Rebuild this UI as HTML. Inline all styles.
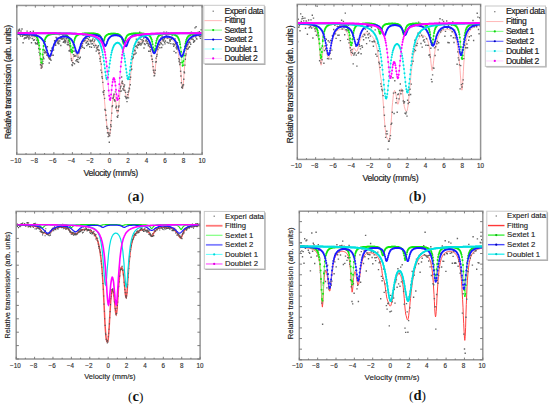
<!DOCTYPE html><html><head><meta charset="utf-8"><style>html,body{margin:0;padding:0;background:#fff;width:550px;height:407px;overflow:hidden}svg{display:block}text{font-family:"Liberation Sans",sans-serif}</style></head><body>
<svg width="550" height="407" viewBox="0 0 550 407">
<rect width="550" height="407" fill="#fff"/>
<defs><clipPath id="clipa"><rect x="16.8" y="5.45" width="185.3" height="148.85"/></clipPath></defs>
<g clip-path="url(#clipa)">
<path d="M16.8 34.0 L17.2 34.0 L17.5 34.0 L17.9 34.0 L18.3 34.1 L18.7 34.1 L19.0 34.1 L19.4 34.1 L19.8 34.1 L20.1 34.2 L20.5 34.2 L20.9 34.2 L21.2 34.2 L21.6 34.3 L22.0 34.3 L22.4 34.3 L22.7 34.4 L23.1 34.4 L23.5 34.4 L23.8 34.5 L24.2 34.5 L24.6 34.5 L25.0 34.6 L25.3 34.6 L25.7 34.7 L26.1 34.7 L26.4 34.8 L26.8 34.8 L27.2 34.9 L27.5 34.9 L27.9 35.0 L28.3 35.1 L28.7 35.1 L29.0 35.2 L29.4 35.3 L29.8 35.4 L30.1 35.5 L30.5 35.6 L30.9 35.7 L31.3 35.8 L31.6 35.9 L32.0 36.1 L32.4 36.2 L32.7 36.4 L33.1 36.6 L33.5 36.8 L33.8 37.0 L34.2 37.2 L34.6 37.5 L35.0 37.8 L35.3 38.2 L35.7 38.6 L36.1 39.1 L36.4 39.6 L36.8 40.3 L37.2 41.0 L37.6 42.0 L37.9 43.1 L38.3 44.5 L38.7 46.2 L39.0 48.3 L39.4 51.0 L39.8 54.2 L40.1 58.0 L40.5 62.2 L40.9 66.0 L41.3 68.6 L41.6 68.9 L42.0 67.2 L42.4 64.1 L42.7 60.8 L43.1 57.8 L43.5 55.4 L43.9 53.6 L44.2 52.5 L44.6 51.8 L45.0 51.5 L45.3 51.5 L45.7 51.8 L46.1 52.3 L46.4 53.0 L46.8 53.9 L47.2 54.8 L47.6 55.8 L47.9 56.7 L48.3 57.5 L48.7 58.2 L49.0 58.6 L49.4 58.7 L49.8 58.5 L50.2 58.0 L50.5 57.2 L50.9 56.3 L51.3 55.1 L51.6 53.8 L52.0 52.5 L52.4 51.2 L52.7 50.0 L53.1 48.8 L53.5 47.7 L53.9 46.6 L54.2 45.7 L54.6 44.9 L55.0 44.1 L55.3 43.4 L55.7 42.8 L56.1 42.2 L56.5 41.7 L56.8 41.3 L57.2 40.9 L57.6 40.5 L57.9 40.2 L58.3 39.9 L58.7 39.7 L59.0 39.4 L59.4 39.3 L59.8 39.1 L60.2 39.0 L60.5 38.8 L60.9 38.7 L61.3 38.7 L61.6 38.6 L62.0 38.6 L62.4 38.6 L62.8 38.6 L63.1 38.6 L63.5 38.6 L63.9 38.7 L64.2 38.8 L64.6 38.9 L65.0 39.0 L65.3 39.2 L65.7 39.4 L66.1 39.7 L66.5 40.0 L66.8 40.3 L67.2 40.8 L67.6 41.3 L67.9 41.9 L68.3 42.7 L68.7 43.6 L69.1 44.7 L69.4 46.2 L69.8 47.9 L70.2 50.1 L70.5 52.6 L70.9 55.5 L71.3 58.4 L71.6 60.6 L72.0 61.5 L72.4 61.0 L72.8 59.6 L73.1 57.8 L73.5 56.3 L73.9 55.2 L74.2 54.6 L74.6 54.4 L75.0 54.5 L75.4 54.9 L75.7 55.4 L76.1 56.0 L76.5 56.5 L76.8 56.9 L77.2 57.1 L77.6 56.9 L77.9 56.5 L78.3 55.8 L78.7 54.8 L79.1 53.7 L79.4 52.5 L79.8 51.3 L80.2 50.0 L80.5 48.9 L80.9 47.8 L81.3 46.8 L81.7 45.9 L82.0 45.1 L82.4 44.4 L82.8 43.8 L83.1 43.2 L83.5 42.7 L83.9 42.3 L84.2 41.9 L84.6 41.6 L85.0 41.4 L85.4 41.1 L85.7 40.9 L86.1 40.8 L86.5 40.6 L86.8 40.5 L87.2 40.5 L87.6 40.4 L88.0 40.4 L88.3 40.4 L88.7 40.4 L89.1 40.4 L89.4 40.5 L89.8 40.5 L90.2 40.6 L90.5 40.7 L90.9 40.9 L91.3 41.0 L91.7 41.2 L92.0 41.4 L92.4 41.6 L92.8 41.8 L93.1 42.1 L93.5 42.3 L93.9 42.7 L94.3 43.0 L94.6 43.4 L95.0 43.8 L95.4 44.3 L95.7 44.8 L96.1 45.3 L96.5 45.9 L96.8 46.6 L97.2 47.4 L97.6 48.2 L98.0 49.2 L98.3 50.2 L98.7 51.4 L99.1 52.7 L99.4 54.3 L99.8 56.0 L100.2 58.0 L100.6 60.3 L100.9 63.0 L101.3 66.1 L101.7 69.6 L102.0 73.6 L102.4 77.8 L102.8 82.0 L103.1 86.1 L103.5 89.8 L103.9 93.6 L104.3 97.6 L104.6 101.8 L105.0 106.2 L105.4 110.6 L105.7 114.8 L106.1 118.6 L106.5 122.0 L106.9 125.1 L107.2 127.7 L107.6 130.0 L108.0 132.1 L108.3 133.9 L108.7 135.3 L109.1 136.2 L109.4 136.1 L109.8 134.7 L110.2 132.0 L110.6 128.0 L110.9 123.1 L111.3 117.8 L111.7 112.4 L112.0 107.4 L112.4 103.1 L112.8 99.5 L113.2 96.8 L113.5 94.9 L113.9 93.9 L114.3 93.8 L114.6 94.5 L115.0 96.1 L115.4 98.3 L115.8 101.2 L116.1 104.5 L116.5 107.7 L116.9 110.6 L117.2 112.6 L117.6 113.3 L118.0 112.4 L118.3 110.1 L118.7 106.6 L119.1 102.5 L119.5 98.1 L119.8 93.9 L120.2 90.1 L120.6 86.9 L120.9 84.4 L121.3 82.6 L121.7 81.6 L122.1 81.4 L122.4 81.9 L122.8 83.0 L123.2 84.7 L123.5 86.4 L123.9 88.0 L124.3 89.2 L124.6 90.2 L125.0 91.4 L125.4 92.7 L125.8 94.2 L126.1 95.6 L126.5 96.8 L126.9 97.6 L127.2 97.9 L127.6 97.7 L128.0 96.8 L128.4 95.2 L128.7 92.8 L129.1 89.9 L129.5 86.5 L129.8 82.8 L130.2 79.1 L130.6 75.4 L130.9 71.9 L131.3 68.7 L131.7 65.7 L132.1 63.0 L132.4 60.5 L132.8 58.4 L133.2 56.4 L133.5 54.7 L133.9 53.1 L134.3 51.8 L134.7 50.5 L135.0 49.4 L135.4 48.5 L135.8 47.6 L136.1 46.8 L136.5 46.1 L136.9 45.5 L137.2 44.9 L137.6 44.4 L138.0 43.9 L138.4 43.5 L138.7 43.1 L139.1 42.8 L139.5 42.5 L139.8 42.2 L140.2 42.0 L140.6 41.8 L141.0 41.6 L141.3 41.4 L141.7 41.3 L142.1 41.2 L142.4 41.1 L142.8 41.1 L143.2 41.1 L143.5 41.1 L143.9 41.1 L144.3 41.1 L144.7 41.2 L145.0 41.3 L145.4 41.5 L145.8 41.7 L146.1 41.9 L146.5 42.2 L146.9 42.5 L147.3 42.9 L147.6 43.3 L148.0 43.8 L148.4 44.4 L148.7 45.1 L149.1 45.9 L149.5 46.9 L149.8 48.0 L150.2 49.2 L150.6 50.7 L151.0 52.4 L151.3 54.4 L151.7 56.7 L152.1 59.3 L152.4 62.2 L152.8 65.5 L153.2 68.8 L153.6 71.8 L153.9 73.9 L154.3 74.3 L154.7 73.0 L155.0 70.3 L155.4 66.9 L155.8 63.6 L156.1 60.4 L156.5 57.5 L156.9 55.1 L157.3 52.9 L157.6 51.0 L158.0 49.3 L158.4 47.9 L158.7 46.7 L159.1 45.6 L159.5 44.6 L159.9 43.8 L160.2 43.1 L160.6 42.5 L161.0 41.9 L161.3 41.4 L161.7 41.0 L162.1 40.6 L162.4 40.3 L162.8 40.0 L163.2 39.7 L163.6 39.5 L163.9 39.3 L164.3 39.1 L164.7 39.0 L165.0 38.9 L165.4 38.7 L165.8 38.7 L166.2 38.6 L166.5 38.5 L166.9 38.5 L167.3 38.5 L167.6 38.5 L168.0 38.5 L168.4 38.5 L168.7 38.6 L169.1 38.7 L169.5 38.7 L169.9 38.8 L170.2 39.0 L170.6 39.1 L171.0 39.3 L171.3 39.4 L171.7 39.7 L172.1 39.9 L172.5 40.2 L172.8 40.5 L173.2 40.8 L173.6 41.2 L173.9 41.7 L174.3 42.2 L174.7 42.7 L175.0 43.3 L175.4 44.0 L175.8 44.8 L176.2 45.7 L176.5 46.7 L176.9 47.9 L177.3 49.1 L177.6 50.5 L178.0 52.1 L178.4 53.9 L178.8 55.9 L179.1 58.2 L179.5 60.7 L179.9 63.4 L180.2 66.5 L180.6 70.0 L181.0 73.9 L181.3 78.1 L181.7 82.5 L182.1 86.4 L182.5 88.7 L182.8 88.6 L183.2 85.8 L183.6 81.0 L183.9 75.5 L184.3 70.2 L184.7 65.4 L185.1 61.4 L185.4 58.0 L185.8 55.1 L186.2 52.7 L186.5 50.6 L186.9 48.9 L187.3 47.4 L187.6 46.1 L188.0 44.9 L188.4 43.9 L188.8 43.1 L189.1 42.3 L189.5 41.6 L189.9 41.0 L190.2 40.5 L190.6 40.0 L191.0 39.5 L191.4 39.1 L191.7 38.8 L192.1 38.5 L192.5 38.2 L192.8 37.9 L193.2 37.6 L193.6 37.4 L193.9 37.2 L194.3 37.0 L194.7 36.8 L195.1 36.6 L195.4 36.5 L195.8 36.3 L196.2 36.2 L196.5 36.1 L196.9 36.0 L197.3 35.8 L197.7 35.7 L198.0 35.6 L198.4 35.5 L198.8 35.5 L199.1 35.4 L199.5 35.3 L199.9 35.2 L200.2 35.2 L200.6 35.1 L201.0 35.0 L201.4 35.0 L201.7 34.9 L202.1 34.9" fill="none" stroke="#ff9a9a" stroke-width="0.8"/>
<path d="M17.0 38.5h0M17.3 39.1h0M17.7 34.3h0M18.1 31.4h0M18.4 30.2h0M18.8 34.2h0M19.2 30.5h0M19.5 29.1h0M19.9 34.8h0M20.2 34.6h0M20.6 36.1h0M21.0 31.0h0M21.3 34.3h0M21.7 34.0h0M22.0 29.0h0M22.4 36.2h0M22.8 35.5h0M23.1 42.8h0M23.5 35.1h0M23.9 34.0h0M24.2 38.8h0M24.6 35.2h0M24.9 37.8h0M25.3 33.3h0M25.7 35.4h0M26.0 38.3h0M26.4 37.2h0M26.8 35.3h0M27.1 31.1h0M27.5 36.5h0M27.8 35.3h0M28.2 37.6h0M28.6 35.9h0M28.9 39.0h0M29.3 35.1h0M29.6 36.1h0M30.0 37.8h0M30.4 31.7h0M30.7 34.2h0M31.1 34.0h0M31.5 42.8h0M31.8 35.7h0M32.2 38.4h0M32.5 38.5h0M32.9 35.5h0M33.3 31.2h0M33.6 40.2h0M34.0 35.7h0M34.4 39.8h0M34.7 33.0h0M35.1 36.4h0M35.4 42.7h0M35.8 43.7h0M36.2 34.6h0M36.5 35.1h0M36.9 40.3h0M37.2 43.7h0M37.6 42.7h0M38.0 44.3h0M38.3 41.2h0M38.7 48.4h0M39.1 52.4h0M39.4 49.5h0M39.8 49.2h0M40.1 55.3h0M40.5 64.7h0M40.9 59.8h0M41.2 68.1h0M41.6 65.5h0M42.0 67.0h0M42.3 63.8h0M42.7 61.4h0M43.0 63.6h0M43.4 57.3h0M43.8 58.7h0M44.1 52.2h0M44.5 50.3h0M44.8 52.9h0M45.2 41.6h0M45.6 51.5h0M45.9 52.7h0M46.3 48.4h0M46.7 55.1h0M47.0 52.4h0M47.4 46.7h0M47.7 55.5h0M48.1 53.7h0M48.5 56.0h0M48.8 57.8h0M49.2 63.0h0M49.6 59.0h0M49.9 58.3h0M50.3 59.2h0M50.6 50.6h0M51.0 60.3h0M51.4 51.0h0M51.7 55.1h0M52.1 48.3h0M52.4 47.6h0M52.8 48.4h0M53.2 55.3h0M53.5 50.0h0M53.9 44.4h0M54.3 44.6h0M54.6 40.8h0M55.0 43.9h0M55.3 41.4h0M55.7 45.3h0M56.1 37.5h0M56.4 40.6h0M56.8 38.3h0M57.2 38.4h0M57.5 43.0h0M57.9 40.7h0M58.2 42.0h0M58.6 43.9h0M59.0 43.5h0M59.3 34.5h0M59.7 41.0h0M60.0 32.8h0M60.4 38.6h0M60.8 45.5h0M61.1 38.0h0M61.5 37.3h0M61.9 39.2h0M62.2 38.6h0M62.6 38.7h0M62.9 35.9h0M63.3 42.4h0M63.7 41.8h0M64.0 38.0h0M64.4 39.9h0M64.8 41.3h0M65.1 42.7h0M65.5 40.7h0M65.8 41.9h0M66.2 38.8h0M66.6 36.3h0M66.9 38.7h0M67.3 44.4h0M67.6 44.8h0M68.0 42.5h0M68.4 40.8h0M68.7 44.8h0M69.1 50.7h0M69.5 51.0h0M69.8 45.7h0M70.2 50.0h0M70.5 47.6h0M70.9 51.5h0M71.3 58.9h0M71.6 60.6h0M72.0 64.8h0M72.4 65.5h0M72.7 62.7h0M73.1 62.7h0M73.4 54.6h0M73.8 51.4h0M74.2 56.4h0M74.5 63.8h0M74.9 55.7h0M75.2 50.7h0M75.6 56.1h0M76.0 60.8h0M76.3 52.7h0M76.7 59.6h0M77.1 54.9h0M77.4 61.5h0M77.8 59.5h0M78.1 57.2h0M78.5 62.3h0M78.9 52.9h0M79.2 50.8h0M79.6 58.5h0M80.0 47.7h0M80.3 57.3h0M80.7 48.3h0M81.0 43.8h0M81.4 46.5h0M81.8 46.1h0M82.1 45.6h0M82.5 43.6h0M82.8 47.4h0M83.2 35.0h0M83.6 40.7h0M83.9 41.3h0M84.3 48.3h0M84.7 34.6h0M85.0 40.2h0M85.4 37.1h0M85.7 38.6h0M86.1 43.0h0M86.5 42.1h0M86.8 45.6h0M87.2 38.4h0M87.6 41.4h0M87.9 44.5h0M88.3 43.5h0M88.6 39.2h0M89.0 44.4h0M89.4 37.2h0M89.7 46.8h0M90.1 41.1h0M90.4 40.3h0M90.8 41.8h0M91.2 43.9h0M91.5 47.2h0M91.9 40.8h0M92.3 40.2h0M92.6 43.8h0M93.0 38.9h0M93.3 36.3h0M93.7 45.4h0M94.1 41.5h0M94.4 47.1h0M94.8 40.0h0M95.2 33.9h0M95.5 45.5h0M95.9 45.5h0M96.2 51.1h0M96.6 48.0h0M97.0 47.9h0M97.3 49.7h0M97.7 47.2h0M98.0 49.7h0M98.4 45.7h0M98.8 53.5h0M99.1 50.2h0M99.5 52.9h0M99.9 58.7h0M100.2 61.4h0M100.6 56.9h0M100.9 70.1h0M101.3 64.1h0M101.7 72.5h0M102.0 76.8h0M102.4 78.4h0M102.8 82.4h0M103.1 92.0h0M103.5 92.5h0M103.8 94.6h0M104.2 90.6h0M104.6 98.4h0M104.9 109.4h0M105.3 110.3h0M105.6 110.4h0M106.0 115.3h0M106.4 120.0h0M106.7 126.5h0M107.1 128.2h0M107.5 132.7h0M107.8 128.5h0M108.2 136.6h0M108.5 133.0h0M108.9 134.8h0M109.3 142.3h0M109.6 135.8h0M110.0 133.1h0M110.4 129.7h0M110.7 124.7h0M111.1 126.5h0M111.4 120.6h0M111.8 113.1h0M112.2 106.6h0M112.5 105.6h0M112.9 98.4h0M113.3 97.8h0M113.6 96.0h0M114.0 94.2h0M114.3 99.7h0M114.7 100.9h0M115.1 101.0h0M115.4 91.9h0M115.8 107.9h0M116.1 107.1h0M116.5 106.3h0M116.9 110.6h0M117.2 116.6h0M117.6 117.4h0M118.0 115.5h0M118.3 110.8h0M118.7 107.1h0M119.0 105.9h0M119.4 98.4h0M119.8 91.4h0M120.1 88.6h0M120.5 87.1h0M120.9 86.1h0M121.2 91.0h0M121.6 77.0h0M121.9 83.0h0M122.3 81.3h0M122.7 83.6h0M123.0 88.7h0M123.4 90.1h0M123.7 86.8h0M124.1 86.7h0M124.5 85.0h0M124.8 90.5h0M125.2 96.4h0M125.6 92.4h0M125.9 97.2h0M126.3 98.6h0M126.6 98.5h0M127.0 101.6h0M127.4 97.5h0M127.7 94.6h0M128.1 92.3h0M128.5 97.9h0M128.8 90.9h0M129.2 88.1h0M129.5 88.7h0M129.9 79.4h0M130.3 84.7h0M130.6 77.3h0M131.0 69.7h0M131.3 66.2h0M131.7 69.3h0M132.1 58.7h0M132.4 58.3h0M132.8 58.4h0M133.2 57.2h0M133.5 54.8h0M133.9 54.6h0M134.2 50.6h0M134.6 50.3h0M135.0 54.0h0M135.3 50.9h0M135.7 46.2h0M136.1 53.0h0M136.4 39.3h0M136.8 45.9h0M137.1 47.4h0M137.5 47.9h0M137.9 44.5h0M138.2 42.3h0M138.6 45.3h0M138.9 42.2h0M139.3 44.3h0M139.7 32.3h0M140.0 43.4h0M140.4 39.1h0M140.8 45.0h0M141.1 44.1h0M141.5 43.9h0M141.8 39.9h0M142.2 42.7h0M142.6 39.9h0M142.9 41.8h0M143.3 40.6h0M143.7 38.0h0M144.0 48.0h0M144.4 43.7h0M144.7 34.0h0M145.1 44.5h0M145.5 36.6h0M145.8 40.9h0M146.2 39.9h0M146.5 40.3h0M146.9 43.4h0M147.3 41.7h0M147.6 38.3h0M148.0 43.8h0M148.4 45.7h0M148.7 51.3h0M149.1 44.4h0M149.4 42.6h0M149.8 46.5h0M150.2 51.3h0M150.5 47.4h0M150.9 49.6h0M151.3 55.9h0M151.6 56.1h0M152.0 59.4h0M152.3 59.2h0M152.7 61.6h0M153.1 66.6h0M153.4 70.3h0M153.8 72.1h0M154.1 75.9h0M154.5 75.6h0M154.9 73.5h0M155.2 70.2h0M155.6 62.1h0M156.0 58.1h0M156.3 61.8h0M156.7 56.4h0M157.0 54.5h0M157.4 48.0h0M157.8 49.6h0M158.1 46.6h0M158.5 44.5h0M158.9 44.1h0M159.2 40.1h0M159.6 44.7h0M159.9 47.7h0M160.3 40.5h0M160.7 42.7h0M161.0 38.0h0M161.4 43.7h0M161.7 47.5h0M162.1 36.3h0M162.5 39.5h0M162.8 44.9h0M163.2 41.0h0M163.6 39.9h0M163.9 32.1h0M164.3 38.6h0M164.6 42.2h0M165.0 43.9h0M165.4 41.0h0M165.7 36.6h0M166.1 36.2h0M166.5 32.2h0M166.8 34.8h0M167.2 42.4h0M167.5 38.1h0M167.9 33.8h0M168.3 43.1h0M168.6 32.7h0M169.0 43.0h0M169.3 37.6h0M169.7 40.0h0M170.1 41.3h0M170.4 39.9h0M170.8 43.6h0M171.2 39.4h0M171.5 38.4h0M171.9 37.5h0M172.2 35.0h0M172.6 37.9h0M173.0 44.1h0M173.3 43.9h0M173.7 46.2h0M174.1 51.4h0M174.4 44.8h0M174.8 44.6h0M175.1 38.9h0M175.5 43.4h0M175.9 52.7h0M176.2 47.7h0M176.6 46.4h0M176.9 49.1h0M177.3 42.6h0M177.7 47.7h0M178.0 47.7h0M178.4 46.5h0M178.8 58.6h0M179.1 61.5h0M179.5 59.9h0M179.8 64.5h0M180.2 62.8h0M180.6 71.2h0M180.9 76.0h0M181.3 82.8h0M181.7 87.2h0M182.0 87.4h0M182.4 88.0h0M182.7 86.0h0M183.1 84.6h0M183.5 84.7h0M183.8 79.2h0M184.2 72.0h0M184.5 72.9h0M184.9 65.1h0M185.3 59.3h0M185.6 55.6h0M186.0 54.0h0M186.4 48.2h0M186.7 46.3h0M187.1 49.4h0M187.4 44.7h0M187.8 44.6h0M188.2 48.8h0M188.5 42.9h0M188.9 47.4h0M189.3 42.0h0M189.6 46.7h0M190.0 42.5h0M190.3 34.2h0M190.7 44.2h0M191.1 38.7h0M191.4 32.2h0M191.8 39.1h0M192.1 39.0h0M192.5 33.6h0M192.9 35.7h0M193.2 39.5h0M193.6 42.3h0M194.0 41.2h0M194.3 41.3h0M194.7 40.7h0M195.0 27.9h0M195.4 33.9h0M195.8 37.0h0M196.1 26.8h0M196.5 38.8h0M196.9 39.1h0M197.2 33.1h0M197.6 34.4h0M197.9 32.4h0M198.3 35.5h0M198.7 35.3h0M199.0 35.4h0M199.4 31.8h0M199.7 36.6h0M200.1 34.0h0M200.5 38.4h0M200.8 36.2h0M201.2 29.8h0M201.6 29.9h0M201.9 35.1h0" stroke="#666" stroke-width="1.4" stroke-linecap="square" fill="none"/>
<path d="M16.8 33.2 L17.2 33.2 L17.5 33.2 L17.9 33.2 L18.3 33.2 L18.7 33.2 L19.0 33.2 L19.4 33.3 L19.8 33.3 L20.1 33.3 L20.5 33.3 L20.9 33.3 L21.2 33.3 L21.6 33.3 L22.0 33.3 L22.4 33.3 L22.7 33.3 L23.1 33.3 L23.5 33.4 L23.8 33.4 L24.2 33.4 L24.6 33.4 L25.0 33.4 L25.3 33.4 L25.7 33.5 L26.1 33.5 L26.4 33.5 L26.8 33.5 L27.2 33.5 L27.5 33.6 L27.9 33.6 L28.3 33.6 L28.7 33.7 L29.0 33.7 L29.4 33.7 L29.8 33.8 L30.1 33.8 L30.5 33.9 L30.9 34.0 L31.3 34.0 L31.6 34.1 L32.0 34.2 L32.4 34.3 L32.7 34.4 L33.1 34.5 L33.5 34.6 L33.8 34.8 L34.2 34.9 L34.6 35.1 L35.0 35.3 L35.3 35.6 L35.7 35.9 L36.1 36.3 L36.4 36.7 L36.8 37.2 L37.2 37.8 L37.6 38.6 L37.9 39.6 L38.3 40.8 L38.7 42.3 L39.0 44.2 L39.4 46.7 L39.8 49.7 L40.1 53.2 L40.5 57.1 L40.9 60.6 L41.3 62.8 L41.6 62.8 L42.0 60.6 L42.4 57.1 L42.7 53.2 L43.1 49.7 L43.5 46.7 L43.9 44.3 L44.2 42.3 L44.6 40.8 L45.0 39.6 L45.3 38.7 L45.7 37.9 L46.1 37.3 L46.4 36.7 L46.8 36.3 L47.2 36.0 L47.6 35.7 L47.9 35.4 L48.3 35.2 L48.7 35.0 L49.0 34.8 L49.4 34.7 L49.8 34.6 L50.2 34.5 L50.5 34.4 L50.9 34.3 L51.3 34.2 L51.6 34.2 L52.0 34.1 L52.4 34.0 L52.7 34.0 L53.1 34.0 L53.5 33.9 L53.9 33.9 L54.2 33.9 L54.6 33.8 L55.0 33.8 L55.3 33.8 L55.7 33.8 L56.1 33.8 L56.5 33.8 L56.8 33.8 L57.2 33.8 L57.6 33.7 L57.9 33.7 L58.3 33.8 L58.7 33.8 L59.0 33.8 L59.4 33.8 L59.8 33.8 L60.2 33.8 L60.5 33.8 L60.9 33.8 L61.3 33.9 L61.6 33.9 L62.0 33.9 L62.4 34.0 L62.8 34.0 L63.1 34.1 L63.5 34.2 L63.9 34.2 L64.2 34.3 L64.6 34.4 L65.0 34.5 L65.3 34.7 L65.7 34.8 L66.1 35.0 L66.5 35.2 L66.8 35.5 L67.2 35.8 L67.6 36.2 L67.9 36.7 L68.3 37.3 L68.7 38.0 L69.1 38.9 L69.4 40.1 L69.8 41.6 L70.2 43.4 L70.5 45.7 L70.9 48.2 L71.3 50.5 L71.6 52.2 L72.0 52.6 L72.4 51.5 L72.8 49.4 L73.1 46.9 L73.5 44.5 L73.9 42.4 L74.2 40.8 L74.6 39.5 L75.0 38.4 L75.4 37.6 L75.7 36.9 L76.1 36.4 L76.5 35.9 L76.8 35.6 L77.2 35.3 L77.6 35.1 L77.9 34.9 L78.3 34.7 L78.7 34.5 L79.1 34.4 L79.4 34.3 L79.8 34.2 L80.2 34.1 L80.5 34.0 L80.9 34.0 L81.3 33.9 L81.7 33.9 L82.0 33.8 L82.4 33.8 L82.8 33.7 L83.1 33.7 L83.5 33.7 L83.9 33.6 L84.2 33.6 L84.6 33.6 L85.0 33.6 L85.4 33.6 L85.7 33.6 L86.1 33.5 L86.5 33.5 L86.8 33.5 L87.2 33.5 L87.6 33.5 L88.0 33.5 L88.3 33.5 L88.7 33.5 L89.1 33.5 L89.4 33.5 L89.8 33.5 L90.2 33.5 L90.5 33.5 L90.9 33.5 L91.3 33.5 L91.7 33.5 L92.0 33.5 L92.4 33.5 L92.8 33.5 L93.1 33.6 L93.5 33.6 L93.9 33.6 L94.3 33.6 L94.6 33.7 L95.0 33.7 L95.4 33.7 L95.7 33.8 L96.1 33.8 L96.5 33.9 L96.8 34.0 L97.2 34.1 L97.6 34.2 L98.0 34.3 L98.3 34.5 L98.7 34.6 L99.1 34.9 L99.4 35.2 L99.8 35.5 L100.2 36.0 L100.6 36.6 L100.9 37.3 L101.3 38.2 L101.7 39.3 L102.0 40.4 L102.4 41.5 L102.8 42.1 L103.1 42.1 L103.5 41.5 L103.9 40.4 L104.3 39.3 L104.6 38.2 L105.0 37.3 L105.4 36.6 L105.7 36.0 L106.1 35.6 L106.5 35.2 L106.9 34.9 L107.2 34.7 L107.6 34.5 L108.0 34.4 L108.3 34.2 L108.7 34.1 L109.1 34.0 L109.4 34.0 L109.8 33.9 L110.2 33.9 L110.6 33.8 L110.9 33.8 L111.3 33.8 L111.7 33.8 L112.0 33.7 L112.4 33.7 L112.8 33.7 L113.2 33.7 L113.5 33.7 L113.9 33.7 L114.3 33.7 L114.6 33.8 L115.0 33.8 L115.4 33.8 L115.8 33.8 L116.1 33.9 L116.5 33.9 L116.9 34.0 L117.2 34.0 L117.6 34.1 L118.0 34.2 L118.3 34.3 L118.7 34.5 L119.1 34.6 L119.5 34.9 L119.8 35.1 L120.2 35.4 L120.6 35.8 L120.9 36.3 L121.3 36.9 L121.7 37.7 L122.1 38.7 L122.4 39.9 L122.8 41.3 L123.2 42.6 L123.5 43.5 L123.9 43.7 L124.3 43.1 L124.6 41.9 L125.0 40.6 L125.4 39.3 L125.8 38.2 L126.1 37.3 L126.5 36.6 L126.9 36.0 L127.2 35.6 L127.6 35.2 L128.0 34.9 L128.4 34.7 L128.7 34.5 L129.1 34.4 L129.5 34.2 L129.8 34.1 L130.2 34.0 L130.6 34.0 L130.9 33.9 L131.3 33.8 L131.7 33.8 L132.1 33.7 L132.4 33.7 L132.8 33.7 L133.2 33.7 L133.5 33.6 L133.9 33.6 L134.3 33.6 L134.7 33.6 L135.0 33.6 L135.4 33.6 L135.8 33.5 L136.1 33.5 L136.5 33.5 L136.9 33.5 L137.2 33.5 L137.6 33.5 L138.0 33.5 L138.4 33.5 L138.7 33.5 L139.1 33.5 L139.5 33.5 L139.8 33.6 L140.2 33.6 L140.6 33.6 L141.0 33.6 L141.3 33.6 L141.7 33.6 L142.1 33.7 L142.4 33.7 L142.8 33.7 L143.2 33.7 L143.5 33.8 L143.9 33.8 L144.3 33.8 L144.7 33.9 L145.0 33.9 L145.4 34.0 L145.8 34.1 L146.1 34.1 L146.5 34.2 L146.9 34.3 L147.3 34.5 L147.6 34.6 L148.0 34.7 L148.4 34.9 L148.7 35.1 L149.1 35.4 L149.5 35.7 L149.8 36.1 L150.2 36.6 L150.6 37.1 L151.0 37.9 L151.3 38.8 L151.7 39.9 L152.1 41.4 L152.4 43.2 L152.8 45.4 L153.2 47.8 L153.6 50.1 L153.9 51.8 L154.3 52.2 L154.7 51.1 L155.0 49.0 L155.4 46.6 L155.8 44.2 L156.1 42.3 L156.5 40.6 L156.9 39.4 L157.3 38.3 L157.6 37.5 L158.0 36.9 L158.4 36.4 L158.7 36.0 L159.1 35.6 L159.5 35.3 L159.9 35.1 L160.2 34.9 L160.6 34.8 L161.0 34.6 L161.3 34.5 L161.7 34.4 L162.1 34.3 L162.4 34.2 L162.8 34.2 L163.2 34.1 L163.6 34.1 L163.9 34.0 L164.3 34.0 L164.7 34.0 L165.0 33.9 L165.4 33.9 L165.8 33.9 L166.2 33.9 L166.5 33.9 L166.9 33.9 L167.3 33.9 L167.6 33.9 L168.0 33.9 L168.4 33.9 L168.7 33.9 L169.1 33.9 L169.5 33.9 L169.9 34.0 L170.2 34.0 L170.6 34.0 L171.0 34.1 L171.3 34.1 L171.7 34.2 L172.1 34.2 L172.5 34.3 L172.8 34.3 L173.2 34.4 L173.6 34.5 L173.9 34.6 L174.3 34.7 L174.7 34.8 L175.0 35.0 L175.4 35.2 L175.8 35.4 L176.2 35.6 L176.5 35.9 L176.9 36.2 L177.3 36.6 L177.6 37.0 L178.0 37.5 L178.4 38.2 L178.8 39.0 L179.1 40.0 L179.5 41.3 L179.9 42.8 L180.2 44.8 L180.6 47.3 L181.0 50.5 L181.3 54.2 L181.7 58.4 L182.1 62.5 L182.5 65.4 L182.8 66.0 L183.2 64.2 L183.6 60.5 L183.9 56.3 L184.3 52.3 L184.7 48.8 L185.1 46.0 L185.4 43.7 L185.8 42.0 L186.2 40.5 L186.5 39.4 L186.9 38.5 L187.3 37.8 L187.6 37.2 L188.0 36.7 L188.4 36.3 L188.8 35.9 L189.1 35.6 L189.5 35.4 L189.9 35.2 L190.2 35.0 L190.6 34.8 L191.0 34.7 L191.4 34.5 L191.7 34.4 L192.1 34.3 L192.5 34.2 L192.8 34.1 L193.2 34.1 L193.6 34.0 L193.9 33.9 L194.3 33.9 L194.7 33.8 L195.1 33.8 L195.4 33.7 L195.8 33.7 L196.2 33.7 L196.5 33.6 L196.9 33.6 L197.3 33.6 L197.7 33.6 L198.0 33.5 L198.4 33.5 L198.8 33.5 L199.1 33.5 L199.5 33.4 L199.9 33.4 L200.2 33.4 L200.6 33.4 L201.0 33.4 L201.4 33.4 L201.7 33.4 L202.1 33.3" fill="none" stroke="#80ff80" stroke-width="1"/>
<path d="M17.0 33.2h0M17.5 33.2h0M18.0 33.2h0M18.5 33.2h0M19.0 33.2h0M19.5 33.3h0M19.9 33.3h0M20.4 33.3h0M20.9 33.3h0M21.4 33.3h0M21.9 33.3h0M22.3 33.3h0M22.8 33.3h0M23.3 33.4h0M23.8 33.4h0M24.3 33.4h0M24.8 33.4h0M25.2 33.4h0M25.7 33.5h0M26.2 33.5h0M26.7 33.5h0M27.2 33.5h0M27.7 33.6h0M28.1 33.6h0M28.6 33.7h0M29.1 33.7h0M29.6 33.8h0M30.1 33.8h0M30.6 33.9h0M31.0 34.0h0M31.5 34.1h0M32.0 34.2h0M32.5 34.3h0M33.0 34.4h0M33.4 34.6h0M33.9 34.8h0M34.4 35.0h0M34.9 35.3h0M35.4 35.6h0M35.9 36.0h0M36.3 36.6h0M36.8 37.2h0M37.3 38.1h0M37.8 39.2h0M38.3 40.7h0M38.8 42.7h0M39.2 45.5h0M39.7 49.2h0M40.2 53.8h0M40.7 58.8h0M41.2 62.4h0M41.7 62.7h0M42.1 59.5h0M42.6 54.5h0M43.1 49.8h0M43.6 46.0h0M44.1 43.1h0M44.5 41.0h0M45.0 39.4h0M45.5 38.3h0M46.0 37.4h0M46.5 36.7h0M47.0 36.2h0M47.4 35.8h0M47.9 35.4h0M48.4 35.1h0M48.9 34.9h0M49.4 34.7h0M49.9 34.6h0M50.3 34.4h0M50.8 34.3h0M51.3 34.2h0M51.8 34.1h0M52.3 34.1h0M52.8 34.0h0M53.2 33.9h0M53.7 33.9h0M54.2 33.9h0M54.7 33.8h0M55.2 33.8h0M55.6 33.8h0M56.1 33.8h0M56.6 33.8h0M57.1 33.8h0M57.6 33.7h0M58.1 33.7h0M58.5 33.8h0M59.0 33.8h0M59.5 33.8h0M60.0 33.8h0M60.5 33.8h0M61.0 33.9h0M61.4 33.9h0M61.9 33.9h0M62.4 34.0h0M62.9 34.1h0M63.4 34.1h0M63.8 34.2h0M64.3 34.3h0M64.8 34.5h0M65.3 34.6h0M65.8 34.8h0M66.3 35.1h0M66.7 35.4h0M67.2 35.8h0M67.7 36.4h0M68.2 37.0h0M68.7 38.0h0M69.2 39.2h0M69.6 40.9h0M70.1 43.2h0M70.6 46.1h0M71.1 49.4h0M71.6 52.0h0M72.1 52.6h0M72.5 50.8h0M73.0 47.7h0M73.5 44.5h0M74.0 41.9h0M74.5 39.9h0M74.9 38.5h0M75.4 37.4h0M75.9 36.6h0M76.4 36.0h0M76.9 35.6h0M77.4 35.2h0M77.8 34.9h0M78.3 34.7h0M78.8 34.5h0M79.3 34.3h0M79.8 34.2h0M80.3 34.1h0M80.7 34.0h0M81.2 33.9h0M81.7 33.9h0M82.2 33.8h0M82.7 33.7h0M83.2 33.7h0M83.6 33.7h0M84.1 33.6h0M84.6 33.6h0M85.1 33.6h0M85.6 33.6h0M86.0 33.5h0M86.5 33.5h0M87.0 33.5h0M87.5 33.5h0M88.0 33.5h0M88.5 33.5h0M88.9 33.5h0M89.4 33.5h0M89.9 33.5h0M90.4 33.5h0M90.9 33.5h0M91.4 33.5h0M91.8 33.5h0M92.3 33.5h0M92.8 33.5h0M93.3 33.6h0M93.8 33.6h0M94.2 33.6h0M94.7 33.7h0M95.2 33.7h0M95.7 33.8h0M96.2 33.9h0M96.7 33.9h0M97.1 34.1h0M97.6 34.2h0M98.1 34.4h0M98.6 34.6h0M99.1 34.9h0M99.6 35.3h0M100.0 35.8h0M100.5 36.5h0M101.0 37.5h0M101.5 38.7h0M102.0 40.2h0M102.5 41.6h0M102.9 42.2h0M103.4 41.7h0M103.9 40.4h0M104.4 38.9h0M104.9 37.6h0M105.3 36.6h0M105.8 35.9h0M106.3 35.4h0M106.8 35.0h0M107.3 34.7h0M107.8 34.4h0M108.2 34.3h0M108.7 34.1h0M109.2 34.0h0M109.7 33.9h0M110.2 33.9h0M110.7 33.8h0M111.1 33.8h0M111.6 33.8h0M112.1 33.7h0M112.6 33.7h0M113.1 33.7h0M113.6 33.7h0M114.0 33.7h0M114.5 33.7h0M115.0 33.8h0M115.5 33.8h0M116.0 33.9h0M116.4 33.9h0M116.9 34.0h0M117.4 34.1h0M117.9 34.2h0M118.4 34.3h0M118.9 34.5h0M119.3 34.8h0M119.8 35.1h0M120.3 35.5h0M120.8 36.1h0M121.3 36.9h0M121.8 37.9h0M122.2 39.3h0M122.7 41.0h0M123.2 42.7h0M123.7 43.7h0M124.2 43.3h0M124.7 41.9h0M125.1 40.2h0M125.6 38.6h0M126.1 37.4h0M126.6 36.5h0M127.1 35.8h0M127.5 35.3h0M128.0 34.9h0M128.5 34.6h0M129.0 34.4h0M129.5 34.2h0M130.0 34.1h0M130.4 34.0h0M130.9 33.9h0M131.4 33.8h0M131.9 33.8h0M132.4 33.7h0M132.9 33.7h0M133.3 33.6h0M133.8 33.6h0M134.3 33.6h0M134.8 33.6h0M135.3 33.6h0M135.7 33.5h0M136.2 33.5h0M136.7 33.5h0M137.2 33.5h0M137.7 33.5h0M138.2 33.5h0M138.6 33.5h0M139.1 33.5h0M139.6 33.6h0M140.1 33.6h0M140.6 33.6h0M141.1 33.6h0M141.5 33.6h0M142.0 33.6h0M142.5 33.7h0M143.0 33.7h0M143.5 33.8h0M144.0 33.8h0M144.4 33.9h0M144.9 33.9h0M145.4 34.0h0M145.9 34.1h0M146.4 34.2h0M146.8 34.3h0M147.3 34.5h0M147.8 34.7h0M148.3 34.9h0M148.8 35.2h0M149.3 35.5h0M149.7 36.0h0M150.2 36.6h0M150.7 37.4h0M151.2 38.4h0M151.7 39.8h0M152.2 41.8h0M152.6 44.3h0M153.1 47.4h0M153.6 50.4h0M154.1 52.1h0M154.6 51.5h0M155.1 48.9h0M155.5 45.7h0M156.0 42.9h0M156.5 40.7h0M157.0 39.1h0M157.5 37.9h0M157.9 37.0h0M158.4 36.3h0M158.9 35.8h0M159.4 35.4h0M159.9 35.1h0M160.4 34.9h0M160.8 34.7h0M161.3 34.5h0M161.8 34.4h0M162.3 34.3h0M162.8 34.2h0M163.3 34.1h0M163.7 34.0h0M164.2 34.0h0M164.7 34.0h0M165.2 33.9h0M165.7 33.9h0M166.1 33.9h0M166.6 33.9h0M167.1 33.9h0M167.6 33.9h0M168.1 33.9h0M168.6 33.9h0M169.0 33.9h0M169.5 33.9h0M170.0 34.0h0M170.5 34.0h0M171.0 34.1h0M171.5 34.1h0M171.9 34.2h0M172.4 34.3h0M172.9 34.4h0M173.4 34.5h0M173.9 34.6h0M174.4 34.7h0M174.8 34.9h0M175.3 35.1h0M175.8 35.4h0M176.3 35.7h0M176.8 36.1h0M177.2 36.5h0M177.7 37.1h0M178.2 37.9h0M178.7 38.9h0M179.2 40.2h0M179.7 41.9h0M180.1 44.3h0M180.6 47.5h0M181.1 51.7h0M181.6 57.0h0M182.1 62.4h0M182.6 65.8h0M183.0 65.2h0M183.5 61.1h0M184.0 55.6h0M184.5 50.5h0M185.0 46.5h0M185.5 43.6h0M185.9 41.4h0M186.4 39.8h0M186.9 38.5h0M187.4 37.6h0M187.9 36.9h0M188.3 36.3h0M188.8 35.9h0M189.3 35.5h0M189.8 35.2h0M190.3 35.0h0M190.8 34.7h0M191.2 34.6h0M191.7 34.4h0M192.2 34.3h0M192.7 34.2h0M193.2 34.1h0M193.7 34.0h0M194.1 33.9h0M194.6 33.8h0M195.1 33.8h0M195.6 33.7h0M196.1 33.7h0M196.6 33.6h0M197.0 33.6h0M197.5 33.6h0M198.0 33.5h0M198.5 33.5h0M199.0 33.5h0M199.4 33.5h0M199.9 33.4h0M200.4 33.4h0M200.9 33.4h0M201.4 33.4h0M201.9 33.4h0" stroke="#10e810" stroke-width="2.0" stroke-linecap="round" fill="none"/>
<path d="M16.8 33.5 L17.2 33.5 L17.5 33.6 L17.9 33.6 L18.3 33.6 L18.7 33.6 L19.0 33.6 L19.4 33.6 L19.8 33.6 L20.1 33.6 L20.5 33.7 L20.9 33.7 L21.2 33.7 L21.6 33.7 L22.0 33.7 L22.4 33.7 L22.7 33.7 L23.1 33.8 L23.5 33.8 L23.8 33.8 L24.2 33.8 L24.6 33.8 L25.0 33.9 L25.3 33.9 L25.7 33.9 L26.1 33.9 L26.4 34.0 L26.8 34.0 L27.2 34.0 L27.5 34.0 L27.9 34.1 L28.3 34.1 L28.7 34.1 L29.0 34.2 L29.4 34.2 L29.8 34.3 L30.1 34.3 L30.5 34.3 L30.9 34.4 L31.3 34.4 L31.6 34.5 L32.0 34.5 L32.4 34.6 L32.7 34.7 L33.1 34.7 L33.5 34.8 L33.8 34.9 L34.2 35.0 L34.6 35.0 L35.0 35.1 L35.3 35.2 L35.7 35.3 L36.1 35.4 L36.4 35.5 L36.8 35.7 L37.2 35.8 L37.6 36.0 L37.9 36.1 L38.3 36.3 L38.7 36.5 L39.0 36.7 L39.4 36.9 L39.8 37.1 L40.1 37.4 L40.5 37.7 L40.9 38.0 L41.3 38.3 L41.6 38.7 L42.0 39.1 L42.4 39.6 L42.7 40.1 L43.1 40.6 L43.5 41.2 L43.9 41.9 L44.2 42.7 L44.6 43.5 L45.0 44.4 L45.3 45.4 L45.7 46.4 L46.1 47.6 L46.4 48.8 L46.8 50.1 L47.2 51.3 L47.6 52.6 L47.9 53.8 L48.3 54.8 L48.7 55.6 L49.0 56.2 L49.4 56.5 L49.8 56.4 L50.2 56.0 L50.5 55.3 L50.9 54.4 L51.3 53.3 L51.6 52.1 L52.0 50.8 L52.4 49.6 L52.7 48.4 L53.1 47.2 L53.5 46.1 L53.9 45.1 L54.2 44.2 L54.6 43.4 L55.0 42.6 L55.3 41.9 L55.7 41.3 L56.1 40.7 L56.5 40.2 L56.8 39.8 L57.2 39.4 L57.6 39.0 L57.9 38.7 L58.3 38.4 L58.7 38.1 L59.0 37.9 L59.4 37.7 L59.8 37.5 L60.2 37.3 L60.5 37.2 L60.9 37.1 L61.3 37.0 L61.6 36.9 L62.0 36.8 L62.4 36.7 L62.8 36.6 L63.1 36.6 L63.5 36.6 L63.9 36.5 L64.2 36.5 L64.6 36.5 L65.0 36.5 L65.3 36.6 L65.7 36.6 L66.1 36.7 L66.5 36.7 L66.8 36.8 L67.2 36.9 L67.6 37.0 L67.9 37.1 L68.3 37.3 L68.7 37.5 L69.1 37.7 L69.4 37.9 L69.8 38.1 L70.2 38.4 L70.5 38.7 L70.9 39.1 L71.3 39.5 L71.6 40.0 L72.0 40.5 L72.4 41.1 L72.8 41.8 L73.1 42.5 L73.5 43.4 L73.9 44.3 L74.2 45.3 L74.6 46.4 L75.0 47.5 L75.4 48.7 L75.7 49.9 L76.1 51.0 L76.5 51.9 L76.8 52.6 L77.2 53.0 L77.6 53.1 L77.9 52.8 L78.3 52.2 L78.7 51.4 L79.1 50.3 L79.4 49.2 L79.8 48.0 L80.2 46.8 L80.5 45.7 L80.9 44.6 L81.3 43.6 L81.7 42.7 L82.0 41.9 L82.4 41.2 L82.8 40.5 L83.1 39.9 L83.5 39.4 L83.9 38.9 L84.2 38.5 L84.6 38.1 L85.0 37.8 L85.4 37.5 L85.7 37.2 L86.1 37.0 L86.5 36.8 L86.8 36.6 L87.2 36.4 L87.6 36.3 L88.0 36.1 L88.3 36.0 L88.7 35.9 L89.1 35.8 L89.4 35.7 L89.8 35.6 L90.2 35.5 L90.5 35.4 L90.9 35.4 L91.3 35.3 L91.7 35.3 L92.0 35.2 L92.4 35.2 L92.8 35.2 L93.1 35.2 L93.5 35.2 L93.9 35.2 L94.3 35.2 L94.6 35.2 L95.0 35.2 L95.4 35.2 L95.7 35.2 L96.1 35.3 L96.5 35.3 L96.8 35.4 L97.2 35.5 L97.6 35.5 L98.0 35.6 L98.3 35.8 L98.7 35.9 L99.1 36.1 L99.4 36.3 L99.8 36.5 L100.2 36.8 L100.6 37.1 L100.9 37.5 L101.3 37.9 L101.7 38.4 L102.0 39.1 L102.4 39.8 L102.8 40.6 L103.1 41.5 L103.5 42.5 L103.9 43.5 L104.3 44.5 L104.6 45.3 L105.0 45.8 L105.4 45.9 L105.7 45.6 L106.1 44.9 L106.5 44.0 L106.9 43.0 L107.2 42.0 L107.6 41.0 L108.0 40.1 L108.3 39.4 L108.7 38.7 L109.1 38.1 L109.4 37.7 L109.8 37.3 L110.2 36.9 L110.6 36.6 L110.9 36.4 L111.3 36.1 L111.7 36.0 L112.0 35.8 L112.4 35.7 L112.8 35.6 L113.2 35.5 L113.5 35.4 L113.9 35.3 L114.3 35.3 L114.6 35.3 L115.0 35.2 L115.4 35.2 L115.8 35.2 L116.1 35.2 L116.5 35.3 L116.9 35.3 L117.2 35.3 L117.6 35.4 L118.0 35.5 L118.3 35.5 L118.7 35.6 L119.1 35.8 L119.5 35.9 L119.8 36.1 L120.2 36.3 L120.6 36.5 L120.9 36.8 L121.3 37.1 L121.7 37.5 L122.1 38.0 L122.4 38.5 L122.8 39.1 L123.2 39.9 L123.5 40.7 L123.9 41.7 L124.3 42.7 L124.6 43.8 L125.0 44.8 L125.4 45.6 L125.8 46.1 L126.1 46.2 L126.5 45.9 L126.9 45.2 L127.2 44.3 L127.6 43.2 L128.0 42.2 L128.4 41.2 L128.7 40.3 L129.1 39.5 L129.5 38.8 L129.8 38.3 L130.2 37.8 L130.6 37.3 L130.9 37.0 L131.3 36.7 L131.7 36.4 L132.1 36.2 L132.4 36.0 L132.8 35.9 L133.2 35.7 L133.5 35.6 L133.9 35.5 L134.3 35.4 L134.7 35.4 L135.0 35.3 L135.4 35.2 L135.8 35.2 L136.1 35.2 L136.5 35.2 L136.9 35.1 L137.2 35.1 L137.6 35.1 L138.0 35.1 L138.4 35.2 L138.7 35.2 L139.1 35.2 L139.5 35.2 L139.8 35.3 L140.2 35.3 L140.6 35.4 L141.0 35.4 L141.3 35.5 L141.7 35.6 L142.1 35.6 L142.4 35.7 L142.8 35.8 L143.2 35.9 L143.5 36.1 L143.9 36.2 L144.3 36.4 L144.7 36.5 L145.0 36.7 L145.4 36.9 L145.8 37.2 L146.1 37.4 L146.5 37.7 L146.9 38.0 L147.3 38.4 L147.6 38.8 L148.0 39.2 L148.4 39.7 L148.7 40.3 L149.1 40.9 L149.5 41.6 L149.8 42.4 L150.2 43.3 L150.6 44.2 L151.0 45.3 L151.3 46.4 L151.7 47.6 L152.1 48.8 L152.4 50.0 L152.8 51.1 L153.2 52.0 L153.6 52.8 L153.9 53.2 L154.3 53.3 L154.7 53.0 L155.0 52.5 L155.4 51.6 L155.8 50.6 L156.1 49.5 L156.5 48.3 L156.9 47.1 L157.3 46.0 L157.6 44.9 L158.0 43.9 L158.4 43.1 L158.7 42.3 L159.1 41.5 L159.5 40.9 L159.9 40.3 L160.2 39.8 L160.6 39.4 L161.0 39.0 L161.3 38.7 L161.7 38.4 L162.1 38.1 L162.4 37.8 L162.8 37.6 L163.2 37.5 L163.6 37.3 L163.9 37.2 L164.3 37.0 L164.7 36.9 L165.0 36.9 L165.4 36.8 L165.8 36.7 L166.2 36.7 L166.5 36.7 L166.9 36.7 L167.3 36.7 L167.6 36.7 L168.0 36.7 L168.4 36.7 L168.7 36.8 L169.1 36.8 L169.5 36.9 L169.9 37.0 L170.2 37.1 L170.6 37.2 L171.0 37.4 L171.3 37.5 L171.7 37.7 L172.1 37.9 L172.5 38.1 L172.8 38.4 L173.2 38.7 L173.6 39.0 L173.9 39.3 L174.3 39.7 L174.7 40.2 L175.0 40.6 L175.4 41.2 L175.8 41.8 L176.2 42.5 L176.5 43.2 L176.9 44.0 L177.3 44.9 L177.6 45.9 L178.0 47.0 L178.4 48.1 L178.8 49.3 L179.1 50.5 L179.5 51.8 L179.9 53.0 L180.2 54.1 L180.6 55.1 L181.0 55.9 L181.3 56.3 L181.7 56.5 L182.1 56.3 L182.5 55.8 L182.8 55.0 L183.2 54.1 L183.6 52.9 L183.9 51.7 L184.3 50.4 L184.7 49.1 L185.1 47.9 L185.4 46.7 L185.8 45.6 L186.2 44.6 L186.5 43.7 L186.9 42.9 L187.3 42.1 L187.6 41.4 L188.0 40.8 L188.4 40.2 L188.8 39.7 L189.1 39.2 L189.5 38.8 L189.9 38.4 L190.2 38.1 L190.6 37.7 L191.0 37.5 L191.4 37.2 L191.7 36.9 L192.1 36.7 L192.5 36.5 L192.8 36.3 L193.2 36.2 L193.6 36.0 L193.9 35.8 L194.3 35.7 L194.7 35.6 L195.1 35.5 L195.4 35.4 L195.8 35.2 L196.2 35.2 L196.5 35.1 L196.9 35.0 L197.3 34.9 L197.7 34.8 L198.0 34.8 L198.4 34.7 L198.8 34.6 L199.1 34.6 L199.5 34.5 L199.9 34.5 L200.2 34.4 L200.6 34.4 L201.0 34.3 L201.4 34.3 L201.7 34.2 L202.1 34.2" fill="none" stroke="#6060ff" stroke-width="1"/>
<path d="M17.0 33.5h0M17.5 33.6h0M18.0 33.6h0M18.5 33.6h0M19.0 33.6h0M19.5 33.6h0M19.9 33.6h0M20.4 33.6h0M20.9 33.7h0M21.4 33.7h0M21.9 33.7h0M22.3 33.7h0M22.8 33.8h0M23.3 33.8h0M23.8 33.8h0M24.3 33.8h0M24.8 33.9h0M25.2 33.9h0M25.7 33.9h0M26.2 33.9h0M26.7 34.0h0M27.2 34.0h0M27.7 34.1h0M28.1 34.1h0M28.6 34.1h0M29.1 34.2h0M29.6 34.2h0M30.1 34.3h0M30.6 34.4h0M31.0 34.4h0M31.5 34.5h0M32.0 34.5h0M32.5 34.6h0M33.0 34.7h0M33.4 34.8h0M33.9 34.9h0M34.4 35.0h0M34.9 35.1h0M35.4 35.2h0M35.9 35.4h0M36.3 35.5h0M36.8 35.7h0M37.3 35.9h0M37.8 36.1h0M38.3 36.3h0M38.8 36.5h0M39.2 36.8h0M39.7 37.1h0M40.2 37.4h0M40.7 37.8h0M41.2 38.2h0M41.7 38.7h0M42.1 39.3h0M42.6 39.9h0M43.1 40.6h0M43.6 41.4h0M44.1 42.3h0M44.5 43.4h0M45.0 44.5h0M45.5 45.9h0M46.0 47.3h0M46.5 48.9h0M47.0 50.5h0M47.4 52.2h0M47.9 53.7h0M48.4 55.1h0M48.9 56.0h0M49.4 56.4h0M49.9 56.3h0M50.3 55.7h0M50.8 54.6h0M51.3 53.2h0M51.8 51.6h0M52.3 50.0h0M52.8 48.4h0M53.2 46.9h0M53.7 45.5h0M54.2 44.3h0M54.7 43.2h0M55.2 42.2h0M55.6 41.4h0M56.1 40.7h0M56.6 40.0h0M57.1 39.5h0M57.6 39.0h0M58.1 38.6h0M58.5 38.2h0M59.0 37.9h0M59.5 37.7h0M60.0 37.4h0M60.5 37.2h0M61.0 37.1h0M61.4 36.9h0M61.9 36.8h0M62.4 36.7h0M62.9 36.6h0M63.4 36.6h0M63.8 36.5h0M64.3 36.5h0M64.8 36.5h0M65.3 36.6h0M65.8 36.6h0M66.3 36.7h0M66.7 36.8h0M67.2 36.9h0M67.7 37.1h0M68.2 37.2h0M68.7 37.5h0M69.2 37.7h0M69.6 38.0h0M70.1 38.4h0M70.6 38.8h0M71.1 39.3h0M71.6 39.9h0M72.1 40.6h0M72.5 41.4h0M73.0 42.3h0M73.5 43.4h0M74.0 44.6h0M74.5 45.9h0M74.9 47.4h0M75.4 48.9h0M75.9 50.4h0M76.4 51.7h0M76.9 52.6h0M77.4 53.1h0M77.8 52.9h0M78.3 52.2h0M78.8 51.1h0M79.3 49.6h0M79.8 48.1h0M80.3 46.5h0M80.7 45.1h0M81.2 43.8h0M81.7 42.6h0M82.2 41.6h0M82.7 40.7h0M83.2 39.9h0M83.6 39.2h0M84.1 38.7h0M84.6 38.2h0M85.1 37.7h0M85.6 37.4h0M86.0 37.0h0M86.5 36.8h0M87.0 36.5h0M87.5 36.3h0M88.0 36.1h0M88.5 35.9h0M88.9 35.8h0M89.4 35.7h0M89.9 35.6h0M90.4 35.5h0M90.9 35.4h0M91.4 35.3h0M91.8 35.3h0M92.3 35.2h0M92.8 35.2h0M93.3 35.2h0M93.8 35.2h0M94.2 35.2h0M94.7 35.2h0M95.2 35.2h0M95.7 35.2h0M96.2 35.3h0M96.7 35.3h0M97.1 35.4h0M97.6 35.5h0M98.1 35.7h0M98.6 35.9h0M99.1 36.1h0M99.6 36.3h0M100.0 36.7h0M100.5 37.1h0M101.0 37.6h0M101.5 38.2h0M102.0 38.9h0M102.5 39.9h0M102.9 41.0h0M103.4 42.2h0M103.9 43.6h0M104.4 44.8h0M104.9 45.7h0M105.3 45.9h0M105.8 45.5h0M106.3 44.5h0M106.8 43.2h0M107.3 41.8h0M107.8 40.6h0M108.2 39.6h0M108.7 38.7h0M109.2 38.0h0M109.7 37.4h0M110.2 36.9h0M110.7 36.5h0M111.1 36.2h0M111.6 36.0h0M112.1 35.8h0M112.6 35.6h0M113.1 35.5h0M113.6 35.4h0M114.0 35.3h0M114.5 35.3h0M115.0 35.2h0M115.5 35.2h0M116.0 35.2h0M116.4 35.2h0M116.9 35.3h0M117.4 35.4h0M117.9 35.4h0M118.4 35.5h0M118.9 35.7h0M119.3 35.9h0M119.8 36.1h0M120.3 36.4h0M120.8 36.7h0M121.3 37.1h0M121.8 37.6h0M122.2 38.2h0M122.7 39.0h0M123.2 40.0h0M123.7 41.1h0M124.2 42.4h0M124.7 43.8h0M125.1 45.0h0M125.6 45.9h0M126.1 46.2h0M126.6 45.8h0M127.1 44.7h0M127.5 43.4h0M128.0 42.1h0M128.5 40.8h0M129.0 39.7h0M129.5 38.8h0M130.0 38.1h0M130.4 37.5h0M130.9 37.0h0M131.4 36.6h0M131.9 36.3h0M132.4 36.0h0M132.9 35.8h0M133.3 35.7h0M133.8 35.5h0M134.3 35.4h0M134.8 35.3h0M135.3 35.3h0M135.7 35.2h0M136.2 35.2h0M136.7 35.1h0M137.2 35.1h0M137.7 35.1h0M138.2 35.1h0M138.6 35.2h0M139.1 35.2h0M139.6 35.2h0M140.1 35.3h0M140.6 35.4h0M141.1 35.4h0M141.5 35.5h0M142.0 35.6h0M142.5 35.8h0M143.0 35.9h0M143.5 36.0h0M144.0 36.2h0M144.4 36.4h0M144.9 36.7h0M145.4 36.9h0M145.9 37.2h0M146.4 37.6h0M146.8 38.0h0M147.3 38.5h0M147.8 39.0h0M148.3 39.6h0M148.8 40.4h0M149.3 41.2h0M149.7 42.2h0M150.2 43.3h0M150.7 44.5h0M151.2 45.9h0M151.7 47.5h0M152.2 49.0h0M152.6 50.6h0M153.1 51.9h0M153.6 52.8h0M154.1 53.3h0M154.6 53.1h0M155.1 52.4h0M155.5 51.3h0M156.0 49.9h0M156.5 48.3h0M157.0 46.8h0M157.5 45.4h0M157.9 44.1h0M158.4 42.9h0M158.9 41.9h0M159.4 41.0h0M159.9 40.3h0M160.4 39.7h0M160.8 39.1h0M161.3 38.7h0M161.8 38.3h0M162.3 37.9h0M162.8 37.7h0M163.3 37.4h0M163.7 37.2h0M164.2 37.1h0M164.7 36.9h0M165.2 36.8h0M165.7 36.7h0M166.1 36.7h0M166.6 36.7h0M167.1 36.6h0M167.6 36.7h0M168.1 36.7h0M168.6 36.7h0M169.0 36.8h0M169.5 36.9h0M170.0 37.0h0M170.5 37.2h0M171.0 37.4h0M171.5 37.6h0M171.9 37.8h0M172.4 38.1h0M172.9 38.4h0M173.4 38.8h0M173.9 39.3h0M174.4 39.8h0M174.8 40.4h0M175.3 41.0h0M175.8 41.8h0M176.3 42.7h0M176.8 43.7h0M177.2 44.9h0M177.7 46.1h0M178.2 47.6h0M178.7 49.1h0M179.2 50.7h0M179.7 52.4h0M180.1 53.9h0M180.6 55.2h0M181.1 56.1h0M181.6 56.5h0M182.1 56.3h0M182.6 55.6h0M183.0 54.5h0M183.5 53.1h0M184.0 51.4h0M184.5 49.8h0M185.0 48.2h0M185.5 46.6h0M185.9 45.2h0M186.4 44.0h0M186.9 42.9h0M187.4 41.9h0M187.9 41.0h0M188.3 40.3h0M188.8 39.6h0M189.3 39.0h0M189.8 38.5h0M190.3 38.0h0M190.8 37.6h0M191.2 37.3h0M191.7 36.9h0M192.2 36.7h0M192.7 36.4h0M193.2 36.2h0M193.7 36.0h0M194.1 35.8h0M194.6 35.6h0M195.1 35.4h0M195.6 35.3h0M196.1 35.2h0M196.6 35.1h0M197.0 34.9h0M197.5 34.8h0M198.0 34.8h0M198.5 34.7h0M199.0 34.6h0M199.4 34.5h0M199.9 34.5h0M200.4 34.4h0M200.9 34.3h0M201.4 34.3h0M201.9 34.2h0" stroke="#1a1aff" stroke-width="2.0" stroke-linecap="round" fill="none"/>
<path d="M16.8 33.1 L17.2 33.1 L17.5 33.1 L17.9 33.1 L18.3 33.1 L18.7 33.1 L19.0 33.1 L19.4 33.1 L19.8 33.1 L20.1 33.1 L20.5 33.1 L20.9 33.1 L21.2 33.1 L21.6 33.1 L22.0 33.1 L22.4 33.1 L22.7 33.1 L23.1 33.1 L23.5 33.1 L23.8 33.1 L24.2 33.1 L24.6 33.1 L25.0 33.1 L25.3 33.2 L25.7 33.2 L26.1 33.2 L26.4 33.2 L26.8 33.2 L27.2 33.2 L27.5 33.2 L27.9 33.2 L28.3 33.2 L28.7 33.2 L29.0 33.2 L29.4 33.2 L29.8 33.2 L30.1 33.2 L30.5 33.2 L30.9 33.2 L31.3 33.2 L31.6 33.2 L32.0 33.2 L32.4 33.2 L32.7 33.2 L33.1 33.2 L33.5 33.2 L33.8 33.2 L34.2 33.2 L34.6 33.2 L35.0 33.2 L35.3 33.2 L35.7 33.2 L36.1 33.2 L36.4 33.2 L36.8 33.2 L37.2 33.2 L37.6 33.2 L37.9 33.2 L38.3 33.2 L38.7 33.2 L39.0 33.2 L39.4 33.2 L39.8 33.2 L40.1 33.2 L40.5 33.2 L40.9 33.2 L41.3 33.2 L41.6 33.2 L42.0 33.2 L42.4 33.2 L42.7 33.2 L43.1 33.2 L43.5 33.2 L43.9 33.2 L44.2 33.2 L44.6 33.2 L45.0 33.2 L45.3 33.3 L45.7 33.3 L46.1 33.3 L46.4 33.3 L46.8 33.3 L47.2 33.3 L47.6 33.3 L47.9 33.3 L48.3 33.3 L48.7 33.3 L49.0 33.3 L49.4 33.3 L49.8 33.3 L50.2 33.3 L50.5 33.3 L50.9 33.3 L51.3 33.3 L51.6 33.3 L52.0 33.3 L52.4 33.3 L52.7 33.3 L53.1 33.3 L53.5 33.3 L53.9 33.3 L54.2 33.3 L54.6 33.3 L55.0 33.3 L55.3 33.3 L55.7 33.4 L56.1 33.4 L56.5 33.4 L56.8 33.4 L57.2 33.4 L57.6 33.4 L57.9 33.4 L58.3 33.4 L58.7 33.4 L59.0 33.4 L59.4 33.4 L59.8 33.4 L60.2 33.4 L60.5 33.4 L60.9 33.4 L61.3 33.4 L61.6 33.4 L62.0 33.4 L62.4 33.5 L62.8 33.5 L63.1 33.5 L63.5 33.5 L63.9 33.5 L64.2 33.5 L64.6 33.5 L65.0 33.5 L65.3 33.5 L65.7 33.5 L66.1 33.5 L66.5 33.5 L66.8 33.5 L67.2 33.6 L67.6 33.6 L67.9 33.6 L68.3 33.6 L68.7 33.6 L69.1 33.6 L69.4 33.6 L69.8 33.6 L70.2 33.6 L70.5 33.6 L70.9 33.7 L71.3 33.7 L71.6 33.7 L72.0 33.7 L72.4 33.7 L72.8 33.7 L73.1 33.7 L73.5 33.8 L73.9 33.8 L74.2 33.8 L74.6 33.8 L75.0 33.8 L75.4 33.8 L75.7 33.8 L76.1 33.9 L76.5 33.9 L76.8 33.9 L77.2 33.9 L77.6 33.9 L77.9 34.0 L78.3 34.0 L78.7 34.0 L79.1 34.0 L79.4 34.1 L79.8 34.1 L80.2 34.1 L80.5 34.1 L80.9 34.2 L81.3 34.2 L81.7 34.2 L82.0 34.3 L82.4 34.3 L82.8 34.3 L83.1 34.4 L83.5 34.4 L83.9 34.4 L84.2 34.5 L84.6 34.5 L85.0 34.6 L85.4 34.6 L85.7 34.7 L86.1 34.7 L86.5 34.8 L86.8 34.8 L87.2 34.9 L87.6 35.0 L88.0 35.0 L88.3 35.1 L88.7 35.2 L89.1 35.3 L89.4 35.3 L89.8 35.4 L90.2 35.5 L90.5 35.6 L90.9 35.7 L91.3 35.8 L91.7 36.0 L92.0 36.1 L92.4 36.2 L92.8 36.4 L93.1 36.5 L93.5 36.7 L93.9 36.9 L94.3 37.1 L94.6 37.3 L95.0 37.5 L95.4 37.7 L95.7 38.0 L96.1 38.3 L96.5 38.6 L96.8 39.0 L97.2 39.3 L97.6 39.8 L98.0 40.2 L98.3 40.7 L98.7 41.3 L99.1 41.9 L99.4 42.6 L99.8 43.3 L100.2 44.2 L100.6 45.1 L100.9 46.2 L101.3 47.4 L101.7 48.7 L102.0 50.2 L102.4 51.9 L102.8 53.8 L103.1 55.9 L103.5 58.2 L103.9 60.8 L104.3 63.6 L104.6 66.4 L105.0 69.4 L105.4 72.3 L105.7 74.9 L106.1 77.1 L106.5 78.6 L106.9 79.3 L107.2 79.1 L107.6 78.1 L108.0 76.3 L108.3 74.0 L108.7 71.3 L109.1 68.5 L109.4 65.6 L109.8 62.9 L110.2 60.3 L110.6 58.0 L110.9 55.9 L111.3 54.0 L111.7 52.3 L112.0 50.8 L112.4 49.5 L112.8 48.4 L113.2 47.4 L113.5 46.6 L113.9 45.8 L114.3 45.2 L114.6 44.6 L115.0 44.2 L115.4 43.8 L115.8 43.5 L116.1 43.2 L116.5 43.0 L116.9 42.9 L117.2 42.8 L117.6 42.8 L118.0 42.8 L118.3 42.9 L118.7 43.1 L119.1 43.3 L119.5 43.5 L119.8 43.9 L120.2 44.3 L120.6 44.8 L120.9 45.3 L121.3 46.0 L121.7 46.8 L122.1 47.6 L122.4 48.7 L122.8 49.8 L123.2 51.2 L123.5 52.7 L123.9 54.4 L124.3 56.4 L124.6 58.5 L125.0 60.9 L125.4 63.5 L125.8 66.3 L126.1 69.2 L126.5 72.0 L126.9 74.6 L127.2 76.8 L127.6 78.4 L128.0 79.2 L128.4 79.2 L128.7 78.3 L129.1 76.6 L129.5 74.3 L129.8 71.6 L130.2 68.7 L130.6 65.7 L130.9 62.8 L131.3 60.1 L131.7 57.6 L132.1 55.4 L132.4 53.3 L132.8 51.5 L133.2 49.8 L133.5 48.4 L133.9 47.1 L134.3 45.9 L134.7 44.9 L135.0 43.9 L135.4 43.1 L135.8 42.4 L136.1 41.7 L136.5 41.1 L136.9 40.6 L137.2 40.1 L137.6 39.6 L138.0 39.2 L138.4 38.9 L138.7 38.5 L139.1 38.2 L139.5 37.9 L139.8 37.7 L140.2 37.4 L140.6 37.2 L141.0 37.0 L141.3 36.8 L141.7 36.6 L142.1 36.5 L142.4 36.3 L142.8 36.2 L143.2 36.1 L143.5 35.9 L143.9 35.8 L144.3 35.7 L144.7 35.6 L145.0 35.5 L145.4 35.4 L145.8 35.3 L146.1 35.2 L146.5 35.2 L146.9 35.1 L147.3 35.0 L147.6 34.9 L148.0 34.9 L148.4 34.8 L148.7 34.8 L149.1 34.7 L149.5 34.7 L149.8 34.6 L150.2 34.6 L150.6 34.5 L151.0 34.5 L151.3 34.4 L151.7 34.4 L152.1 34.4 L152.4 34.3 L152.8 34.3 L153.2 34.3 L153.6 34.2 L153.9 34.2 L154.3 34.2 L154.7 34.1 L155.0 34.1 L155.4 34.1 L155.8 34.1 L156.1 34.0 L156.5 34.0 L156.9 34.0 L157.3 34.0 L157.6 33.9 L158.0 33.9 L158.4 33.9 L158.7 33.9 L159.1 33.9 L159.5 33.8 L159.9 33.8 L160.2 33.8 L160.6 33.8 L161.0 33.8 L161.3 33.8 L161.7 33.7 L162.1 33.7 L162.4 33.7 L162.8 33.7 L163.2 33.7 L163.6 33.7 L163.9 33.7 L164.3 33.7 L164.7 33.6 L165.0 33.6 L165.4 33.6 L165.8 33.6 L166.2 33.6 L166.5 33.6 L166.9 33.6 L167.3 33.6 L167.6 33.6 L168.0 33.6 L168.4 33.5 L168.7 33.5 L169.1 33.5 L169.5 33.5 L169.9 33.5 L170.2 33.5 L170.6 33.5 L171.0 33.5 L171.3 33.5 L171.7 33.5 L172.1 33.5 L172.5 33.5 L172.8 33.4 L173.2 33.4 L173.6 33.4 L173.9 33.4 L174.3 33.4 L174.7 33.4 L175.0 33.4 L175.4 33.4 L175.8 33.4 L176.2 33.4 L176.5 33.4 L176.9 33.4 L177.3 33.4 L177.6 33.4 L178.0 33.4 L178.4 33.4 L178.8 33.4 L179.1 33.4 L179.5 33.4 L179.9 33.3 L180.2 33.3 L180.6 33.3 L181.0 33.3 L181.3 33.3 L181.7 33.3 L182.1 33.3 L182.5 33.3 L182.8 33.3 L183.2 33.3 L183.6 33.3 L183.9 33.3 L184.3 33.3 L184.7 33.3 L185.1 33.3 L185.4 33.3 L185.8 33.3 L186.2 33.3 L186.5 33.3 L186.9 33.3 L187.3 33.3 L187.6 33.3 L188.0 33.3 L188.4 33.3 L188.8 33.3 L189.1 33.3 L189.5 33.3 L189.9 33.3 L190.2 33.2 L190.6 33.2 L191.0 33.2 L191.4 33.2 L191.7 33.2 L192.1 33.2 L192.5 33.2 L192.8 33.2 L193.2 33.2 L193.6 33.2 L193.9 33.2 L194.3 33.2 L194.7 33.2 L195.1 33.2 L195.4 33.2 L195.8 33.2 L196.2 33.2 L196.5 33.2 L196.9 33.2 L197.3 33.2 L197.7 33.2 L198.0 33.2 L198.4 33.2 L198.8 33.2 L199.1 33.2 L199.5 33.2 L199.9 33.2 L200.2 33.2 L200.6 33.2 L201.0 33.2 L201.4 33.2 L201.7 33.2 L202.1 33.2" fill="none" stroke="#80ffff" stroke-width="1"/>
<path d="M17.0 33.1h0M17.5 33.1h0M18.0 33.1h0M18.5 33.1h0M19.0 33.1h0M19.5 33.1h0M19.9 33.1h0M20.4 33.1h0M20.9 33.1h0M21.4 33.1h0M21.9 33.1h0M22.3 33.1h0M22.8 33.1h0M23.3 33.1h0M23.8 33.1h0M24.3 33.1h0M24.8 33.1h0M25.2 33.2h0M25.7 33.2h0M26.2 33.2h0M26.7 33.2h0M27.2 33.2h0M27.7 33.2h0M28.1 33.2h0M28.6 33.2h0M29.1 33.2h0M29.6 33.2h0M30.1 33.2h0M30.6 33.2h0M31.0 33.2h0M31.5 33.2h0M32.0 33.2h0M32.5 33.2h0M33.0 33.2h0M33.4 33.2h0M33.9 33.2h0M34.4 33.2h0M34.9 33.2h0M35.4 33.2h0M35.9 33.2h0M36.3 33.2h0M36.8 33.2h0M37.3 33.2h0M37.8 33.2h0M38.3 33.2h0M38.8 33.2h0M39.2 33.2h0M39.7 33.2h0M40.2 33.2h0M40.7 33.2h0M41.2 33.2h0M41.7 33.2h0M42.1 33.2h0M42.6 33.2h0M43.1 33.2h0M43.6 33.2h0M44.1 33.2h0M44.5 33.2h0M45.0 33.2h0M45.5 33.3h0M46.0 33.3h0M46.5 33.3h0M47.0 33.3h0M47.4 33.3h0M47.9 33.3h0M48.4 33.3h0M48.9 33.3h0M49.4 33.3h0M49.9 33.3h0M50.3 33.3h0M50.8 33.3h0M51.3 33.3h0M51.8 33.3h0M52.3 33.3h0M52.8 33.3h0M53.2 33.3h0M53.7 33.3h0M54.2 33.3h0M54.7 33.3h0M55.2 33.3h0M55.6 33.4h0M56.1 33.4h0M56.6 33.4h0M57.1 33.4h0M57.6 33.4h0M58.1 33.4h0M58.5 33.4h0M59.0 33.4h0M59.5 33.4h0M60.0 33.4h0M60.5 33.4h0M61.0 33.4h0M61.4 33.4h0M61.9 33.4h0M62.4 33.5h0M62.9 33.5h0M63.4 33.5h0M63.8 33.5h0M64.3 33.5h0M64.8 33.5h0M65.3 33.5h0M65.8 33.5h0M66.3 33.5h0M66.7 33.5h0M67.2 33.6h0M67.7 33.6h0M68.2 33.6h0M68.7 33.6h0M69.2 33.6h0M69.6 33.6h0M70.1 33.6h0M70.6 33.6h0M71.1 33.7h0M71.6 33.7h0M72.1 33.7h0M72.5 33.7h0M73.0 33.7h0M73.5 33.8h0M74.0 33.8h0M74.5 33.8h0M74.9 33.8h0M75.4 33.8h0M75.9 33.9h0M76.4 33.9h0M76.9 33.9h0M77.4 33.9h0M77.8 34.0h0M78.3 34.0h0M78.8 34.0h0M79.3 34.1h0M79.8 34.1h0M80.3 34.1h0M80.7 34.2h0M81.2 34.2h0M81.7 34.2h0M82.2 34.3h0M82.7 34.3h0M83.2 34.4h0M83.6 34.4h0M84.1 34.5h0M84.6 34.5h0M85.1 34.6h0M85.6 34.7h0M86.0 34.7h0M86.5 34.8h0M87.0 34.9h0M87.5 34.9h0M88.0 35.0h0M88.5 35.1h0M88.9 35.2h0M89.4 35.3h0M89.9 35.5h0M90.4 35.6h0M90.9 35.7h0M91.4 35.9h0M91.8 36.0h0M92.3 36.2h0M92.8 36.4h0M93.3 36.6h0M93.8 36.8h0M94.2 37.1h0M94.7 37.3h0M95.2 37.6h0M95.7 38.0h0M96.2 38.4h0M96.7 38.8h0M97.1 39.3h0M97.6 39.8h0M98.1 40.4h0M98.6 41.1h0M99.1 41.9h0M99.6 42.8h0M100.0 43.8h0M100.5 45.0h0M101.0 46.4h0M101.5 48.0h0M102.0 49.9h0M102.5 52.1h0M102.9 54.7h0M103.4 57.6h0M103.9 60.9h0M104.4 64.5h0M104.9 68.3h0M105.3 72.1h0M105.8 75.5h0M106.3 78.0h0M106.8 79.2h0M107.3 79.0h0M107.8 77.4h0M108.2 74.6h0M108.7 71.2h0M109.2 67.5h0M109.7 63.8h0M110.2 60.4h0M110.7 57.4h0M111.1 54.8h0M111.6 52.5h0M112.1 50.6h0M112.6 49.0h0M113.1 47.6h0M113.6 46.5h0M114.0 45.6h0M114.5 44.8h0M115.0 44.2h0M115.5 43.7h0M116.0 43.3h0M116.4 43.0h0M116.9 42.9h0M117.4 42.8h0M117.9 42.8h0M118.4 42.9h0M118.9 43.1h0M119.3 43.4h0M119.8 43.9h0M120.3 44.4h0M120.8 45.1h0M121.3 45.9h0M121.8 46.9h0M122.2 48.1h0M122.7 49.6h0M123.2 51.3h0M123.7 53.4h0M124.2 55.8h0M124.7 58.6h0M125.1 61.7h0M125.6 65.2h0M126.1 68.9h0M126.6 72.6h0M127.1 75.8h0M127.5 78.2h0M128.0 79.3h0M128.5 78.9h0M129.0 77.1h0M129.5 74.2h0M130.0 70.6h0M130.4 66.8h0M130.9 63.0h0M131.4 59.5h0M131.9 56.4h0M132.4 53.6h0M132.9 51.2h0M133.3 49.1h0M133.8 47.4h0M134.3 45.8h0M134.8 44.5h0M135.3 43.4h0M135.7 42.4h0M136.2 41.6h0M136.7 40.8h0M137.2 40.2h0M137.7 39.6h0M138.2 39.1h0M138.6 38.6h0M139.1 38.2h0M139.6 37.8h0M140.1 37.5h0M140.6 37.2h0M141.1 37.0h0M141.5 36.7h0M142.0 36.5h0M142.5 36.3h0M143.0 36.1h0M143.5 36.0h0M144.0 35.8h0M144.4 35.7h0M144.9 35.5h0M145.4 35.4h0M145.9 35.3h0M146.4 35.2h0M146.8 35.1h0M147.3 35.0h0M147.8 34.9h0M148.3 34.8h0M148.8 34.8h0M149.3 34.7h0M149.7 34.6h0M150.2 34.6h0M150.7 34.5h0M151.2 34.4h0M151.7 34.4h0M152.2 34.3h0M152.6 34.3h0M153.1 34.3h0M153.6 34.2h0M154.1 34.2h0M154.6 34.1h0M155.1 34.1h0M155.5 34.1h0M156.0 34.0h0M156.5 34.0h0M157.0 34.0h0M157.5 33.9h0M157.9 33.9h0M158.4 33.9h0M158.9 33.9h0M159.4 33.8h0M159.9 33.8h0M160.4 33.8h0M160.8 33.8h0M161.3 33.8h0M161.8 33.7h0M162.3 33.7h0M162.8 33.7h0M163.3 33.7h0M163.7 33.7h0M164.2 33.7h0M164.7 33.6h0M165.2 33.6h0M165.7 33.6h0M166.1 33.6h0M166.6 33.6h0M167.1 33.6h0M167.6 33.6h0M168.1 33.5h0M168.6 33.5h0M169.0 33.5h0M169.5 33.5h0M170.0 33.5h0M170.5 33.5h0M171.0 33.5h0M171.5 33.5h0M171.9 33.5h0M172.4 33.5h0M172.9 33.4h0M173.4 33.4h0M173.9 33.4h0M174.4 33.4h0M174.8 33.4h0M175.3 33.4h0M175.8 33.4h0M176.3 33.4h0M176.8 33.4h0M177.2 33.4h0M177.7 33.4h0M178.2 33.4h0M178.7 33.4h0M179.2 33.4h0M179.7 33.3h0M180.1 33.3h0M180.6 33.3h0M181.1 33.3h0M181.6 33.3h0M182.1 33.3h0M182.6 33.3h0M183.0 33.3h0M183.5 33.3h0M184.0 33.3h0M184.5 33.3h0M185.0 33.3h0M185.5 33.3h0M185.9 33.3h0M186.4 33.3h0M186.9 33.3h0M187.4 33.3h0M187.9 33.3h0M188.3 33.3h0M188.8 33.3h0M189.3 33.3h0M189.8 33.3h0M190.3 33.2h0M190.8 33.2h0M191.2 33.2h0M191.7 33.2h0M192.2 33.2h0M192.7 33.2h0M193.2 33.2h0M193.7 33.2h0M194.1 33.2h0M194.6 33.2h0M195.1 33.2h0M195.6 33.2h0M196.1 33.2h0M196.6 33.2h0M197.0 33.2h0M197.5 33.2h0M198.0 33.2h0M198.5 33.2h0M199.0 33.2h0M199.4 33.2h0M199.9 33.2h0M200.4 33.2h0M200.9 33.2h0M201.4 33.2h0M201.9 33.2h0" stroke="#00e0e0" stroke-width="2.0" stroke-linecap="round" fill="none"/>
<path d="M16.8 33.1 L17.2 33.1 L17.5 33.1 L17.9 33.1 L18.3 33.1 L18.7 33.1 L19.0 33.1 L19.4 33.1 L19.8 33.1 L20.1 33.1 L20.5 33.1 L20.9 33.1 L21.2 33.1 L21.6 33.1 L22.0 33.1 L22.4 33.1 L22.7 33.1 L23.1 33.1 L23.5 33.1 L23.8 33.1 L24.2 33.1 L24.6 33.1 L25.0 33.1 L25.3 33.1 L25.7 33.1 L26.1 33.1 L26.4 33.1 L26.8 33.1 L27.2 33.1 L27.5 33.1 L27.9 33.2 L28.3 33.2 L28.7 33.2 L29.0 33.2 L29.4 33.2 L29.8 33.2 L30.1 33.2 L30.5 33.2 L30.9 33.2 L31.3 33.2 L31.6 33.2 L32.0 33.2 L32.4 33.2 L32.7 33.2 L33.1 33.2 L33.5 33.2 L33.8 33.2 L34.2 33.2 L34.6 33.2 L35.0 33.2 L35.3 33.2 L35.7 33.2 L36.1 33.2 L36.4 33.2 L36.8 33.2 L37.2 33.2 L37.6 33.2 L37.9 33.2 L38.3 33.2 L38.7 33.2 L39.0 33.2 L39.4 33.2 L39.8 33.2 L40.1 33.2 L40.5 33.2 L40.9 33.2 L41.3 33.2 L41.6 33.2 L42.0 33.2 L42.4 33.2 L42.7 33.2 L43.1 33.2 L43.5 33.2 L43.9 33.2 L44.2 33.2 L44.6 33.2 L45.0 33.2 L45.3 33.2 L45.7 33.2 L46.1 33.2 L46.4 33.2 L46.8 33.2 L47.2 33.3 L47.6 33.3 L47.9 33.3 L48.3 33.3 L48.7 33.3 L49.0 33.3 L49.4 33.3 L49.8 33.3 L50.2 33.3 L50.5 33.3 L50.9 33.3 L51.3 33.3 L51.6 33.3 L52.0 33.3 L52.4 33.3 L52.7 33.3 L53.1 33.3 L53.5 33.3 L53.9 33.3 L54.2 33.3 L54.6 33.3 L55.0 33.3 L55.3 33.3 L55.7 33.3 L56.1 33.3 L56.5 33.3 L56.8 33.3 L57.2 33.3 L57.6 33.4 L57.9 33.4 L58.3 33.4 L58.7 33.4 L59.0 33.4 L59.4 33.4 L59.8 33.4 L60.2 33.4 L60.5 33.4 L60.9 33.4 L61.3 33.4 L61.6 33.4 L62.0 33.4 L62.4 33.4 L62.8 33.4 L63.1 33.4 L63.5 33.4 L63.9 33.4 L64.2 33.5 L64.6 33.5 L65.0 33.5 L65.3 33.5 L65.7 33.5 L66.1 33.5 L66.5 33.5 L66.8 33.5 L67.2 33.5 L67.6 33.5 L67.9 33.5 L68.3 33.5 L68.7 33.6 L69.1 33.6 L69.4 33.6 L69.8 33.6 L70.2 33.6 L70.5 33.6 L70.9 33.6 L71.3 33.6 L71.6 33.6 L72.0 33.6 L72.4 33.7 L72.8 33.7 L73.1 33.7 L73.5 33.7 L73.9 33.7 L74.2 33.7 L74.6 33.7 L75.0 33.7 L75.4 33.8 L75.7 33.8 L76.1 33.8 L76.5 33.8 L76.8 33.8 L77.2 33.8 L77.6 33.9 L77.9 33.9 L78.3 33.9 L78.7 33.9 L79.1 33.9 L79.4 34.0 L79.8 34.0 L80.2 34.0 L80.5 34.0 L80.9 34.1 L81.3 34.1 L81.7 34.1 L82.0 34.1 L82.4 34.2 L82.8 34.2 L83.1 34.2 L83.5 34.2 L83.9 34.3 L84.2 34.3 L84.6 34.3 L85.0 34.4 L85.4 34.4 L85.7 34.5 L86.1 34.5 L86.5 34.5 L86.8 34.6 L87.2 34.6 L87.6 34.7 L88.0 34.7 L88.3 34.8 L88.7 34.8 L89.1 34.9 L89.4 35.0 L89.8 35.0 L90.2 35.1 L90.5 35.2 L90.9 35.2 L91.3 35.3 L91.7 35.4 L92.0 35.5 L92.4 35.6 L92.8 35.7 L93.1 35.8 L93.5 35.9 L93.9 36.0 L94.3 36.2 L94.6 36.3 L95.0 36.4 L95.4 36.6 L95.7 36.7 L96.1 36.9 L96.5 37.1 L96.8 37.3 L97.2 37.5 L97.6 37.8 L98.0 38.0 L98.3 38.3 L98.7 38.6 L99.1 38.9 L99.4 39.2 L99.8 39.6 L100.2 40.0 L100.6 40.5 L100.9 41.0 L101.3 41.6 L101.7 42.2 L102.0 42.9 L102.4 43.7 L102.8 44.5 L103.1 45.5 L103.5 46.6 L103.9 47.8 L104.3 49.3 L104.6 50.9 L105.0 52.7 L105.4 54.8 L105.7 57.3 L106.1 60.0 L106.5 63.2 L106.9 66.8 L107.2 70.9 L107.6 75.4 L108.0 80.3 L108.3 85.3 L108.7 90.2 L109.1 94.5 L109.4 97.8 L109.8 99.7 L110.2 99.9 L110.6 98.6 L110.9 96.1 L111.3 92.9 L111.7 89.4 L112.0 86.1 L112.4 83.2 L112.8 80.8 L113.2 79.2 L113.5 78.3 L113.9 78.1 L114.3 78.6 L114.6 79.9 L115.0 81.9 L115.4 84.5 L115.8 87.7 L116.1 91.1 L116.5 94.6 L116.9 97.5 L117.2 99.4 L117.6 100.0 L118.0 98.9 L118.3 96.3 L118.7 92.5 L119.1 87.8 L119.5 82.8 L119.8 77.8 L120.2 73.1 L120.6 68.8 L120.9 65.0 L121.3 61.6 L121.7 58.6 L122.1 56.0 L122.4 53.7 L122.8 51.8 L123.2 50.0 L123.5 48.5 L123.9 47.2 L124.3 46.0 L124.6 45.0 L125.0 44.1 L125.4 43.3 L125.8 42.5 L126.1 41.9 L126.5 41.3 L126.9 40.8 L127.2 40.3 L127.6 39.8 L128.0 39.4 L128.4 39.1 L128.7 38.7 L129.1 38.4 L129.5 38.1 L129.8 37.9 L130.2 37.6 L130.6 37.4 L130.9 37.2 L131.3 37.0 L131.7 36.8 L132.1 36.7 L132.4 36.5 L132.8 36.4 L133.2 36.2 L133.5 36.1 L133.9 36.0 L134.3 35.9 L134.7 35.7 L135.0 35.6 L135.4 35.5 L135.8 35.5 L136.1 35.4 L136.5 35.3 L136.9 35.2 L137.2 35.1 L137.6 35.1 L138.0 35.0 L138.4 34.9 L138.7 34.9 L139.1 34.8 L139.5 34.8 L139.8 34.7 L140.2 34.7 L140.6 34.6 L141.0 34.6 L141.3 34.5 L141.7 34.5 L142.1 34.4 L142.4 34.4 L142.8 34.4 L143.2 34.3 L143.5 34.3 L143.9 34.3 L144.3 34.2 L144.7 34.2 L145.0 34.2 L145.4 34.1 L145.8 34.1 L146.1 34.1 L146.5 34.1 L146.9 34.0 L147.3 34.0 L147.6 34.0 L148.0 34.0 L148.4 34.0 L148.7 33.9 L149.1 33.9 L149.5 33.9 L149.8 33.9 L150.2 33.9 L150.6 33.8 L151.0 33.8 L151.3 33.8 L151.7 33.8 L152.1 33.8 L152.4 33.8 L152.8 33.7 L153.2 33.7 L153.6 33.7 L153.9 33.7 L154.3 33.7 L154.7 33.7 L155.0 33.7 L155.4 33.7 L155.8 33.6 L156.1 33.6 L156.5 33.6 L156.9 33.6 L157.3 33.6 L157.6 33.6 L158.0 33.6 L158.4 33.6 L158.7 33.6 L159.1 33.5 L159.5 33.5 L159.9 33.5 L160.2 33.5 L160.6 33.5 L161.0 33.5 L161.3 33.5 L161.7 33.5 L162.1 33.5 L162.4 33.5 L162.8 33.5 L163.2 33.5 L163.6 33.5 L163.9 33.4 L164.3 33.4 L164.7 33.4 L165.0 33.4 L165.4 33.4 L165.8 33.4 L166.2 33.4 L166.5 33.4 L166.9 33.4 L167.3 33.4 L167.6 33.4 L168.0 33.4 L168.4 33.4 L168.7 33.4 L169.1 33.4 L169.5 33.4 L169.9 33.4 L170.2 33.4 L170.6 33.3 L171.0 33.3 L171.3 33.3 L171.7 33.3 L172.1 33.3 L172.5 33.3 L172.8 33.3 L173.2 33.3 L173.6 33.3 L173.9 33.3 L174.3 33.3 L174.7 33.3 L175.0 33.3 L175.4 33.3 L175.8 33.3 L176.2 33.3 L176.5 33.3 L176.9 33.3 L177.3 33.3 L177.6 33.3 L178.0 33.3 L178.4 33.3 L178.8 33.3 L179.1 33.3 L179.5 33.3 L179.9 33.3 L180.2 33.3 L180.6 33.2 L181.0 33.2 L181.3 33.2 L181.7 33.2 L182.1 33.2 L182.5 33.2 L182.8 33.2 L183.2 33.2 L183.6 33.2 L183.9 33.2 L184.3 33.2 L184.7 33.2 L185.1 33.2 L185.4 33.2 L185.8 33.2 L186.2 33.2 L186.5 33.2 L186.9 33.2 L187.3 33.2 L187.6 33.2 L188.0 33.2 L188.4 33.2 L188.8 33.2 L189.1 33.2 L189.5 33.2 L189.9 33.2 L190.2 33.2 L190.6 33.2 L191.0 33.2 L191.4 33.2 L191.7 33.2 L192.1 33.2 L192.5 33.2 L192.8 33.2 L193.2 33.2 L193.6 33.2 L193.9 33.2 L194.3 33.2 L194.7 33.2 L195.1 33.2 L195.4 33.2 L195.8 33.2 L196.2 33.2 L196.5 33.2 L196.9 33.2 L197.3 33.2 L197.7 33.2 L198.0 33.2 L198.4 33.2 L198.8 33.2 L199.1 33.2 L199.5 33.2 L199.9 33.1 L200.2 33.1 L200.6 33.1 L201.0 33.1 L201.4 33.1 L201.7 33.1 L202.1 33.1" fill="none" stroke="#ff90ff" stroke-width="1"/>
<path d="M17.0 33.1h0M17.5 33.1h0M18.0 33.1h0M18.5 33.1h0M19.0 33.1h0M19.5 33.1h0M19.9 33.1h0M20.4 33.1h0M20.9 33.1h0M21.4 33.1h0M21.9 33.1h0M22.3 33.1h0M22.8 33.1h0M23.3 33.1h0M23.8 33.1h0M24.3 33.1h0M24.8 33.1h0M25.2 33.1h0M25.7 33.1h0M26.2 33.1h0M26.7 33.1h0M27.2 33.1h0M27.7 33.1h0M28.1 33.2h0M28.6 33.2h0M29.1 33.2h0M29.6 33.2h0M30.1 33.2h0M30.6 33.2h0M31.0 33.2h0M31.5 33.2h0M32.0 33.2h0M32.5 33.2h0M33.0 33.2h0M33.4 33.2h0M33.9 33.2h0M34.4 33.2h0M34.9 33.2h0M35.4 33.2h0M35.9 33.2h0M36.3 33.2h0M36.8 33.2h0M37.3 33.2h0M37.8 33.2h0M38.3 33.2h0M38.8 33.2h0M39.2 33.2h0M39.7 33.2h0M40.2 33.2h0M40.7 33.2h0M41.2 33.2h0M41.7 33.2h0M42.1 33.2h0M42.6 33.2h0M43.1 33.2h0M43.6 33.2h0M44.1 33.2h0M44.5 33.2h0M45.0 33.2h0M45.5 33.2h0M46.0 33.2h0M46.5 33.2h0M47.0 33.2h0M47.4 33.3h0M47.9 33.3h0M48.4 33.3h0M48.9 33.3h0M49.4 33.3h0M49.9 33.3h0M50.3 33.3h0M50.8 33.3h0M51.3 33.3h0M51.8 33.3h0M52.3 33.3h0M52.8 33.3h0M53.2 33.3h0M53.7 33.3h0M54.2 33.3h0M54.7 33.3h0M55.2 33.3h0M55.6 33.3h0M56.1 33.3h0M56.6 33.3h0M57.1 33.3h0M57.6 33.4h0M58.1 33.4h0M58.5 33.4h0M59.0 33.4h0M59.5 33.4h0M60.0 33.4h0M60.5 33.4h0M61.0 33.4h0M61.4 33.4h0M61.9 33.4h0M62.4 33.4h0M62.9 33.4h0M63.4 33.4h0M63.8 33.4h0M64.3 33.5h0M64.8 33.5h0M65.3 33.5h0M65.8 33.5h0M66.3 33.5h0M66.7 33.5h0M67.2 33.5h0M67.7 33.5h0M68.2 33.5h0M68.7 33.6h0M69.2 33.6h0M69.6 33.6h0M70.1 33.6h0M70.6 33.6h0M71.1 33.6h0M71.6 33.6h0M72.1 33.6h0M72.5 33.7h0M73.0 33.7h0M73.5 33.7h0M74.0 33.7h0M74.5 33.7h0M74.9 33.7h0M75.4 33.8h0M75.9 33.8h0M76.4 33.8h0M76.9 33.8h0M77.4 33.9h0M77.8 33.9h0M78.3 33.9h0M78.8 33.9h0M79.3 34.0h0M79.8 34.0h0M80.3 34.0h0M80.7 34.0h0M81.2 34.1h0M81.7 34.1h0M82.2 34.1h0M82.7 34.2h0M83.2 34.2h0M83.6 34.3h0M84.1 34.3h0M84.6 34.3h0M85.1 34.4h0M85.6 34.4h0M86.0 34.5h0M86.5 34.6h0M87.0 34.6h0M87.5 34.7h0M88.0 34.7h0M88.5 34.8h0M88.9 34.9h0M89.4 35.0h0M89.9 35.1h0M90.4 35.1h0M90.9 35.2h0M91.4 35.3h0M91.8 35.5h0M92.3 35.6h0M92.8 35.7h0M93.3 35.8h0M93.8 36.0h0M94.2 36.2h0M94.7 36.3h0M95.2 36.5h0M95.7 36.7h0M96.2 37.0h0M96.7 37.2h0M97.1 37.5h0M97.6 37.8h0M98.1 38.1h0M98.6 38.5h0M99.1 38.9h0M99.6 39.4h0M100.0 39.9h0M100.5 40.5h0M101.0 41.1h0M101.5 41.9h0M102.0 42.8h0M102.5 43.8h0M102.9 44.9h0M103.4 46.3h0M103.9 47.9h0M104.4 49.8h0M104.9 52.0h0M105.3 54.7h0M105.8 57.9h0M106.3 61.7h0M106.8 66.2h0M107.3 71.5h0M107.8 77.6h0M108.2 84.0h0M108.7 90.4h0M109.2 95.8h0M109.7 99.2h0M110.2 99.9h0M110.7 98.1h0M111.1 94.4h0M111.6 89.9h0M112.1 85.6h0M112.6 82.0h0M113.1 79.5h0M113.6 78.2h0M114.0 78.2h0M114.5 79.4h0M115.0 81.8h0M115.5 85.4h0M116.0 89.7h0M116.4 94.2h0M116.9 97.9h0M117.4 99.9h0M117.9 99.3h0M118.4 96.0h0M118.9 90.7h0M119.3 84.3h0M119.8 77.9h0M120.3 71.8h0M120.8 66.5h0M121.3 61.9h0M121.8 58.0h0M122.2 54.8h0M122.7 52.1h0M123.2 49.9h0M123.7 48.0h0M124.2 46.4h0M124.7 45.0h0M125.1 43.8h0M125.6 42.8h0M126.1 41.9h0M126.6 41.2h0M127.1 40.5h0M127.5 39.9h0M128.0 39.4h0M128.5 38.9h0M129.0 38.5h0M129.5 38.1h0M130.0 37.8h0M130.4 37.5h0M130.9 37.2h0M131.4 37.0h0M131.9 36.7h0M132.4 36.5h0M132.9 36.3h0M133.3 36.2h0M133.8 36.0h0M134.3 35.8h0M134.8 35.7h0M135.3 35.6h0M135.7 35.5h0M136.2 35.3h0M136.7 35.2h0M137.2 35.1h0M137.7 35.1h0M138.2 35.0h0M138.6 34.9h0M139.1 34.8h0M139.6 34.7h0M140.1 34.7h0M140.6 34.6h0M141.1 34.6h0M141.5 34.5h0M142.0 34.4h0M142.5 34.4h0M143.0 34.3h0M143.5 34.3h0M144.0 34.3h0M144.4 34.2h0M144.9 34.2h0M145.4 34.1h0M145.9 34.1h0M146.4 34.1h0M146.8 34.0h0M147.3 34.0h0M147.8 34.0h0M148.3 34.0h0M148.8 33.9h0M149.3 33.9h0M149.7 33.9h0M150.2 33.9h0M150.7 33.8h0M151.2 33.8h0M151.7 33.8h0M152.2 33.8h0M152.6 33.7h0M153.1 33.7h0M153.6 33.7h0M154.1 33.7h0M154.6 33.7h0M155.1 33.7h0M155.5 33.6h0M156.0 33.6h0M156.5 33.6h0M157.0 33.6h0M157.5 33.6h0M157.9 33.6h0M158.4 33.6h0M158.9 33.6h0M159.4 33.5h0M159.9 33.5h0M160.4 33.5h0M160.8 33.5h0M161.3 33.5h0M161.8 33.5h0M162.3 33.5h0M162.8 33.5h0M163.3 33.5h0M163.7 33.4h0M164.2 33.4h0M164.7 33.4h0M165.2 33.4h0M165.7 33.4h0M166.1 33.4h0M166.6 33.4h0M167.1 33.4h0M167.6 33.4h0M168.1 33.4h0M168.6 33.4h0M169.0 33.4h0M169.5 33.4h0M170.0 33.4h0M170.5 33.3h0M171.0 33.3h0M171.5 33.3h0M171.9 33.3h0M172.4 33.3h0M172.9 33.3h0M173.4 33.3h0M173.9 33.3h0M174.4 33.3h0M174.8 33.3h0M175.3 33.3h0M175.8 33.3h0M176.3 33.3h0M176.8 33.3h0M177.2 33.3h0M177.7 33.3h0M178.2 33.3h0M178.7 33.3h0M179.2 33.3h0M179.7 33.3h0M180.1 33.3h0M180.6 33.2h0M181.1 33.2h0M181.6 33.2h0M182.1 33.2h0M182.6 33.2h0M183.0 33.2h0M183.5 33.2h0M184.0 33.2h0M184.5 33.2h0M185.0 33.2h0M185.5 33.2h0M185.9 33.2h0M186.4 33.2h0M186.9 33.2h0M187.4 33.2h0M187.9 33.2h0M188.3 33.2h0M188.8 33.2h0M189.3 33.2h0M189.8 33.2h0M190.3 33.2h0M190.8 33.2h0M191.2 33.2h0M191.7 33.2h0M192.2 33.2h0M192.7 33.2h0M193.2 33.2h0M193.7 33.2h0M194.1 33.2h0M194.6 33.2h0M195.1 33.2h0M195.6 33.2h0M196.1 33.2h0M196.6 33.2h0M197.0 33.2h0M197.5 33.2h0M198.0 33.2h0M198.5 33.2h0M199.0 33.2h0M199.4 33.2h0M199.9 33.1h0M200.4 33.1h0M200.9 33.1h0M201.4 33.1h0M201.9 33.1h0" stroke="#ff00ff" stroke-width="2.0" stroke-linecap="round" fill="none"/>
</g>
<rect x="16.8" y="5.45" width="185.3" height="148.85" fill="none" stroke="#959595" stroke-width="1.5"/>
<path d="M16.8 154.3V152.1M16.8 5.45V7.65M26.06 154.3V153M26.06 5.45V6.75M35.33 154.3V152.1M35.33 5.45V7.65M44.59 154.3V153M44.59 5.45V6.75M53.86 154.3V152.1M53.86 5.45V7.65M63.12 154.3V153M63.12 5.45V6.75M72.39 154.3V152.1M72.39 5.45V7.65M81.65 154.3V153M81.65 5.45V6.75M90.92 154.3V152.1M90.92 5.45V7.65M100.18 154.3V153M100.18 5.45V6.75M109.45 154.3V152.1M109.45 5.45V7.65M118.71 154.3V153M118.71 5.45V6.75M127.98 154.3V152.1M127.98 5.45V7.65M137.24 154.3V153M137.24 5.45V6.75M146.51 154.3V152.1M146.51 5.45V7.65M155.78 154.3V153M155.78 5.45V6.75M165.04 154.3V152.1M165.04 5.45V7.65M174.3 154.3V153M174.3 5.45V6.75M183.57 154.3V152.1M183.57 5.45V7.65M192.83 154.3V153M192.83 5.45V6.75M202.1 154.3V152.1M202.1 5.45V7.65" stroke="#707070" stroke-width="0.9" fill="none"/>
<text x="15.9" y="162.7" font-size="6.3" fill="#333" stroke="#333" stroke-width="0.15" text-anchor="middle">−10</text>
<text x="34.43" y="162.7" font-size="6.3" fill="#333" stroke="#333" stroke-width="0.15" text-anchor="middle">−8</text>
<text x="52.96" y="162.7" font-size="6.3" fill="#333" stroke="#333" stroke-width="0.15" text-anchor="middle">−6</text>
<text x="71.49" y="162.7" font-size="6.3" fill="#333" stroke="#333" stroke-width="0.15" text-anchor="middle">−4</text>
<text x="90.02" y="162.7" font-size="6.3" fill="#333" stroke="#333" stroke-width="0.15" text-anchor="middle">−2</text>
<text x="109.45" y="162.7" font-size="6.3" fill="#333" stroke="#333" stroke-width="0.15" text-anchor="middle">0</text>
<text x="127.98" y="162.7" font-size="6.3" fill="#333" stroke="#333" stroke-width="0.15" text-anchor="middle">2</text>
<text x="146.51" y="162.7" font-size="6.3" fill="#333" stroke="#333" stroke-width="0.15" text-anchor="middle">4</text>
<text x="165.04" y="162.7" font-size="6.3" fill="#333" stroke="#333" stroke-width="0.15" text-anchor="middle">6</text>
<text x="183.57" y="162.7" font-size="6.3" fill="#333" stroke="#333" stroke-width="0.15" text-anchor="middle">8</text>
<text x="202.1" y="162.7" font-size="6.3" fill="#333" stroke="#333" stroke-width="0.15" text-anchor="middle">10</text>
<text x="83.6" y="175.5" font-size="8.8" textLength="54.6" lengthAdjust="spacing" fill="#222" stroke="#222" stroke-width="0.18">Velocity (mm/s)</text>
<text transform="translate(10.8 139.3) rotate(-90)" font-size="8.8" textLength="114.5" lengthAdjust="spacing" fill="#222" stroke="#222" stroke-width="0.18">Relative transmission (arb. units)</text>
<text x="135.9" y="201.4" font-size="13.3" fill="#111" text-anchor="middle" style="font-family:'Liberation Serif',serif">(<tspan font-weight="bold" font-size="14.5">a</tspan>)</text>
<rect x="203.8" y="5.3" width="60.5" height="58.4" fill="#fff" stroke="#c8c8c8" stroke-width="1"/>
<path d="M264.9 6.3V64.3H204.8" stroke="#b0b0b0" stroke-width="1.2" fill="none"/>
<rect x="212.6" y="10.6" width="1.2" height="1.2" fill="#666"/>
<text x="224.5" y="13.9" font-size="8.6" letter-spacing="-0.45" fill="#222" stroke="#222" stroke-width="0.18">Experi data</text>
<path d="M204.4 20.65H222" stroke="#ffb8b8" stroke-width="1"/>
<text x="224.5" y="23.35" font-size="8.6" letter-spacing="-0.45" fill="#222" stroke="#222" stroke-width="0.18">Fitting</text>
<path d="M204.4 30.1H222" stroke="#90ff90" stroke-width="1.2"/>
<circle cx="213.2" cy="30.1" r="1.1" fill="#10d010"/>
<text x="224.5" y="32.8" font-size="8.6" letter-spacing="-0.45" fill="#222" stroke="#222" stroke-width="0.18">Sextet 1</text>
<path d="M204.4 39.55H222" stroke="#5050ff" stroke-width="1"/>
<circle cx="213.2" cy="39.55" r="1.1" fill="#0000c0"/>
<text x="224.5" y="42.25" font-size="8.6" letter-spacing="-0.45" fill="#222" stroke="#222" stroke-width="0.18">Sextet 2</text>
<path d="M204.4 49H222" stroke="#b0ffff" stroke-width="1"/>
<circle cx="213.2" cy="49" r="1.1" fill="#00d0d0"/>
<text x="224.5" y="51.7" font-size="8.6" letter-spacing="-0.45" fill="#222" stroke="#222" stroke-width="0.18">Doublet 1</text>
<path d="M204.4 58.45H222" stroke="#ffd0ff" stroke-width="1"/>
<circle cx="213.2" cy="58.45" r="1.1" fill="#f000f0"/>
<text x="224.5" y="61.15" font-size="8.6" letter-spacing="-0.45" fill="#222" stroke="#222" stroke-width="0.18">Doublet 2</text>
<defs><clipPath id="clipb"><rect x="297.3" y="4.4" width="183.3" height="155"/></clipPath></defs>
<g clip-path="url(#clipb)">
<path d="M297.3 24.2 L297.7 24.3 L298.0 24.3 L298.4 24.3 L298.8 24.3 L299.1 24.3 L299.5 24.4 L299.9 24.4 L300.2 24.4 L300.6 24.5 L301.0 24.5 L301.3 24.5 L301.7 24.5 L302.1 24.6 L302.4 24.6 L302.8 24.7 L303.2 24.7 L303.5 24.7 L303.9 24.8 L304.3 24.8 L304.6 24.9 L305.0 24.9 L305.4 25.0 L305.7 25.0 L306.1 25.1 L306.5 25.1 L306.8 25.2 L307.2 25.3 L307.6 25.3 L307.9 25.4 L308.3 25.5 L308.7 25.6 L309.0 25.7 L309.4 25.8 L309.8 25.9 L310.1 26.0 L310.5 26.1 L310.9 26.2 L311.2 26.4 L311.6 26.5 L312.0 26.7 L312.3 26.9 L312.7 27.1 L313.1 27.3 L313.4 27.6 L313.8 27.9 L314.2 28.2 L314.5 28.5 L314.9 28.9 L315.3 29.4 L315.6 29.9 L316.0 30.5 L316.4 31.3 L316.7 32.1 L317.1 33.2 L317.5 34.4 L317.8 35.9 L318.2 37.8 L318.6 40.2 L318.9 43.1 L319.3 46.8 L319.7 51.1 L320.0 55.9 L320.4 60.6 L320.8 64.1 L321.1 65.2 L321.5 63.8 L321.9 60.6 L322.2 56.7 L322.6 53.2 L323.0 50.4 L323.3 48.3 L323.7 47.0 L324.1 46.3 L324.4 46.1 L324.8 46.4 L325.2 47.1 L325.5 48.1 L325.9 49.4 L326.3 50.9 L326.6 52.5 L327.0 54.2 L327.4 55.7 L327.7 56.9 L328.1 57.8 L328.5 58.0 L328.8 57.7 L329.2 56.9 L329.6 55.5 L329.9 53.7 L330.3 51.7 L330.7 49.6 L331.0 47.5 L331.4 45.5 L331.8 43.7 L332.1 41.9 L332.5 40.4 L332.9 39.0 L333.2 37.7 L333.6 36.6 L334.0 35.7 L334.3 34.8 L334.7 34.0 L335.1 33.4 L335.4 32.8 L335.8 32.3 L336.2 31.8 L336.5 31.4 L336.9 31.0 L337.3 30.7 L337.6 30.4 L338.0 30.2 L338.4 30.0 L338.7 29.8 L339.1 29.7 L339.5 29.5 L339.8 29.4 L340.2 29.3 L340.6 29.3 L340.9 29.2 L341.3 29.2 L341.7 29.2 L342.0 29.2 L342.4 29.3 L342.8 29.3 L343.1 29.4 L343.5 29.5 L343.9 29.7 L344.2 29.8 L344.6 30.0 L345.0 30.3 L345.3 30.6 L345.7 30.9 L346.1 31.3 L346.4 31.7 L346.8 32.3 L347.2 32.9 L347.5 33.7 L347.9 34.7 L348.3 35.9 L348.6 37.4 L349.0 39.2 L349.4 41.4 L349.7 44.2 L350.1 47.3 L350.5 50.7 L350.8 53.7 L351.2 55.5 L351.6 55.8 L351.9 54.6 L352.3 52.7 L352.7 50.8 L353.0 49.3 L353.4 48.4 L353.8 48.0 L354.1 48.0 L354.5 48.4 L354.9 49.0 L355.2 49.7 L355.6 50.4 L356.0 51.0 L356.3 51.3 L356.7 51.3 L357.1 50.9 L357.4 50.1 L357.8 49.0 L358.2 47.7 L358.5 46.2 L358.9 44.8 L359.3 43.3 L359.6 42.0 L360.0 40.7 L360.4 39.6 L360.7 38.6 L361.1 37.7 L361.5 36.9 L361.8 36.2 L362.2 35.6 L362.6 35.1 L362.9 34.6 L363.3 34.3 L363.7 34.0 L364.0 33.7 L364.4 33.5 L364.8 33.3 L365.1 33.2 L365.5 33.1 L365.9 33.1 L366.2 33.0 L366.6 33.0 L367.0 33.1 L367.3 33.1 L367.7 33.2 L368.1 33.3 L368.4 33.5 L368.8 33.6 L369.2 33.8 L369.5 34.0 L369.9 34.3 L370.3 34.5 L370.6 34.8 L371.0 35.2 L371.4 35.5 L371.7 35.9 L372.1 36.4 L372.5 36.8 L372.8 37.3 L373.2 37.9 L373.6 38.5 L373.9 39.2 L374.3 39.9 L374.7 40.8 L375.0 41.6 L375.4 42.6 L375.8 43.7 L376.1 45.0 L376.5 46.3 L376.9 47.9 L377.2 49.6 L377.6 51.6 L378.0 53.9 L378.3 56.6 L378.7 59.6 L379.1 63.0 L379.4 66.6 L379.8 70.2 L380.2 73.4 L380.5 76.1 L380.9 78.5 L381.3 81.0 L381.6 83.9 L382.0 87.4 L382.4 91.5 L382.7 96.1 L383.1 101.1 L383.5 106.5 L383.8 111.8 L384.2 117.0 L384.6 121.8 L384.9 125.9 L385.3 129.4 L385.7 132.2 L386.0 134.4 L386.4 136.1 L386.8 137.3 L387.1 138.2 L387.5 138.8 L387.9 139.4 L388.2 139.8 L388.6 140.1 L389.0 139.9 L389.3 139.3 L389.7 137.8 L390.0 135.3 L390.4 131.9 L390.8 127.6 L391.1 122.6 L391.5 117.2 L391.9 111.9 L392.2 106.9 L392.6 102.4 L393.0 98.6 L393.3 95.4 L393.7 93.1 L394.1 91.5 L394.4 90.7 L394.8 90.6 L395.2 91.2 L395.5 92.4 L395.9 94.2 L396.3 96.4 L396.6 98.8 L397.0 101.1 L397.4 103.0 L397.7 104.1 L398.1 104.2 L398.5 103.3 L398.8 101.5 L399.2 99.2 L399.6 96.5 L399.9 94.0 L400.3 91.8 L400.7 90.1 L401.0 89.0 L401.4 88.7 L401.8 89.1 L402.1 90.4 L402.5 92.5 L402.9 95.3 L403.2 98.4 L403.6 101.6 L404.0 104.3 L404.3 106.4 L404.7 107.9 L405.1 109.2 L405.4 110.2 L405.8 111.0 L406.2 111.4 L406.5 111.5 L406.9 111.0 L407.3 110.0 L407.6 108.3 L408.0 106.0 L408.4 103.1 L408.7 99.6 L409.1 95.8 L409.5 91.7 L409.8 87.5 L410.2 83.3 L410.6 79.2 L410.9 75.4 L411.3 71.7 L411.7 68.3 L412.0 65.1 L412.4 62.2 L412.8 59.6 L413.1 57.1 L413.5 54.9 L413.9 52.9 L414.2 51.1 L414.6 49.5 L415.0 48.0 L415.3 46.6 L415.7 45.4 L416.1 44.3 L416.4 43.2 L416.8 42.3 L417.2 41.5 L417.5 40.7 L417.9 40.0 L418.3 39.4 L418.6 38.8 L419.0 38.3 L419.4 37.8 L419.7 37.4 L420.1 37.0 L420.5 36.7 L420.8 36.4 L421.2 36.2 L421.6 36.0 L421.9 35.8 L422.3 35.7 L422.7 35.6 L423.0 35.6 L423.4 35.6 L423.8 35.7 L424.1 35.8 L424.5 35.9 L424.9 36.1 L425.2 36.4 L425.6 36.8 L426.0 37.2 L426.3 37.7 L426.7 38.3 L427.1 39.0 L427.4 39.9 L427.8 40.9 L428.2 42.2 L428.5 43.6 L428.9 45.3 L429.3 47.4 L429.6 49.8 L430.0 52.6 L430.4 56.0 L430.7 59.8 L431.1 63.8 L431.5 67.4 L431.8 69.9 L432.2 70.6 L432.6 69.5 L432.9 67.0 L433.3 63.9 L433.7 60.7 L434.0 57.7 L434.4 54.8 L434.8 52.2 L435.1 49.8 L435.5 47.6 L435.9 45.6 L436.2 43.8 L436.6 42.2 L437.0 40.7 L437.3 39.4 L437.7 38.3 L438.1 37.2 L438.4 36.3 L438.8 35.5 L439.2 34.8 L439.5 34.1 L439.9 33.5 L440.3 33.0 L440.6 32.5 L441.0 32.1 L441.4 31.7 L441.7 31.4 L442.1 31.1 L442.5 30.8 L442.8 30.6 L443.2 30.4 L443.6 30.2 L443.9 30.0 L444.3 29.9 L444.7 29.8 L445.0 29.7 L445.4 29.6 L445.8 29.5 L446.1 29.5 L446.5 29.4 L446.9 29.4 L447.2 29.4 L447.6 29.4 L448.0 29.5 L448.3 29.5 L448.7 29.6 L449.1 29.7 L449.4 29.8 L449.8 29.9 L450.2 30.0 L450.5 30.2 L450.9 30.4 L451.3 30.7 L451.6 30.9 L452.0 31.2 L452.4 31.6 L452.7 32.0 L453.1 32.4 L453.5 32.9 L453.8 33.5 L454.2 34.1 L454.6 34.9 L454.9 35.7 L455.3 36.7 L455.7 37.8 L456.0 39.0 L456.4 40.4 L456.8 42.1 L457.1 43.9 L457.5 46.1 L457.9 48.5 L458.2 51.2 L458.6 54.3 L459.0 57.7 L459.3 61.6 L459.7 65.7 L460.1 70.3 L460.4 75.1 L460.8 80.1 L461.2 84.9 L461.5 88.7 L461.9 90.2 L462.3 88.7 L462.6 84.2 L463.0 78.0 L463.4 71.3 L463.7 65.0 L464.1 59.5 L464.5 54.8 L464.8 50.8 L465.2 47.5 L465.6 44.8 L465.9 42.4 L466.3 40.4 L466.7 38.7 L467.0 37.3 L467.4 36.0 L467.8 34.9 L468.1 34.0 L468.5 33.1 L468.9 32.4 L469.2 31.7 L469.6 31.1 L470.0 30.6 L470.3 30.1 L470.7 29.7 L471.1 29.3 L471.4 28.9 L471.8 28.6 L472.2 28.3 L472.5 28.1 L472.9 27.8 L473.3 27.6 L473.6 27.4 L474.0 27.2 L474.4 27.0 L474.7 26.9 L475.1 26.7 L475.5 26.6 L475.8 26.4 L476.2 26.3 L476.6 26.2 L476.9 26.1 L477.3 26.0 L477.7 25.9 L478.0 25.8 L478.4 25.7 L478.8 25.6 L479.1 25.5 L479.5 25.5 L479.9 25.4 L480.2 25.3 L480.6 25.3" fill="none" stroke="#ff9a9a" stroke-width="0.8"/>
<path d="M297.6 41.8h0M298.2 19.3h0M298.8 27.3h0M299.4 25.5h0M300.0 30.7h0M300.7 13.9h0M301.3 21.4h0M301.9 18.9h0M302.5 16.6h0M303.1 18.4h0M303.7 20.9h0M304.3 22.7h0M304.9 18.1h0M305.5 28.2h0M306.2 21.0h0M306.8 1.2h0M307.4 34.2h0M308.0 22.5h0M308.6 20.0h0M309.2 27.7h0M309.8 27.6h0M310.4 26.5h0M311.0 19.9h0M311.7 28.0h0M312.3 15.3h0M312.9 38.0h0M313.5 18.1h0M314.1 26.6h0M314.7 28.9h0M315.3 31.1h0M315.9 28.6h0M316.5 35.3h0M317.2 6.1h0M317.8 33.9h0M318.4 36.8h0M319.0 39.5h0M319.6 60.8h0M320.2 50.0h0M320.8 62.9h0M321.4 48.0h0M322.0 59.7h0M322.7 39.5h0M323.3 35.8h0M323.9 63.3h0M324.5 50.5h0M325.1 45.9h0M325.7 49.0h0M326.3 39.3h0M326.9 44.9h0M327.5 58.6h0M328.2 40.8h0M328.8 58.9h0M329.4 42.1h0M330.0 53.3h0M330.6 40.5h0M331.2 58.9h0M331.8 50.1h0M332.4 35.7h0M333.0 23.0h0M333.7 29.5h0M334.3 33.5h0M334.9 25.2h0M335.5 33.9h0M336.1 38.4h0M336.7 29.8h0M337.3 26.4h0M337.9 35.2h0M338.5 26.7h0M339.2 35.1h0M339.8 26.0h0M340.4 40.6h0M341.0 26.1h0M341.6 20.2h0M342.2 29.0h0M342.8 23.6h0M343.4 21.4h0M344.0 27.8h0M344.7 34.8h0M345.3 13.1h0M345.9 29.8h0M346.5 29.7h0M347.1 30.8h0M347.7 39.4h0M348.3 25.2h0M348.9 42.9h0M349.5 40.1h0M350.2 47.8h0M350.8 50.6h0M351.4 52.4h0M352.0 49.4h0M352.6 53.3h0M353.2 63.9h0M353.8 55.1h0M354.4 53.9h0M355.0 52.8h0M355.7 46.1h0M356.3 55.1h0M356.9 66.1h0M357.5 39.4h0M358.1 53.4h0M358.7 52.5h0M359.3 44.5h0M359.9 46.2h0M360.5 48.9h0M361.1 53.7h0M361.8 45.6h0M362.4 47.3h0M363.0 36.5h0M363.6 39.7h0M364.2 34.4h0M364.8 35.0h0M365.4 29.1h0M366.0 37.7h0M366.6 43.6h0M367.3 31.4h0M367.9 34.7h0M368.5 37.8h0M369.1 33.5h0M369.7 40.9h0M370.3 36.1h0M370.9 25.9h0M371.5 27.5h0M372.1 41.6h0M372.8 41.7h0M373.4 46.2h0M374.0 40.9h0M374.6 41.8h0M375.2 29.9h0M375.8 54.2h0M376.4 38.8h0M377.0 56.3h0M377.6 43.1h0M378.3 50.8h0M378.9 62.2h0M379.5 63.8h0M380.1 67.4h0M380.7 83.9h0M381.3 86.4h0M381.9 89.5h0M382.5 90.9h0M383.1 95.6h0M383.8 107.1h0M384.4 115.3h0M385.0 126.2h0M385.6 137.4h0M386.2 133.9h0M386.8 131.3h0M387.4 133.9h0M388.0 149.1h0M388.6 141.2h0M389.3 141.0h0M389.9 138.7h0M390.5 135.6h0M391.1 124.4h0M391.7 123.3h0M392.3 112.2h0M392.9 77.7h0M393.5 93.1h0M394.1 113.5h0M394.8 80.8h0M395.4 92.6h0M396.0 102.7h0M396.6 98.4h0M397.2 112.2h0M397.8 94.6h0M398.4 94.0h0M399.0 98.9h0M399.6 90.5h0M400.3 84.0h0M400.9 93.7h0M401.5 90.7h0M402.1 90.2h0M402.7 90.8h0M403.3 101.0h0M403.9 103.0h0M404.5 101.7h0M405.1 113.2h0M405.8 113.7h0M406.4 112.1h0M407.0 116.1h0M407.6 100.3h0M408.2 103.5h0M408.8 95.0h0M409.4 102.4h0M410.0 89.2h0M410.6 94.5h0M411.3 84.1h0M411.9 63.9h0M412.5 53.5h0M413.1 61.2h0M413.7 51.8h0M414.3 49.6h0M414.9 40.2h0M415.5 50.5h0M416.1 45.5h0M416.8 45.5h0M417.4 43.4h0M418.0 33.1h0M418.6 22.1h0M419.2 36.0h0M419.8 32.6h0M420.4 32.8h0M421.0 43.5h0M421.6 35.2h0M422.2 47.1h0M422.9 37.0h0M423.5 40.8h0M424.1 39.6h0M424.7 42.1h0M425.3 27.0h0M425.9 45.3h0M426.5 38.8h0M427.1 31.9h0M427.7 45.4h0M428.4 45.4h0M429.0 55.3h0M429.6 54.8h0M430.2 57.0h0M430.8 48.2h0M431.4 79.4h0M432.0 81.7h0M432.6 74.9h0M433.2 67.9h0M433.9 68.3h0M434.5 47.9h0M435.1 55.5h0M435.7 46.8h0M436.3 36.0h0M436.9 43.7h0M437.5 41.5h0M438.1 49.9h0M438.7 42.7h0M439.4 22.4h0M440.0 18.7h0M440.6 32.0h0M441.2 30.3h0M441.8 24.3h0M442.4 19.9h0M443.0 29.0h0M443.6 21.5h0M444.2 24.7h0M444.9 36.2h0M445.5 31.4h0M446.1 23.8h0M446.7 21.0h0M447.3 28.0h0M447.9 42.5h0M448.5 25.7h0M449.1 42.7h0M449.7 24.0h0M450.4 28.5h0M451.0 35.7h0M451.6 25.1h0M452.2 31.8h0M452.8 21.9h0M453.4 37.8h0M454.0 42.5h0M454.6 30.1h0M455.2 37.9h0M455.9 35.3h0M456.5 24.5h0M457.1 64.2h0M457.7 51.9h0M458.3 57.9h0M458.9 60.0h0M459.5 64.9h0M460.1 88.9h0M460.7 65.6h0M461.4 84.6h0M462.0 87.0h0M462.6 83.6h0M463.2 79.9h0M463.8 58.6h0M464.4 45.5h0M465.0 40.6h0M465.6 47.8h0M466.2 47.9h0M466.9 44.0h0M467.5 47.8h0M468.1 30.2h0M468.7 40.2h0M469.3 36.7h0M469.9 29.4h0M470.5 24.2h0M471.1 35.8h0M471.7 23.6h0M472.4 26.0h0M473.0 20.5h0M473.6 40.5h0M474.2 26.7h0M474.8 23.1h0M475.4 24.7h0M476.0 24.6h0M476.6 26.8h0M477.2 13.2h0M477.9 17.1h0M478.5 29.5h0M479.1 33.7h0M479.7 17.8h0M480.3 26.2h0" stroke="#666" stroke-width="1.4" stroke-linecap="square" fill="none"/>
<path d="M297.3 23.3 L297.7 23.3 L298.0 23.3 L298.4 23.3 L298.8 23.3 L299.1 23.3 L299.5 23.3 L299.9 23.3 L300.2 23.3 L300.6 23.3 L301.0 23.3 L301.3 23.3 L301.7 23.4 L302.1 23.4 L302.4 23.4 L302.8 23.4 L303.2 23.4 L303.5 23.4 L303.9 23.4 L304.3 23.5 L304.6 23.5 L305.0 23.5 L305.4 23.5 L305.7 23.6 L306.1 23.6 L306.5 23.6 L306.8 23.6 L307.2 23.7 L307.6 23.7 L307.9 23.7 L308.3 23.8 L308.7 23.8 L309.0 23.9 L309.4 23.9 L309.8 24.0 L310.1 24.0 L310.5 24.1 L310.9 24.2 L311.2 24.3 L311.6 24.3 L312.0 24.4 L312.3 24.6 L312.7 24.7 L313.1 24.8 L313.4 25.0 L313.8 25.2 L314.2 25.4 L314.5 25.7 L314.9 25.9 L315.3 26.3 L315.6 26.7 L316.0 27.2 L316.4 27.8 L316.7 28.5 L317.1 29.3 L317.5 30.4 L317.8 31.7 L318.2 33.4 L318.6 35.5 L318.9 38.2 L319.3 41.5 L319.7 45.5 L320.0 50.0 L320.4 54.3 L320.8 57.3 L321.1 58.0 L321.5 56.1 L321.9 52.2 L322.2 47.7 L322.6 43.4 L323.0 39.8 L323.3 36.8 L323.7 34.4 L324.1 32.5 L324.4 31.0 L324.8 29.9 L325.2 28.9 L325.5 28.1 L325.9 27.5 L326.3 27.0 L326.6 26.6 L327.0 26.2 L327.4 25.9 L327.7 25.6 L328.1 25.4 L328.5 25.2 L328.8 25.0 L329.2 24.9 L329.6 24.7 L329.9 24.6 L330.3 24.5 L330.7 24.4 L331.0 24.4 L331.4 24.3 L331.8 24.2 L332.1 24.2 L332.5 24.1 L332.9 24.1 L333.2 24.0 L333.6 24.0 L334.0 24.0 L334.3 24.0 L334.7 23.9 L335.1 23.9 L335.4 23.9 L335.8 23.9 L336.2 23.9 L336.5 23.9 L336.9 23.9 L337.3 23.9 L337.6 23.9 L338.0 23.9 L338.4 23.9 L338.7 23.9 L339.1 23.9 L339.5 23.9 L339.8 23.9 L340.2 24.0 L340.6 24.0 L340.9 24.0 L341.3 24.1 L341.7 24.1 L342.0 24.2 L342.4 24.2 L342.8 24.3 L343.1 24.4 L343.5 24.5 L343.9 24.6 L344.2 24.7 L344.6 24.8 L345.0 25.0 L345.3 25.2 L345.7 25.4 L346.1 25.7 L346.4 26.0 L346.8 26.4 L347.2 26.9 L347.5 27.5 L347.9 28.3 L348.3 29.2 L348.6 30.4 L349.0 32.0 L349.4 33.9 L349.7 36.2 L350.1 39.0 L350.5 41.8 L350.8 44.3 L351.2 45.5 L351.6 45.1 L351.9 43.2 L352.3 40.4 L352.7 37.5 L353.0 35.0 L353.4 32.8 L353.8 31.1 L354.1 29.8 L354.5 28.7 L354.9 27.9 L355.2 27.2 L355.6 26.6 L356.0 26.2 L356.3 25.8 L356.7 25.5 L357.1 25.2 L357.4 25.0 L357.8 24.8 L358.2 24.7 L358.5 24.6 L358.9 24.4 L359.3 24.3 L359.6 24.2 L360.0 24.2 L360.4 24.1 L360.7 24.0 L361.1 24.0 L361.5 23.9 L361.8 23.9 L362.2 23.8 L362.6 23.8 L362.9 23.8 L363.3 23.7 L363.7 23.7 L364.0 23.7 L364.4 23.7 L364.8 23.7 L365.1 23.7 L365.5 23.6 L365.9 23.6 L366.2 23.6 L366.6 23.6 L367.0 23.6 L367.3 23.6 L367.7 23.6 L368.1 23.6 L368.4 23.6 L368.8 23.6 L369.2 23.6 L369.5 23.6 L369.9 23.7 L370.3 23.7 L370.6 23.7 L371.0 23.7 L371.4 23.7 L371.7 23.8 L372.1 23.8 L372.5 23.8 L372.8 23.9 L373.2 24.0 L373.6 24.0 L373.9 24.1 L374.3 24.2 L374.7 24.3 L375.0 24.4 L375.4 24.6 L375.8 24.8 L376.1 25.0 L376.5 25.3 L376.9 25.7 L377.2 26.2 L377.6 26.8 L378.0 27.5 L378.3 28.5 L378.7 29.6 L379.1 31.0 L379.4 32.3 L379.8 33.3 L380.2 33.7 L380.5 33.3 L380.9 32.3 L381.3 31.0 L381.6 29.6 L382.0 28.5 L382.4 27.5 L382.7 26.8 L383.1 26.2 L383.5 25.7 L383.8 25.3 L384.2 25.0 L384.6 24.8 L384.9 24.6 L385.3 24.4 L385.7 24.3 L386.0 24.2 L386.4 24.1 L386.8 24.0 L387.1 24.0 L387.5 23.9 L387.9 23.8 L388.2 23.8 L388.6 23.8 L389.0 23.7 L389.3 23.7 L389.7 23.7 L390.0 23.7 L390.4 23.7 L390.8 23.7 L391.1 23.6 L391.5 23.6 L391.9 23.6 L392.2 23.6 L392.6 23.6 L393.0 23.7 L393.3 23.7 L393.7 23.7 L394.1 23.7 L394.4 23.7 L394.8 23.7 L395.2 23.8 L395.5 23.8 L395.9 23.8 L396.3 23.9 L396.6 24.0 L397.0 24.0 L397.4 24.1 L397.7 24.2 L398.1 24.3 L398.5 24.4 L398.8 24.6 L399.2 24.8 L399.6 25.0 L399.9 25.3 L400.3 25.6 L400.7 26.1 L401.0 26.6 L401.4 27.3 L401.8 28.2 L402.1 29.3 L402.5 30.6 L402.9 32.0 L403.2 33.3 L403.6 34.1 L404.0 34.1 L404.3 33.3 L404.7 32.0 L405.1 30.6 L405.4 29.3 L405.8 28.2 L406.2 27.3 L406.5 26.6 L406.9 26.1 L407.3 25.6 L407.6 25.3 L408.0 25.0 L408.4 24.8 L408.7 24.6 L409.1 24.4 L409.5 24.3 L409.8 24.2 L410.2 24.1 L410.6 24.0 L410.9 24.0 L411.3 23.9 L411.7 23.9 L412.0 23.8 L412.4 23.8 L412.8 23.8 L413.1 23.7 L413.5 23.7 L413.9 23.7 L414.2 23.7 L414.6 23.7 L415.0 23.7 L415.3 23.6 L415.7 23.6 L416.1 23.6 L416.4 23.6 L416.8 23.6 L417.2 23.6 L417.5 23.7 L417.9 23.7 L418.3 23.7 L418.6 23.7 L419.0 23.7 L419.4 23.7 L419.7 23.7 L420.1 23.8 L420.5 23.8 L420.8 23.8 L421.2 23.9 L421.6 23.9 L421.9 23.9 L422.3 24.0 L422.7 24.0 L423.0 24.1 L423.4 24.2 L423.8 24.3 L424.1 24.3 L424.5 24.4 L424.9 24.6 L425.2 24.7 L425.6 24.9 L426.0 25.1 L426.3 25.3 L426.7 25.5 L427.1 25.9 L427.4 26.2 L427.8 26.7 L428.2 27.3 L428.5 28.0 L428.9 28.9 L429.3 30.0 L429.6 31.4 L430.0 33.2 L430.4 35.4 L430.7 38.0 L431.1 40.8 L431.5 43.4 L431.8 45.0 L432.2 45.0 L432.6 43.4 L432.9 40.8 L433.3 38.0 L433.7 35.4 L434.0 33.2 L434.4 31.4 L434.8 30.0 L435.1 28.9 L435.5 28.0 L435.9 27.3 L436.2 26.7 L436.6 26.3 L437.0 25.9 L437.3 25.6 L437.7 25.3 L438.1 25.1 L438.4 24.9 L438.8 24.8 L439.2 24.6 L439.5 24.5 L439.9 24.4 L440.3 24.3 L440.6 24.3 L441.0 24.2 L441.4 24.1 L441.7 24.1 L442.1 24.1 L442.5 24.0 L442.8 24.0 L443.2 24.0 L443.6 23.9 L443.9 23.9 L444.3 23.9 L444.7 23.9 L445.0 23.9 L445.4 23.9 L445.8 23.9 L446.1 23.9 L446.5 23.9 L446.9 23.9 L447.2 23.9 L447.6 23.9 L448.0 23.9 L448.3 23.9 L448.7 24.0 L449.1 24.0 L449.4 24.0 L449.8 24.1 L450.2 24.1 L450.5 24.1 L450.9 24.2 L451.3 24.2 L451.6 24.3 L452.0 24.4 L452.4 24.5 L452.7 24.5 L453.1 24.6 L453.5 24.8 L453.8 24.9 L454.2 25.0 L454.6 25.2 L454.9 25.4 L455.3 25.6 L455.7 25.9 L456.0 26.2 L456.4 26.5 L456.8 27.0 L457.1 27.5 L457.5 28.1 L457.9 28.9 L458.2 29.8 L458.6 30.9 L459.0 32.4 L459.3 34.2 L459.7 36.5 L460.1 39.4 L460.4 43.0 L460.8 47.3 L461.2 51.9 L461.5 56.1 L461.9 58.8 L462.3 58.8 L462.6 56.1 L463.0 51.9 L463.4 47.3 L463.7 43.0 L464.1 39.4 L464.5 36.5 L464.8 34.2 L465.2 32.3 L465.6 30.9 L465.9 29.7 L466.3 28.8 L466.7 28.1 L467.0 27.4 L467.4 26.9 L467.8 26.5 L468.1 26.1 L468.5 25.8 L468.9 25.5 L469.2 25.3 L469.6 25.1 L470.0 24.9 L470.3 24.8 L470.7 24.6 L471.1 24.5 L471.4 24.4 L471.8 24.3 L472.2 24.2 L472.5 24.1 L472.9 24.1 L473.3 24.0 L473.6 23.9 L474.0 23.9 L474.4 23.8 L474.7 23.8 L475.1 23.8 L475.5 23.7 L475.8 23.7 L476.2 23.7 L476.6 23.6 L476.9 23.6 L477.3 23.6 L477.7 23.5 L478.0 23.5 L478.4 23.5 L478.8 23.5 L479.1 23.5 L479.5 23.4 L479.9 23.4 L480.2 23.4 L480.6 23.4" fill="none" stroke="#80ff80" stroke-width="1"/>
<path d="M297.5 23.3h0M298.0 23.3h0M298.5 23.3h0M299.0 23.3h0M299.4 23.3h0M299.9 23.3h0M300.4 23.3h0M300.9 23.3h0M301.4 23.3h0M301.8 23.4h0M302.3 23.4h0M302.8 23.4h0M303.3 23.4h0M303.7 23.4h0M304.2 23.5h0M304.7 23.5h0M305.2 23.5h0M305.7 23.5h0M306.1 23.6h0M306.6 23.6h0M307.1 23.7h0M307.6 23.7h0M308.0 23.7h0M308.5 23.8h0M309.0 23.9h0M309.5 23.9h0M309.9 24.0h0M310.4 24.1h0M310.9 24.2h0M311.4 24.3h0M311.9 24.4h0M312.3 24.6h0M312.8 24.7h0M313.3 24.9h0M313.8 25.2h0M314.2 25.5h0M314.7 25.8h0M315.2 26.2h0M315.7 26.7h0M316.2 27.4h0M316.6 28.3h0M317.1 29.3h0M317.6 30.8h0M318.1 32.7h0M318.5 35.4h0M319.0 38.9h0M319.5 43.6h0M320.0 49.3h0M320.5 54.9h0M320.9 58.0h0M321.4 56.8h0M321.9 52.0h0M322.4 46.1h0M322.8 40.9h0M323.3 36.9h0M323.8 33.9h0M324.3 31.6h0M324.7 30.0h0M325.2 28.8h0M325.7 27.8h0M326.2 27.1h0M326.7 26.5h0M327.1 26.1h0M327.6 25.7h0M328.1 25.4h0M328.6 25.1h0M329.0 24.9h0M329.5 24.8h0M330.0 24.6h0M330.5 24.5h0M331.0 24.4h0M331.4 24.3h0M331.9 24.2h0M332.4 24.1h0M332.9 24.1h0M333.3 24.0h0M333.8 24.0h0M334.3 24.0h0M334.8 23.9h0M335.2 23.9h0M335.7 23.9h0M336.2 23.9h0M336.7 23.9h0M337.2 23.9h0M337.6 23.9h0M338.1 23.9h0M338.6 23.9h0M339.1 23.9h0M339.5 23.9h0M340.0 23.9h0M340.5 24.0h0M341.0 24.0h0M341.5 24.1h0M341.9 24.1h0M342.4 24.2h0M342.9 24.3h0M343.4 24.4h0M343.8 24.6h0M344.3 24.7h0M344.8 24.9h0M345.3 25.2h0M345.8 25.5h0M346.2 25.8h0M346.7 26.3h0M347.2 27.0h0M347.7 27.8h0M348.1 28.9h0M348.6 30.4h0M349.1 32.4h0M349.6 35.2h0M350.0 38.6h0M350.5 42.3h0M351.0 45.1h0M351.5 45.3h0M352.0 42.9h0M352.4 39.3h0M352.9 35.7h0M353.4 32.9h0M353.9 30.7h0M354.3 29.1h0M354.8 27.9h0M355.3 27.1h0M355.8 26.4h0M356.3 25.9h0M356.7 25.5h0M357.2 25.2h0M357.7 24.9h0M358.2 24.7h0M358.6 24.5h0M359.1 24.4h0M359.6 24.2h0M360.1 24.1h0M360.5 24.1h0M361.0 24.0h0M361.5 23.9h0M362.0 23.9h0M362.5 23.8h0M362.9 23.8h0M363.4 23.7h0M363.9 23.7h0M364.4 23.7h0M364.8 23.7h0M365.3 23.6h0M365.8 23.6h0M366.3 23.6h0M366.8 23.6h0M367.2 23.6h0M367.7 23.6h0M368.2 23.6h0M368.7 23.6h0M369.1 23.6h0M369.6 23.6h0M370.1 23.7h0M370.6 23.7h0M371.0 23.7h0M371.5 23.8h0M372.0 23.8h0M372.5 23.9h0M373.0 23.9h0M373.4 24.0h0M373.9 24.1h0M374.4 24.2h0M374.9 24.4h0M375.3 24.6h0M375.8 24.8h0M376.3 25.2h0M376.8 25.6h0M377.3 26.2h0M377.7 27.1h0M378.2 28.2h0M378.7 29.6h0M379.2 31.4h0M379.6 33.0h0M380.1 33.7h0M380.6 33.2h0M381.1 31.6h0M381.6 29.9h0M382.0 28.4h0M382.5 27.2h0M383.0 26.3h0M383.5 25.7h0M383.9 25.2h0M384.4 24.9h0M384.9 24.6h0M385.4 24.4h0M385.8 24.2h0M386.3 24.1h0M386.8 24.0h0M387.3 23.9h0M387.8 23.9h0M388.2 23.8h0M388.7 23.8h0M389.2 23.7h0M389.7 23.7h0M390.1 23.7h0M390.6 23.7h0M391.1 23.7h0M391.6 23.6h0M392.1 23.6h0M392.5 23.6h0M393.0 23.7h0M393.5 23.7h0M394.0 23.7h0M394.4 23.7h0M394.9 23.8h0M395.4 23.8h0M395.9 23.8h0M396.3 23.9h0M396.8 24.0h0M397.3 24.1h0M397.8 24.2h0M398.3 24.3h0M398.7 24.5h0M399.2 24.8h0M399.7 25.1h0M400.2 25.5h0M400.6 26.0h0M401.1 26.8h0M401.6 27.7h0M402.1 29.1h0M402.6 30.8h0M403.0 32.6h0M403.5 34.0h0M404.0 34.1h0M404.5 33.0h0M404.9 31.2h0M405.4 29.4h0M405.9 28.0h0M406.4 26.9h0M406.9 26.2h0M407.3 25.6h0M407.8 25.2h0M408.3 24.8h0M408.8 24.6h0M409.2 24.4h0M409.7 24.2h0M410.2 24.1h0M410.7 24.0h0M411.1 23.9h0M411.6 23.9h0M412.1 23.8h0M412.6 23.8h0M413.1 23.7h0M413.5 23.7h0M414.0 23.7h0M414.5 23.7h0M415.0 23.7h0M415.4 23.6h0M415.9 23.6h0M416.4 23.6h0M416.9 23.6h0M417.4 23.7h0M417.8 23.7h0M418.3 23.7h0M418.8 23.7h0M419.3 23.7h0M419.7 23.7h0M420.2 23.8h0M420.7 23.8h0M421.2 23.9h0M421.6 23.9h0M422.1 24.0h0M422.6 24.0h0M423.1 24.1h0M423.6 24.2h0M424.0 24.3h0M424.5 24.4h0M425.0 24.6h0M425.5 24.8h0M425.9 25.0h0M426.4 25.3h0M426.9 25.7h0M427.4 26.2h0M427.9 26.8h0M428.3 27.6h0M428.8 28.6h0M429.3 30.0h0M429.8 31.9h0M430.2 34.5h0M430.7 37.8h0M431.2 41.5h0M431.7 44.4h0M432.1 45.1h0M432.6 43.1h0M433.1 39.6h0M433.6 36.0h0M434.1 33.1h0M434.5 30.9h0M435.0 29.2h0M435.5 28.0h0M436.0 27.2h0M436.4 26.5h0M436.9 26.0h0M437.4 25.6h0M437.9 25.2h0M438.4 25.0h0M438.8 24.8h0M439.3 24.6h0M439.8 24.5h0M440.3 24.3h0M440.7 24.2h0M441.2 24.2h0M441.7 24.1h0M442.2 24.0h0M442.7 24.0h0M443.1 24.0h0M443.6 23.9h0M444.1 23.9h0M444.6 23.9h0M445.0 23.9h0M445.5 23.9h0M446.0 23.9h0M446.5 23.9h0M446.9 23.9h0M447.4 23.9h0M447.9 23.9h0M448.4 23.9h0M448.9 24.0h0M449.3 24.0h0M449.8 24.1h0M450.3 24.1h0M450.8 24.2h0M451.2 24.2h0M451.7 24.3h0M452.2 24.4h0M452.7 24.5h0M453.2 24.7h0M453.6 24.8h0M454.1 25.0h0M454.6 25.2h0M455.1 25.5h0M455.5 25.8h0M456.0 26.2h0M456.5 26.6h0M457.0 27.2h0M457.4 28.0h0M457.9 29.0h0M458.4 30.3h0M458.9 32.0h0M459.4 34.3h0M459.8 37.5h0M460.3 41.7h0M460.8 47.1h0M461.3 53.1h0M461.7 57.9h0M462.2 58.9h0M462.7 55.5h0M463.2 49.7h0M463.7 43.9h0M464.1 39.1h0M464.6 35.5h0M465.1 32.9h0M465.6 30.9h0M466.0 29.5h0M466.5 28.3h0M467.0 27.5h0M467.5 26.8h0M468.0 26.3h0M468.4 25.9h0M468.9 25.5h0M469.4 25.2h0M469.9 25.0h0M470.3 24.8h0M470.8 24.6h0M471.3 24.4h0M471.8 24.3h0M472.2 24.2h0M472.7 24.1h0M473.2 24.0h0M473.7 23.9h0M474.2 23.9h0M474.6 23.8h0M475.1 23.8h0M475.6 23.7h0M476.1 23.7h0M476.5 23.6h0M477.0 23.6h0M477.5 23.6h0M478.0 23.5h0M478.5 23.5h0M478.9 23.5h0M479.4 23.5h0M479.9 23.4h0M480.4 23.4h0" stroke="#10e810" stroke-width="2.0" stroke-linecap="round" fill="none"/>
<path d="M297.3 23.6 L297.7 23.6 L298.0 23.6 L298.4 23.6 L298.8 23.6 L299.1 23.6 L299.5 23.6 L299.9 23.7 L300.2 23.7 L300.6 23.7 L301.0 23.7 L301.3 23.7 L301.7 23.7 L302.1 23.7 L302.4 23.8 L302.8 23.8 L303.2 23.8 L303.5 23.8 L303.9 23.8 L304.3 23.9 L304.6 23.9 L305.0 23.9 L305.4 23.9 L305.7 24.0 L306.1 24.0 L306.5 24.0 L306.8 24.1 L307.2 24.1 L307.6 24.1 L307.9 24.2 L308.3 24.2 L308.7 24.2 L309.0 24.3 L309.4 24.3 L309.8 24.4 L310.1 24.4 L310.5 24.5 L310.9 24.5 L311.2 24.6 L311.6 24.6 L312.0 24.7 L312.3 24.8 L312.7 24.8 L313.1 24.9 L313.4 25.0 L313.8 25.1 L314.2 25.2 L314.5 25.3 L314.9 25.4 L315.3 25.5 L315.6 25.6 L316.0 25.7 L316.4 25.9 L316.7 26.0 L317.1 26.2 L317.5 26.4 L317.8 26.6 L318.2 26.8 L318.6 27.0 L318.9 27.3 L319.3 27.6 L319.7 27.9 L320.0 28.2 L320.4 28.6 L320.8 29.0 L321.1 29.5 L321.5 30.0 L321.9 30.6 L322.2 31.3 L322.6 32.0 L323.0 32.8 L323.3 33.7 L323.7 34.8 L324.1 36.0 L324.4 37.3 L324.8 38.7 L325.2 40.4 L325.5 42.1 L325.9 44.0 L326.3 46.1 L326.6 48.1 L327.0 50.1 L327.4 51.9 L327.7 53.4 L328.1 54.5 L328.5 54.9 L328.8 54.8 L329.2 54.1 L329.6 52.8 L329.9 51.1 L330.3 49.2 L330.7 47.2 L331.0 45.2 L331.4 43.2 L331.8 41.4 L332.1 39.7 L332.5 38.2 L332.9 36.9 L333.2 35.6 L333.6 34.6 L334.0 33.6 L334.3 32.7 L334.7 32.0 L335.1 31.3 L335.4 30.7 L335.8 30.2 L336.2 29.7 L336.5 29.3 L336.9 29.0 L337.3 28.6 L337.6 28.3 L338.0 28.1 L338.4 27.8 L338.7 27.6 L339.1 27.4 L339.5 27.3 L339.8 27.1 L340.2 27.0 L340.6 26.9 L340.9 26.8 L341.3 26.7 L341.7 26.7 L342.0 26.6 L342.4 26.6 L342.8 26.5 L343.1 26.5 L343.5 26.5 L343.9 26.5 L344.2 26.5 L344.6 26.6 L345.0 26.6 L345.3 26.7 L345.7 26.7 L346.1 26.8 L346.4 26.9 L346.8 27.0 L347.2 27.2 L347.5 27.3 L347.9 27.5 L348.3 27.7 L348.6 28.0 L349.0 28.2 L349.4 28.5 L349.7 28.9 L350.1 29.3 L350.5 29.7 L350.8 30.2 L351.2 30.8 L351.6 31.4 L351.9 32.1 L352.3 33.0 L352.7 33.9 L353.0 34.9 L353.4 36.0 L353.8 37.3 L354.1 38.6 L354.5 40.0 L354.9 41.4 L355.2 42.8 L355.6 44.0 L356.0 44.9 L356.3 45.6 L356.7 45.8 L357.1 45.5 L357.4 44.9 L357.8 43.9 L358.2 42.7 L358.5 41.3 L358.9 39.9 L359.3 38.5 L359.6 37.1 L360.0 35.9 L360.4 34.7 L360.7 33.7 L361.1 32.7 L361.5 31.9 L361.8 31.1 L362.2 30.5 L362.6 29.9 L362.9 29.4 L363.3 28.9 L363.7 28.5 L364.0 28.1 L364.4 27.8 L364.8 27.5 L365.1 27.2 L365.5 27.0 L365.9 26.8 L366.2 26.6 L366.6 26.4 L367.0 26.2 L367.3 26.1 L367.7 26.0 L368.1 25.9 L368.4 25.8 L368.8 25.7 L369.2 25.6 L369.5 25.5 L369.9 25.4 L370.3 25.4 L370.6 25.3 L371.0 25.3 L371.4 25.2 L371.7 25.2 L372.1 25.2 L372.5 25.2 L372.8 25.1 L373.2 25.1 L373.6 25.1 L373.9 25.1 L374.3 25.2 L374.7 25.2 L375.0 25.2 L375.4 25.2 L375.8 25.3 L376.1 25.4 L376.5 25.4 L376.9 25.5 L377.2 25.6 L377.6 25.7 L378.0 25.9 L378.3 26.0 L378.7 26.2 L379.1 26.5 L379.4 26.7 L379.8 27.0 L380.2 27.4 L380.5 27.9 L380.9 28.4 L381.3 29.0 L381.6 29.7 L382.0 30.5 L382.4 31.4 L382.7 32.3 L383.1 33.3 L383.5 34.2 L383.8 34.9 L384.2 35.3 L384.6 35.3 L384.9 34.9 L385.3 34.2 L385.7 33.3 L386.0 32.3 L386.4 31.4 L386.8 30.5 L387.1 29.6 L387.5 28.9 L387.9 28.3 L388.2 27.8 L388.6 27.4 L389.0 27.0 L389.3 26.7 L389.7 26.4 L390.0 26.2 L390.4 26.0 L390.8 25.8 L391.1 25.7 L391.5 25.6 L391.9 25.5 L392.2 25.4 L392.6 25.3 L393.0 25.2 L393.3 25.2 L393.7 25.2 L394.1 25.1 L394.4 25.1 L394.8 25.1 L395.2 25.1 L395.5 25.2 L395.9 25.2 L396.3 25.2 L396.6 25.3 L397.0 25.3 L397.4 25.4 L397.7 25.5 L398.1 25.6 L398.5 25.7 L398.8 25.9 L399.2 26.1 L399.6 26.3 L399.9 26.5 L400.3 26.8 L400.7 27.1 L401.0 27.5 L401.4 28.0 L401.8 28.5 L402.1 29.2 L402.5 29.9 L402.9 30.8 L403.2 31.7 L403.6 32.6 L404.0 33.6 L404.3 34.4 L404.7 34.9 L405.1 35.1 L405.4 34.9 L405.8 34.4 L406.2 33.6 L406.5 32.7 L406.9 31.7 L407.3 30.8 L407.6 30.0 L408.0 29.3 L408.4 28.6 L408.7 28.1 L409.1 27.6 L409.5 27.2 L409.8 26.9 L410.2 26.6 L410.6 26.4 L410.9 26.2 L411.3 26.0 L411.7 25.9 L412.0 25.8 L412.4 25.7 L412.8 25.6 L413.1 25.5 L413.5 25.5 L413.9 25.4 L414.2 25.4 L414.6 25.3 L415.0 25.3 L415.3 25.3 L415.7 25.3 L416.1 25.3 L416.4 25.3 L416.8 25.4 L417.2 25.4 L417.5 25.4 L417.9 25.5 L418.3 25.5 L418.6 25.6 L419.0 25.6 L419.4 25.7 L419.7 25.8 L420.1 25.9 L420.5 26.0 L420.8 26.1 L421.2 26.2 L421.6 26.3 L421.9 26.5 L422.3 26.6 L422.7 26.8 L423.0 27.0 L423.4 27.2 L423.8 27.4 L424.1 27.7 L424.5 27.9 L424.9 28.3 L425.2 28.6 L425.6 29.0 L426.0 29.4 L426.3 29.9 L426.7 30.4 L427.1 31.0 L427.4 31.6 L427.8 32.3 L428.2 33.1 L428.5 34.0 L428.9 34.9 L429.3 36.0 L429.6 37.1 L430.0 38.3 L430.4 39.6 L430.7 40.8 L431.1 42.1 L431.5 43.3 L431.8 44.3 L432.2 45.1 L432.6 45.6 L432.9 45.8 L433.3 45.6 L433.7 45.1 L434.0 44.3 L434.4 43.3 L434.8 42.2 L435.1 41.0 L435.5 39.7 L435.9 38.5 L436.2 37.3 L436.6 36.2 L437.0 35.2 L437.3 34.2 L437.7 33.4 L438.1 32.6 L438.4 31.9 L438.8 31.3 L439.2 30.7 L439.5 30.2 L439.9 29.8 L440.3 29.4 L440.6 29.1 L441.0 28.7 L441.4 28.5 L441.7 28.2 L442.1 28.0 L442.5 27.8 L442.8 27.6 L443.2 27.5 L443.6 27.4 L443.9 27.2 L444.3 27.1 L444.7 27.1 L445.0 27.0 L445.4 26.9 L445.8 26.9 L446.1 26.9 L446.5 26.9 L446.9 26.9 L447.2 26.9 L447.6 26.9 L448.0 27.0 L448.3 27.0 L448.7 27.1 L449.1 27.2 L449.4 27.3 L449.8 27.4 L450.2 27.5 L450.5 27.7 L450.9 27.8 L451.3 28.0 L451.6 28.3 L452.0 28.5 L452.4 28.8 L452.7 29.1 L453.1 29.5 L453.5 29.9 L453.8 30.4 L454.2 30.9 L454.6 31.5 L454.9 32.1 L455.3 32.9 L455.7 33.7 L456.0 34.7 L456.4 35.8 L456.8 37.0 L457.1 38.3 L457.5 39.9 L457.9 41.5 L458.2 43.3 L458.6 45.3 L459.0 47.3 L459.3 49.3 L459.7 51.2 L460.1 52.9 L460.4 54.1 L460.8 54.9 L461.2 55.0 L461.5 54.6 L461.9 53.5 L462.3 52.0 L462.6 50.2 L463.0 48.2 L463.4 46.1 L463.7 44.1 L464.1 42.2 L464.5 40.4 L464.8 38.8 L465.2 37.3 L465.6 36.0 L465.9 34.9 L466.3 33.8 L466.7 32.9 L467.0 32.1 L467.4 31.3 L467.8 30.7 L468.1 30.1 L468.5 29.5 L468.9 29.1 L469.2 28.7 L469.6 28.3 L470.0 27.9 L470.3 27.6 L470.7 27.3 L471.1 27.1 L471.4 26.8 L471.8 26.6 L472.2 26.4 L472.5 26.2 L472.9 26.1 L473.3 25.9 L473.6 25.8 L474.0 25.6 L474.4 25.5 L474.7 25.4 L475.1 25.3 L475.5 25.2 L475.8 25.1 L476.2 25.0 L476.6 24.9 L476.9 24.9 L477.3 24.8 L477.7 24.7 L478.0 24.7 L478.4 24.6 L478.8 24.5 L479.1 24.5 L479.5 24.4 L479.9 24.4 L480.2 24.3 L480.6 24.3" fill="none" stroke="#6060ff" stroke-width="1"/>
<path d="M297.5 23.6h0M298.0 23.6h0M298.5 23.6h0M299.0 23.6h0M299.4 23.6h0M299.9 23.7h0M300.4 23.7h0M300.9 23.7h0M301.4 23.7h0M301.8 23.7h0M302.3 23.8h0M302.8 23.8h0M303.3 23.8h0M303.7 23.8h0M304.2 23.9h0M304.7 23.9h0M305.2 23.9h0M305.7 24.0h0M306.1 24.0h0M306.6 24.0h0M307.1 24.1h0M307.6 24.1h0M308.0 24.2h0M308.5 24.2h0M309.0 24.3h0M309.5 24.3h0M309.9 24.4h0M310.4 24.4h0M310.9 24.5h0M311.4 24.6h0M311.9 24.7h0M312.3 24.8h0M312.8 24.8h0M313.3 24.9h0M313.8 25.1h0M314.2 25.2h0M314.7 25.3h0M315.2 25.5h0M315.7 25.6h0M316.2 25.8h0M316.6 26.0h0M317.1 26.2h0M317.6 26.4h0M318.1 26.7h0M318.5 27.0h0M319.0 27.3h0M319.5 27.7h0M320.0 28.2h0M320.5 28.7h0M320.9 29.2h0M321.4 29.9h0M321.9 30.6h0M322.4 31.5h0M322.8 32.5h0M323.3 33.7h0M323.8 35.1h0M324.3 36.7h0M324.7 38.5h0M325.2 40.7h0M325.7 43.0h0M326.2 45.6h0M326.7 48.3h0M327.1 50.8h0M327.6 53.0h0M328.1 54.5h0M328.6 55.0h0M329.0 54.4h0M329.5 52.9h0M330.0 50.8h0M330.5 48.2h0M331.0 45.6h0M331.4 43.1h0M331.9 40.7h0M332.4 38.7h0M332.9 36.8h0M333.3 35.3h0M333.8 34.0h0M334.3 32.8h0M334.8 31.8h0M335.2 31.0h0M335.7 30.3h0M336.2 29.7h0M336.7 29.2h0M337.2 28.7h0M337.6 28.3h0M338.1 28.0h0M338.6 27.7h0M339.1 27.5h0M339.5 27.2h0M340.0 27.1h0M340.5 26.9h0M341.0 26.8h0M341.5 26.7h0M341.9 26.6h0M342.4 26.6h0M342.9 26.5h0M343.4 26.5h0M343.8 26.5h0M344.3 26.5h0M344.8 26.6h0M345.3 26.7h0M345.8 26.8h0M346.2 26.9h0M346.7 27.0h0M347.2 27.2h0M347.7 27.4h0M348.1 27.7h0M348.6 28.0h0M349.1 28.3h0M349.6 28.7h0M350.0 29.2h0M350.5 29.8h0M351.0 30.5h0M351.5 31.3h0M352.0 32.2h0M352.4 33.3h0M352.9 34.6h0M353.4 36.0h0M353.9 37.7h0M354.3 39.5h0M354.8 41.3h0M355.3 43.0h0M355.8 44.5h0M356.3 45.5h0M356.7 45.8h0M357.2 45.3h0M357.7 44.2h0M358.2 42.7h0M358.6 40.9h0M359.1 39.0h0M359.6 37.2h0M360.1 35.6h0M360.5 34.1h0M361.0 32.9h0M361.5 31.8h0M362.0 30.8h0M362.5 30.0h0M362.9 29.3h0M363.4 28.7h0M363.9 28.2h0M364.4 27.8h0M364.8 27.4h0M365.3 27.1h0M365.8 26.8h0M366.3 26.5h0M366.8 26.3h0M367.2 26.1h0M367.7 26.0h0M368.2 25.8h0M368.7 25.7h0M369.1 25.6h0M369.6 25.5h0M370.1 25.4h0M370.6 25.3h0M371.0 25.3h0M371.5 25.2h0M372.0 25.2h0M372.5 25.2h0M373.0 25.1h0M373.4 25.1h0M373.9 25.1h0M374.4 25.2h0M374.9 25.2h0M375.3 25.2h0M375.8 25.3h0M376.3 25.4h0M376.8 25.5h0M377.3 25.6h0M377.7 25.8h0M378.2 26.0h0M378.7 26.2h0M379.2 26.5h0M379.6 26.9h0M380.1 27.4h0M380.6 28.0h0M381.1 28.7h0M381.6 29.5h0M382.0 30.6h0M382.5 31.8h0M383.0 33.0h0M383.5 34.2h0M383.9 35.1h0M384.4 35.3h0M384.9 34.9h0M385.4 34.0h0M385.8 32.8h0M386.3 31.5h0M386.8 30.3h0M387.3 29.3h0M387.8 28.5h0M388.2 27.8h0M388.7 27.2h0M389.2 26.8h0M389.7 26.4h0M390.1 26.1h0M390.6 25.9h0M391.1 25.7h0M391.6 25.5h0M392.1 25.4h0M392.5 25.3h0M393.0 25.2h0M393.5 25.2h0M394.0 25.2h0M394.4 25.1h0M394.9 25.1h0M395.4 25.1h0M395.9 25.2h0M396.3 25.2h0M396.8 25.3h0M397.3 25.4h0M397.8 25.5h0M398.3 25.7h0M398.7 25.8h0M399.2 26.1h0M399.7 26.3h0M400.2 26.7h0M400.6 27.1h0M401.1 27.6h0M401.6 28.3h0M402.1 29.1h0M402.6 30.0h0M403.0 31.1h0M403.5 32.4h0M404.0 33.6h0M404.5 34.6h0M404.9 35.1h0M405.4 34.9h0M405.9 34.2h0M406.4 33.1h0M406.9 31.9h0M407.3 30.7h0M407.8 29.7h0M408.3 28.8h0M408.8 28.1h0M409.2 27.5h0M409.7 27.0h0M410.2 26.6h0M410.7 26.3h0M411.1 26.1h0M411.6 25.9h0M412.1 25.7h0M412.6 25.6h0M413.1 25.5h0M413.5 25.4h0M414.0 25.4h0M414.5 25.4h0M415.0 25.3h0M415.4 25.3h0M415.9 25.3h0M416.4 25.3h0M416.9 25.4h0M417.4 25.4h0M417.8 25.5h0M418.3 25.5h0M418.8 25.6h0M419.3 25.7h0M419.7 25.8h0M420.2 25.9h0M420.7 26.0h0M421.2 26.2h0M421.6 26.3h0M422.1 26.5h0M422.6 26.7h0M423.1 27.0h0M423.6 27.3h0M424.0 27.6h0M424.5 27.9h0M425.0 28.4h0M425.5 28.8h0M425.9 29.4h0M426.4 30.0h0M426.9 30.7h0M427.4 31.5h0M427.9 32.4h0M428.3 33.5h0M428.8 34.7h0M429.3 36.0h0M429.8 37.5h0M430.2 39.1h0M430.7 40.8h0M431.2 42.4h0M431.7 43.8h0M432.1 45.0h0M432.6 45.6h0M433.1 45.7h0M433.6 45.3h0M434.1 44.3h0M434.5 42.9h0M435.0 41.4h0M435.5 39.8h0M436.0 38.2h0M436.4 36.7h0M436.9 35.3h0M437.4 34.1h0M437.9 33.0h0M438.4 32.1h0M438.8 31.3h0M439.3 30.5h0M439.8 29.9h0M440.3 29.4h0M440.7 29.0h0M441.2 28.6h0M441.7 28.2h0M442.2 28.0h0M442.7 27.7h0M443.1 27.5h0M443.6 27.3h0M444.1 27.2h0M444.6 27.1h0M445.0 27.0h0M445.5 26.9h0M446.0 26.9h0M446.5 26.9h0M446.9 26.9h0M447.4 26.9h0M447.9 26.9h0M448.4 27.0h0M448.9 27.1h0M449.3 27.2h0M449.8 27.4h0M450.3 27.6h0M450.8 27.8h0M451.2 28.0h0M451.7 28.3h0M452.2 28.7h0M452.7 29.1h0M453.2 29.5h0M453.6 30.1h0M454.1 30.7h0M454.6 31.5h0M455.1 32.4h0M455.5 33.4h0M456.0 34.6h0M456.5 36.0h0M457.0 37.7h0M457.4 39.6h0M457.9 41.8h0M458.4 44.2h0M458.9 46.8h0M459.4 49.4h0M459.8 51.9h0M460.3 53.8h0M460.8 54.9h0M461.3 55.0h0M461.7 54.0h0M462.2 52.2h0M462.7 49.9h0M463.2 47.2h0M463.7 44.6h0M464.1 42.1h0M464.6 39.8h0M465.1 37.8h0M465.6 36.0h0M466.0 34.5h0M466.5 33.2h0M467.0 32.1h0M467.5 31.2h0M468.0 30.4h0M468.4 29.6h0M468.9 29.0h0M469.4 28.5h0M469.9 28.0h0M470.3 27.6h0M470.8 27.2h0M471.3 26.9h0M471.8 26.6h0M472.2 26.4h0M472.7 26.1h0M473.2 25.9h0M473.7 25.8h0M474.2 25.6h0M474.6 25.4h0M475.1 25.3h0M475.6 25.2h0M476.1 25.0h0M476.5 24.9h0M477.0 24.8h0M477.5 24.7h0M478.0 24.7h0M478.5 24.6h0M478.9 24.5h0M479.4 24.4h0M479.9 24.4h0M480.4 24.3h0" stroke="#1a1aff" stroke-width="2.0" stroke-linecap="round" fill="none"/>
<path d="M297.3 23.3 L297.7 23.3 L298.0 23.3 L298.4 23.3 L298.8 23.3 L299.1 23.3 L299.5 23.3 L299.9 23.3 L300.2 23.3 L300.6 23.3 L301.0 23.3 L301.3 23.3 L301.7 23.3 L302.1 23.3 L302.4 23.3 L302.8 23.3 L303.2 23.3 L303.5 23.3 L303.9 23.3 L304.3 23.3 L304.6 23.4 L305.0 23.4 L305.4 23.4 L305.7 23.4 L306.1 23.4 L306.5 23.4 L306.8 23.4 L307.2 23.4 L307.6 23.4 L307.9 23.4 L308.3 23.4 L308.7 23.4 L309.0 23.4 L309.4 23.4 L309.8 23.4 L310.1 23.4 L310.5 23.4 L310.9 23.4 L311.2 23.4 L311.6 23.4 L312.0 23.4 L312.3 23.4 L312.7 23.4 L313.1 23.4 L313.4 23.4 L313.8 23.4 L314.2 23.4 L314.5 23.4 L314.9 23.4 L315.3 23.5 L315.6 23.5 L316.0 23.5 L316.4 23.5 L316.7 23.5 L317.1 23.5 L317.5 23.5 L317.8 23.5 L318.2 23.5 L318.6 23.5 L318.9 23.5 L319.3 23.5 L319.7 23.5 L320.0 23.5 L320.4 23.5 L320.8 23.5 L321.1 23.5 L321.5 23.5 L321.9 23.5 L322.2 23.5 L322.6 23.6 L323.0 23.6 L323.3 23.6 L323.7 23.6 L324.1 23.6 L324.4 23.6 L324.8 23.6 L325.2 23.6 L325.5 23.6 L325.9 23.6 L326.3 23.6 L326.6 23.6 L327.0 23.6 L327.4 23.6 L327.7 23.6 L328.1 23.7 L328.5 23.7 L328.8 23.7 L329.2 23.7 L329.6 23.7 L329.9 23.7 L330.3 23.7 L330.7 23.7 L331.0 23.7 L331.4 23.7 L331.8 23.7 L332.1 23.7 L332.5 23.8 L332.9 23.8 L333.2 23.8 L333.6 23.8 L334.0 23.8 L334.3 23.8 L334.7 23.8 L335.1 23.8 L335.4 23.8 L335.8 23.8 L336.2 23.9 L336.5 23.9 L336.9 23.9 L337.3 23.9 L337.6 23.9 L338.0 23.9 L338.4 23.9 L338.7 23.9 L339.1 24.0 L339.5 24.0 L339.8 24.0 L340.2 24.0 L340.6 24.0 L340.9 24.0 L341.3 24.0 L341.7 24.1 L342.0 24.1 L342.4 24.1 L342.8 24.1 L343.1 24.1 L343.5 24.1 L343.9 24.2 L344.2 24.2 L344.6 24.2 L345.0 24.2 L345.3 24.2 L345.7 24.3 L346.1 24.3 L346.4 24.3 L346.8 24.3 L347.2 24.3 L347.5 24.4 L347.9 24.4 L348.3 24.4 L348.6 24.4 L349.0 24.5 L349.4 24.5 L349.7 24.5 L350.1 24.5 L350.5 24.6 L350.8 24.6 L351.2 24.6 L351.6 24.7 L351.9 24.7 L352.3 24.7 L352.7 24.8 L353.0 24.8 L353.4 24.8 L353.8 24.9 L354.1 24.9 L354.5 24.9 L354.9 25.0 L355.2 25.0 L355.6 25.1 L356.0 25.1 L356.3 25.2 L356.7 25.2 L357.1 25.2 L357.4 25.3 L357.8 25.4 L358.2 25.4 L358.5 25.5 L358.9 25.5 L359.3 25.6 L359.6 25.6 L360.0 25.7 L360.4 25.8 L360.7 25.9 L361.1 25.9 L361.5 26.0 L361.8 26.1 L362.2 26.2 L362.6 26.3 L362.9 26.3 L363.3 26.4 L363.7 26.5 L364.0 26.6 L364.4 26.7 L364.8 26.9 L365.1 27.0 L365.5 27.1 L365.9 27.2 L366.2 27.4 L366.6 27.5 L367.0 27.7 L367.3 27.8 L367.7 28.0 L368.1 28.2 L368.4 28.3 L368.8 28.5 L369.2 28.7 L369.5 29.0 L369.9 29.2 L370.3 29.4 L370.6 29.7 L371.0 30.0 L371.4 30.3 L371.7 30.6 L372.1 30.9 L372.5 31.3 L372.8 31.7 L373.2 32.1 L373.6 32.5 L373.9 33.0 L374.3 33.5 L374.7 34.1 L375.0 34.7 L375.4 35.3 L375.8 36.0 L376.1 36.8 L376.5 37.6 L376.9 38.5 L377.2 39.4 L377.6 40.5 L378.0 41.7 L378.3 43.0 L378.7 44.4 L379.1 45.9 L379.4 47.6 L379.8 49.4 L380.2 51.5 L380.5 53.7 L380.9 56.2 L381.3 58.8 L381.6 61.8 L382.0 64.9 L382.4 68.3 L382.7 71.9 L383.1 75.7 L383.5 79.6 L383.8 83.5 L384.2 87.2 L384.6 90.7 L384.9 93.7 L385.3 96.2 L385.7 97.8 L386.0 98.5 L386.4 98.3 L386.8 97.2 L387.1 95.2 L387.5 92.5 L387.9 89.4 L388.2 85.9 L388.6 82.2 L389.0 78.5 L389.3 74.9 L389.7 71.5 L390.0 68.2 L390.4 65.2 L390.8 62.4 L391.1 59.9 L391.5 57.6 L391.9 55.6 L392.2 53.8 L392.6 52.1 L393.0 50.7 L393.3 49.4 L393.7 48.3 L394.1 47.4 L394.4 46.6 L394.8 45.9 L395.2 45.3 L395.5 44.8 L395.9 44.5 L396.3 44.2 L396.6 44.1 L397.0 44.1 L397.4 44.1 L397.7 44.3 L398.1 44.6 L398.5 44.9 L398.8 45.4 L399.2 46.0 L399.6 46.7 L399.9 47.6 L400.3 48.6 L400.7 49.8 L401.0 51.1 L401.4 52.6 L401.8 54.3 L402.1 56.2 L402.5 58.3 L402.9 60.6 L403.2 63.2 L403.6 66.0 L404.0 69.0 L404.3 72.2 L404.7 75.5 L405.1 78.8 L405.4 82.1 L405.8 85.2 L406.2 88.0 L406.5 90.2 L406.9 91.8 L407.3 92.5 L407.6 92.5 L408.0 91.5 L408.4 89.8 L408.7 87.4 L409.1 84.4 L409.5 81.2 L409.8 77.7 L410.2 74.1 L410.6 70.5 L410.9 67.1 L411.3 63.9 L411.7 60.8 L412.0 58.0 L412.4 55.4 L412.8 53.0 L413.1 50.8 L413.5 48.8 L413.9 47.0 L414.2 45.3 L414.6 43.8 L415.0 42.4 L415.3 41.2 L415.7 40.0 L416.1 39.0 L416.4 38.0 L416.8 37.2 L417.2 36.3 L417.5 35.6 L417.9 34.9 L418.3 34.3 L418.6 33.7 L419.0 33.2 L419.4 32.7 L419.7 32.2 L420.1 31.8 L420.5 31.4 L420.8 31.0 L421.2 30.7 L421.6 30.3 L421.9 30.0 L422.3 29.8 L422.7 29.5 L423.0 29.2 L423.4 29.0 L423.8 28.8 L424.1 28.6 L424.5 28.4 L424.9 28.2 L425.2 28.0 L425.6 27.8 L426.0 27.7 L426.3 27.5 L426.7 27.4 L427.1 27.2 L427.4 27.1 L427.8 27.0 L428.2 26.9 L428.5 26.7 L428.9 26.6 L429.3 26.5 L429.6 26.4 L430.0 26.3 L430.4 26.2 L430.7 26.2 L431.1 26.1 L431.5 26.0 L431.8 25.9 L432.2 25.8 L432.6 25.8 L432.9 25.7 L433.3 25.6 L433.7 25.6 L434.0 25.5 L434.4 25.4 L434.8 25.4 L435.1 25.3 L435.5 25.3 L435.9 25.2 L436.2 25.2 L436.6 25.1 L437.0 25.1 L437.3 25.0 L437.7 25.0 L438.1 25.0 L438.4 24.9 L438.8 24.9 L439.2 24.8 L439.5 24.8 L439.9 24.8 L440.3 24.7 L440.6 24.7 L441.0 24.7 L441.4 24.6 L441.7 24.6 L442.1 24.6 L442.5 24.6 L442.8 24.5 L443.2 24.5 L443.6 24.5 L443.9 24.4 L444.3 24.4 L444.7 24.4 L445.0 24.4 L445.4 24.3 L445.8 24.3 L446.1 24.3 L446.5 24.3 L446.9 24.3 L447.2 24.2 L447.6 24.2 L448.0 24.2 L448.3 24.2 L448.7 24.2 L449.1 24.1 L449.4 24.1 L449.8 24.1 L450.2 24.1 L450.5 24.1 L450.9 24.1 L451.3 24.0 L451.6 24.0 L452.0 24.0 L452.4 24.0 L452.7 24.0 L453.1 24.0 L453.5 24.0 L453.8 23.9 L454.2 23.9 L454.6 23.9 L454.9 23.9 L455.3 23.9 L455.7 23.9 L456.0 23.9 L456.4 23.9 L456.8 23.8 L457.1 23.8 L457.5 23.8 L457.9 23.8 L458.2 23.8 L458.6 23.8 L459.0 23.8 L459.3 23.8 L459.7 23.8 L460.1 23.8 L460.4 23.7 L460.8 23.7 L461.2 23.7 L461.5 23.7 L461.9 23.7 L462.3 23.7 L462.6 23.7 L463.0 23.7 L463.4 23.7 L463.7 23.7 L464.1 23.7 L464.5 23.7 L464.8 23.6 L465.2 23.6 L465.6 23.6 L465.9 23.6 L466.3 23.6 L466.7 23.6 L467.0 23.6 L467.4 23.6 L467.8 23.6 L468.1 23.6 L468.5 23.6 L468.9 23.6 L469.2 23.6 L469.6 23.6 L470.0 23.6 L470.3 23.6 L470.7 23.5 L471.1 23.5 L471.4 23.5 L471.8 23.5 L472.2 23.5 L472.5 23.5 L472.9 23.5 L473.3 23.5 L473.6 23.5 L474.0 23.5 L474.4 23.5 L474.7 23.5 L475.1 23.5 L475.5 23.5 L475.8 23.5 L476.2 23.5 L476.6 23.5 L476.9 23.5 L477.3 23.5 L477.7 23.5 L478.0 23.4 L478.4 23.4 L478.8 23.4 L479.1 23.4 L479.5 23.4 L479.9 23.4 L480.2 23.4 L480.6 23.4" fill="none" stroke="#80ffff" stroke-width="1"/>
<path d="M297.5 23.3h0M298.0 23.3h0M298.5 23.3h0M299.0 23.3h0M299.4 23.3h0M299.9 23.3h0M300.4 23.3h0M300.9 23.3h0M301.4 23.3h0M301.8 23.3h0M302.3 23.3h0M302.8 23.3h0M303.3 23.3h0M303.7 23.3h0M304.2 23.3h0M304.7 23.4h0M305.2 23.4h0M305.7 23.4h0M306.1 23.4h0M306.6 23.4h0M307.1 23.4h0M307.6 23.4h0M308.0 23.4h0M308.5 23.4h0M309.0 23.4h0M309.5 23.4h0M309.9 23.4h0M310.4 23.4h0M310.9 23.4h0M311.4 23.4h0M311.9 23.4h0M312.3 23.4h0M312.8 23.4h0M313.3 23.4h0M313.8 23.4h0M314.2 23.4h0M314.7 23.4h0M315.2 23.5h0M315.7 23.5h0M316.2 23.5h0M316.6 23.5h0M317.1 23.5h0M317.6 23.5h0M318.1 23.5h0M318.5 23.5h0M319.0 23.5h0M319.5 23.5h0M320.0 23.5h0M320.5 23.5h0M320.9 23.5h0M321.4 23.5h0M321.9 23.5h0M322.4 23.6h0M322.8 23.6h0M323.3 23.6h0M323.8 23.6h0M324.3 23.6h0M324.7 23.6h0M325.2 23.6h0M325.7 23.6h0M326.2 23.6h0M326.7 23.6h0M327.1 23.6h0M327.6 23.6h0M328.1 23.7h0M328.6 23.7h0M329.0 23.7h0M329.5 23.7h0M330.0 23.7h0M330.5 23.7h0M331.0 23.7h0M331.4 23.7h0M331.9 23.7h0M332.4 23.8h0M332.9 23.8h0M333.3 23.8h0M333.8 23.8h0M334.3 23.8h0M334.8 23.8h0M335.2 23.8h0M335.7 23.8h0M336.2 23.9h0M336.7 23.9h0M337.2 23.9h0M337.6 23.9h0M338.1 23.9h0M338.6 23.9h0M339.1 24.0h0M339.5 24.0h0M340.0 24.0h0M340.5 24.0h0M341.0 24.0h0M341.5 24.0h0M341.9 24.1h0M342.4 24.1h0M342.9 24.1h0M343.4 24.1h0M343.8 24.2h0M344.3 24.2h0M344.8 24.2h0M345.3 24.2h0M345.8 24.3h0M346.2 24.3h0M346.7 24.3h0M347.2 24.3h0M347.7 24.4h0M348.1 24.4h0M348.6 24.4h0M349.1 24.5h0M349.6 24.5h0M350.0 24.5h0M350.5 24.6h0M351.0 24.6h0M351.5 24.6h0M352.0 24.7h0M352.4 24.7h0M352.9 24.8h0M353.4 24.8h0M353.9 24.9h0M354.3 24.9h0M354.8 25.0h0M355.3 25.0h0M355.8 25.1h0M356.3 25.1h0M356.7 25.2h0M357.2 25.3h0M357.7 25.3h0M358.2 25.4h0M358.6 25.5h0M359.1 25.6h0M359.6 25.6h0M360.1 25.7h0M360.5 25.8h0M361.0 25.9h0M361.5 26.0h0M362.0 26.1h0M362.5 26.2h0M362.9 26.3h0M363.4 26.5h0M363.9 26.6h0M364.4 26.7h0M364.8 26.9h0M365.3 27.0h0M365.8 27.2h0M366.3 27.4h0M366.8 27.6h0M367.2 27.8h0M367.7 28.0h0M368.2 28.2h0M368.7 28.5h0M369.1 28.7h0M369.6 29.0h0M370.1 29.3h0M370.6 29.7h0M371.0 30.0h0M371.5 30.4h0M372.0 30.9h0M372.5 31.3h0M373.0 31.8h0M373.4 32.4h0M373.9 33.0h0M374.4 33.7h0M374.9 34.4h0M375.3 35.2h0M375.8 36.1h0M376.3 37.2h0M376.8 38.3h0M377.3 39.6h0M377.7 41.0h0M378.2 42.6h0M378.7 44.4h0M379.2 46.4h0M379.6 48.7h0M380.1 51.3h0M380.6 54.2h0M381.1 57.5h0M381.6 61.2h0M382.0 65.3h0M382.5 69.8h0M383.0 74.6h0M383.5 79.7h0M383.9 84.7h0M384.4 89.5h0M384.9 93.6h0M385.4 96.6h0M385.8 98.3h0M386.3 98.4h0M386.8 96.9h0M387.3 94.1h0M387.8 90.2h0M388.2 85.7h0M388.7 80.9h0M389.2 76.2h0M389.7 71.6h0M390.1 67.4h0M390.6 63.6h0M391.1 60.3h0M391.6 57.3h0M392.1 54.7h0M392.5 52.5h0M393.0 50.6h0M393.5 49.0h0M394.0 47.7h0M394.4 46.6h0M394.9 45.7h0M395.4 45.0h0M395.9 44.5h0M396.3 44.2h0M396.8 44.1h0M397.3 44.1h0M397.8 44.3h0M398.3 44.7h0M398.7 45.3h0M399.2 46.0h0M399.7 47.0h0M400.2 48.2h0M400.6 49.6h0M401.1 51.4h0M401.6 53.4h0M402.1 55.8h0M402.6 58.5h0M403.0 61.6h0M403.5 65.2h0M404.0 69.0h0M404.5 73.2h0M404.9 77.6h0M405.4 81.9h0M405.9 85.9h0M406.4 89.2h0M406.9 91.5h0M407.3 92.6h0M407.8 92.2h0M408.3 90.3h0M408.8 87.3h0M409.2 83.4h0M409.7 78.9h0M410.2 74.3h0M410.7 69.7h0M411.1 65.3h0M411.6 61.3h0M412.1 57.6h0M412.6 54.3h0M413.1 51.3h0M413.5 48.7h0M414.0 46.3h0M414.5 44.3h0M415.0 42.5h0M415.4 40.9h0M415.9 39.4h0M416.4 38.1h0M416.9 37.0h0M417.4 36.0h0M417.8 35.1h0M418.3 34.3h0M418.8 33.5h0M419.3 32.8h0M419.7 32.2h0M420.2 31.7h0M420.7 31.2h0M421.2 30.7h0M421.6 30.3h0M422.1 29.9h0M422.6 29.5h0M423.1 29.2h0M423.6 28.9h0M424.0 28.6h0M424.5 28.4h0M425.0 28.1h0M425.5 27.9h0M425.9 27.7h0M426.4 27.5h0M426.9 27.3h0M427.4 27.1h0M427.9 27.0h0M428.3 26.8h0M428.8 26.7h0M429.3 26.5h0M429.8 26.4h0M430.2 26.3h0M430.7 26.2h0M431.2 26.1h0M431.7 25.9h0M432.1 25.8h0M432.6 25.8h0M433.1 25.7h0M433.6 25.6h0M434.1 25.5h0M434.5 25.4h0M435.0 25.4h0M435.5 25.3h0M436.0 25.2h0M436.4 25.2h0M436.9 25.1h0M437.4 25.0h0M437.9 25.0h0M438.4 24.9h0M438.8 24.9h0M439.3 24.8h0M439.8 24.8h0M440.3 24.7h0M440.7 24.7h0M441.2 24.7h0M441.7 24.6h0M442.2 24.6h0M442.7 24.5h0M443.1 24.5h0M443.6 24.5h0M444.1 24.4h0M444.6 24.4h0M445.0 24.4h0M445.5 24.3h0M446.0 24.3h0M446.5 24.3h0M446.9 24.3h0M447.4 24.2h0M447.9 24.2h0M448.4 24.2h0M448.9 24.2h0M449.3 24.1h0M449.8 24.1h0M450.3 24.1h0M450.8 24.1h0M451.2 24.0h0M451.7 24.0h0M452.2 24.0h0M452.7 24.0h0M453.2 24.0h0M453.6 24.0h0M454.1 23.9h0M454.6 23.9h0M455.1 23.9h0M455.5 23.9h0M456.0 23.9h0M456.5 23.9h0M457.0 23.8h0M457.4 23.8h0M457.9 23.8h0M458.4 23.8h0M458.9 23.8h0M459.4 23.8h0M459.8 23.8h0M460.3 23.8h0M460.8 23.7h0M461.3 23.7h0M461.7 23.7h0M462.2 23.7h0M462.7 23.7h0M463.2 23.7h0M463.7 23.7h0M464.1 23.7h0M464.6 23.7h0M465.1 23.6h0M465.6 23.6h0M466.0 23.6h0M466.5 23.6h0M467.0 23.6h0M467.5 23.6h0M468.0 23.6h0M468.4 23.6h0M468.9 23.6h0M469.4 23.6h0M469.9 23.6h0M470.3 23.6h0M470.8 23.5h0M471.3 23.5h0M471.8 23.5h0M472.2 23.5h0M472.7 23.5h0M473.2 23.5h0M473.7 23.5h0M474.2 23.5h0M474.6 23.5h0M475.1 23.5h0M475.6 23.5h0M476.1 23.5h0M476.5 23.5h0M477.0 23.5h0M477.5 23.5h0M478.0 23.4h0M478.5 23.4h0M478.9 23.4h0M479.4 23.4h0M479.9 23.4h0M480.4 23.4h0" stroke="#00e0e0" stroke-width="2.0" stroke-linecap="round" fill="none"/>
<path d="M297.3 23.1 L297.7 23.1 L298.0 23.1 L298.4 23.1 L298.8 23.1 L299.1 23.1 L299.5 23.1 L299.9 23.1 L300.2 23.1 L300.6 23.1 L301.0 23.1 L301.3 23.1 L301.7 23.1 L302.1 23.1 L302.4 23.1 L302.8 23.1 L303.2 23.1 L303.5 23.1 L303.9 23.1 L304.3 23.1 L304.6 23.1 L305.0 23.1 L305.4 23.1 L305.7 23.1 L306.1 23.1 L306.5 23.1 L306.8 23.1 L307.2 23.1 L307.6 23.1 L307.9 23.1 L308.3 23.1 L308.7 23.1 L309.0 23.1 L309.4 23.1 L309.8 23.1 L310.1 23.1 L310.5 23.1 L310.9 23.1 L311.2 23.1 L311.6 23.1 L312.0 23.1 L312.3 23.1 L312.7 23.2 L313.1 23.2 L313.4 23.2 L313.8 23.2 L314.2 23.2 L314.5 23.2 L314.9 23.2 L315.3 23.2 L315.6 23.2 L316.0 23.2 L316.4 23.2 L316.7 23.2 L317.1 23.2 L317.5 23.2 L317.8 23.2 L318.2 23.2 L318.6 23.2 L318.9 23.2 L319.3 23.2 L319.7 23.2 L320.0 23.2 L320.4 23.2 L320.8 23.2 L321.1 23.2 L321.5 23.2 L321.9 23.2 L322.2 23.2 L322.6 23.2 L323.0 23.2 L323.3 23.2 L323.7 23.2 L324.1 23.2 L324.4 23.2 L324.8 23.2 L325.2 23.2 L325.5 23.2 L325.9 23.2 L326.3 23.2 L326.6 23.2 L327.0 23.2 L327.4 23.2 L327.7 23.2 L328.1 23.2 L328.5 23.2 L328.8 23.2 L329.2 23.2 L329.6 23.2 L329.9 23.2 L330.3 23.2 L330.7 23.2 L331.0 23.3 L331.4 23.3 L331.8 23.3 L332.1 23.3 L332.5 23.3 L332.9 23.3 L333.2 23.3 L333.6 23.3 L334.0 23.3 L334.3 23.3 L334.7 23.3 L335.1 23.3 L335.4 23.3 L335.8 23.3 L336.2 23.3 L336.5 23.3 L336.9 23.3 L337.3 23.3 L337.6 23.3 L338.0 23.3 L338.4 23.3 L338.7 23.3 L339.1 23.3 L339.5 23.3 L339.8 23.3 L340.2 23.3 L340.6 23.3 L340.9 23.4 L341.3 23.4 L341.7 23.4 L342.0 23.4 L342.4 23.4 L342.8 23.4 L343.1 23.4 L343.5 23.4 L343.9 23.4 L344.2 23.4 L344.6 23.4 L345.0 23.4 L345.3 23.4 L345.7 23.4 L346.1 23.4 L346.4 23.4 L346.8 23.4 L347.2 23.5 L347.5 23.5 L347.9 23.5 L348.3 23.5 L348.6 23.5 L349.0 23.5 L349.4 23.5 L349.7 23.5 L350.1 23.5 L350.5 23.5 L350.8 23.5 L351.2 23.5 L351.6 23.6 L351.9 23.6 L352.3 23.6 L352.7 23.6 L353.0 23.6 L353.4 23.6 L353.8 23.6 L354.1 23.6 L354.5 23.6 L354.9 23.7 L355.2 23.7 L355.6 23.7 L356.0 23.7 L356.3 23.7 L356.7 23.7 L357.1 23.7 L357.4 23.8 L357.8 23.8 L358.2 23.8 L358.5 23.8 L358.9 23.8 L359.3 23.8 L359.6 23.9 L360.0 23.9 L360.4 23.9 L360.7 23.9 L361.1 23.9 L361.5 24.0 L361.8 24.0 L362.2 24.0 L362.6 24.0 L362.9 24.1 L363.3 24.1 L363.7 24.1 L364.0 24.1 L364.4 24.2 L364.8 24.2 L365.1 24.2 L365.5 24.3 L365.9 24.3 L366.2 24.3 L366.6 24.4 L367.0 24.4 L367.3 24.4 L367.7 24.5 L368.1 24.5 L368.4 24.6 L368.8 24.6 L369.2 24.7 L369.5 24.7 L369.9 24.8 L370.3 24.8 L370.6 24.9 L371.0 25.0 L371.4 25.0 L371.7 25.1 L372.1 25.2 L372.5 25.3 L372.8 25.3 L373.2 25.4 L373.6 25.5 L373.9 25.6 L374.3 25.7 L374.7 25.8 L375.0 26.0 L375.4 26.1 L375.8 26.2 L376.1 26.4 L376.5 26.5 L376.9 26.7 L377.2 26.9 L377.6 27.1 L378.0 27.3 L378.3 27.5 L378.7 27.7 L379.1 28.0 L379.4 28.3 L379.8 28.6 L380.2 28.9 L380.5 29.3 L380.9 29.7 L381.3 30.1 L381.6 30.6 L382.0 31.1 L382.4 31.7 L382.7 32.4 L383.1 33.1 L383.5 34.0 L383.8 34.9 L384.2 36.0 L384.6 37.2 L384.9 38.5 L385.3 40.0 L385.7 41.8 L386.0 43.7 L386.4 46.0 L386.8 48.6 L387.1 51.4 L387.5 54.7 L387.9 58.2 L388.2 62.0 L388.6 65.8 L389.0 69.7 L389.3 73.1 L389.7 75.8 L390.0 77.6 L390.4 78.2 L390.8 77.7 L391.1 76.2 L391.5 74.1 L391.9 71.6 L392.2 69.0 L392.6 66.7 L393.0 64.8 L393.3 63.3 L393.7 62.4 L394.1 62.0 L394.4 62.3 L394.8 63.0 L395.2 64.3 L395.5 66.1 L395.9 68.4 L396.3 70.8 L396.6 73.4 L397.0 75.7 L397.4 77.4 L397.7 78.2 L398.1 77.9 L398.5 76.4 L398.8 73.9 L399.2 70.7 L399.6 66.9 L399.9 63.0 L400.3 59.2 L400.7 55.6 L401.0 52.3 L401.4 49.3 L401.8 46.7 L402.1 44.3 L402.5 42.3 L402.9 40.5 L403.2 38.9 L403.6 37.5 L404.0 36.3 L404.3 35.2 L404.7 34.2 L405.1 33.4 L405.4 32.6 L405.8 31.9 L406.2 31.3 L406.5 30.8 L406.9 30.2 L407.3 29.8 L407.6 29.4 L408.0 29.0 L408.4 28.7 L408.7 28.3 L409.1 28.1 L409.5 27.8 L409.8 27.5 L410.2 27.3 L410.6 27.1 L410.9 26.9 L411.3 26.7 L411.7 26.6 L412.0 26.4 L412.4 26.3 L412.8 26.1 L413.1 26.0 L413.5 25.9 L413.9 25.8 L414.2 25.7 L414.6 25.6 L415.0 25.5 L415.3 25.4 L415.7 25.3 L416.1 25.2 L416.4 25.1 L416.8 25.1 L417.2 25.0 L417.5 24.9 L417.9 24.9 L418.3 24.8 L418.6 24.7 L419.0 24.7 L419.4 24.6 L419.7 24.6 L420.1 24.5 L420.5 24.5 L420.8 24.5 L421.2 24.4 L421.6 24.4 L421.9 24.3 L422.3 24.3 L422.7 24.3 L423.0 24.2 L423.4 24.2 L423.8 24.2 L424.1 24.1 L424.5 24.1 L424.9 24.1 L425.2 24.1 L425.6 24.0 L426.0 24.0 L426.3 24.0 L426.7 24.0 L427.1 23.9 L427.4 23.9 L427.8 23.9 L428.2 23.9 L428.5 23.9 L428.9 23.8 L429.3 23.8 L429.6 23.8 L430.0 23.8 L430.4 23.8 L430.7 23.8 L431.1 23.7 L431.5 23.7 L431.8 23.7 L432.2 23.7 L432.6 23.7 L432.9 23.7 L433.3 23.7 L433.7 23.6 L434.0 23.6 L434.4 23.6 L434.8 23.6 L435.1 23.6 L435.5 23.6 L435.9 23.6 L436.2 23.6 L436.6 23.6 L437.0 23.5 L437.3 23.5 L437.7 23.5 L438.1 23.5 L438.4 23.5 L438.8 23.5 L439.2 23.5 L439.5 23.5 L439.9 23.5 L440.3 23.5 L440.6 23.5 L441.0 23.5 L441.4 23.5 L441.7 23.4 L442.1 23.4 L442.5 23.4 L442.8 23.4 L443.2 23.4 L443.6 23.4 L443.9 23.4 L444.3 23.4 L444.7 23.4 L445.0 23.4 L445.4 23.4 L445.8 23.4 L446.1 23.4 L446.5 23.4 L446.9 23.4 L447.2 23.4 L447.6 23.4 L448.0 23.3 L448.3 23.3 L448.7 23.3 L449.1 23.3 L449.4 23.3 L449.8 23.3 L450.2 23.3 L450.5 23.3 L450.9 23.3 L451.3 23.3 L451.6 23.3 L452.0 23.3 L452.4 23.3 L452.7 23.3 L453.1 23.3 L453.5 23.3 L453.8 23.3 L454.2 23.3 L454.6 23.3 L454.9 23.3 L455.3 23.3 L455.7 23.3 L456.0 23.3 L456.4 23.3 L456.8 23.3 L457.1 23.3 L457.5 23.2 L457.9 23.2 L458.2 23.2 L458.6 23.2 L459.0 23.2 L459.3 23.2 L459.7 23.2 L460.1 23.2 L460.4 23.2 L460.8 23.2 L461.2 23.2 L461.5 23.2 L461.9 23.2 L462.3 23.2 L462.6 23.2 L463.0 23.2 L463.4 23.2 L463.7 23.2 L464.1 23.2 L464.5 23.2 L464.8 23.2 L465.2 23.2 L465.6 23.2 L465.9 23.2 L466.3 23.2 L466.7 23.2 L467.0 23.2 L467.4 23.2 L467.8 23.2 L468.1 23.2 L468.5 23.2 L468.9 23.2 L469.2 23.2 L469.6 23.2 L470.0 23.2 L470.3 23.2 L470.7 23.2 L471.1 23.2 L471.4 23.2 L471.8 23.2 L472.2 23.2 L472.5 23.2 L472.9 23.2 L473.3 23.2 L473.6 23.2 L474.0 23.2 L474.4 23.2 L474.7 23.2 L475.1 23.2 L475.5 23.2 L475.8 23.1 L476.2 23.1 L476.6 23.1 L476.9 23.1 L477.3 23.1 L477.7 23.1 L478.0 23.1 L478.4 23.1 L478.8 23.1 L479.1 23.1 L479.5 23.1 L479.9 23.1 L480.2 23.1 L480.6 23.1" fill="none" stroke="#ff90ff" stroke-width="1"/>
<path d="M297.5 23.1h0M298.0 23.1h0M298.5 23.1h0M299.0 23.1h0M299.4 23.1h0M299.9 23.1h0M300.4 23.1h0M300.9 23.1h0M301.4 23.1h0M301.8 23.1h0M302.3 23.1h0M302.8 23.1h0M303.3 23.1h0M303.7 23.1h0M304.2 23.1h0M304.7 23.1h0M305.2 23.1h0M305.7 23.1h0M306.1 23.1h0M306.6 23.1h0M307.1 23.1h0M307.6 23.1h0M308.0 23.1h0M308.5 23.1h0M309.0 23.1h0M309.5 23.1h0M309.9 23.1h0M310.4 23.1h0M310.9 23.1h0M311.4 23.1h0M311.9 23.1h0M312.3 23.1h0M312.8 23.2h0M313.3 23.2h0M313.8 23.2h0M314.2 23.2h0M314.7 23.2h0M315.2 23.2h0M315.7 23.2h0M316.2 23.2h0M316.6 23.2h0M317.1 23.2h0M317.6 23.2h0M318.1 23.2h0M318.5 23.2h0M319.0 23.2h0M319.5 23.2h0M320.0 23.2h0M320.5 23.2h0M320.9 23.2h0M321.4 23.2h0M321.9 23.2h0M322.4 23.2h0M322.8 23.2h0M323.3 23.2h0M323.8 23.2h0M324.3 23.2h0M324.7 23.2h0M325.2 23.2h0M325.7 23.2h0M326.2 23.2h0M326.7 23.2h0M327.1 23.2h0M327.6 23.2h0M328.1 23.2h0M328.6 23.2h0M329.0 23.2h0M329.5 23.2h0M330.0 23.2h0M330.5 23.2h0M331.0 23.3h0M331.4 23.3h0M331.9 23.3h0M332.4 23.3h0M332.9 23.3h0M333.3 23.3h0M333.8 23.3h0M334.3 23.3h0M334.8 23.3h0M335.2 23.3h0M335.7 23.3h0M336.2 23.3h0M336.7 23.3h0M337.2 23.3h0M337.6 23.3h0M338.1 23.3h0M338.6 23.3h0M339.1 23.3h0M339.5 23.3h0M340.0 23.3h0M340.5 23.3h0M341.0 23.4h0M341.5 23.4h0M341.9 23.4h0M342.4 23.4h0M342.9 23.4h0M343.4 23.4h0M343.8 23.4h0M344.3 23.4h0M344.8 23.4h0M345.3 23.4h0M345.8 23.4h0M346.2 23.4h0M346.7 23.4h0M347.2 23.5h0M347.7 23.5h0M348.1 23.5h0M348.6 23.5h0M349.1 23.5h0M349.6 23.5h0M350.0 23.5h0M350.5 23.5h0M351.0 23.5h0M351.5 23.6h0M352.0 23.6h0M352.4 23.6h0M352.9 23.6h0M353.4 23.6h0M353.9 23.6h0M354.3 23.6h0M354.8 23.7h0M355.3 23.7h0M355.8 23.7h0M356.3 23.7h0M356.7 23.7h0M357.2 23.7h0M357.7 23.8h0M358.2 23.8h0M358.6 23.8h0M359.1 23.8h0M359.6 23.9h0M360.1 23.9h0M360.5 23.9h0M361.0 23.9h0M361.5 24.0h0M362.0 24.0h0M362.5 24.0h0M362.9 24.1h0M363.4 24.1h0M363.9 24.1h0M364.4 24.2h0M364.8 24.2h0M365.3 24.2h0M365.8 24.3h0M366.3 24.3h0M366.8 24.4h0M367.2 24.4h0M367.7 24.5h0M368.2 24.5h0M368.7 24.6h0M369.1 24.7h0M369.6 24.7h0M370.1 24.8h0M370.6 24.9h0M371.0 25.0h0M371.5 25.1h0M372.0 25.2h0M372.5 25.3h0M373.0 25.4h0M373.4 25.5h0M373.9 25.6h0M374.4 25.8h0M374.9 25.9h0M375.3 26.1h0M375.8 26.2h0M376.3 26.4h0M376.8 26.7h0M377.3 26.9h0M377.7 27.1h0M378.2 27.4h0M378.7 27.7h0M379.2 28.1h0M379.6 28.5h0M380.1 28.9h0M380.6 29.4h0M381.1 29.9h0M381.6 30.5h0M382.0 31.2h0M382.5 32.0h0M383.0 32.9h0M383.5 34.0h0M383.9 35.2h0M384.4 36.7h0M384.9 38.4h0M385.4 40.4h0M385.8 42.8h0M386.3 45.6h0M386.8 48.9h0M387.3 52.8h0M387.8 57.3h0M388.2 62.1h0M388.7 67.2h0M389.2 72.0h0M389.7 75.7h0M390.1 77.9h0M390.6 78.1h0M391.1 76.5h0M391.6 73.7h0M392.1 70.4h0M392.5 67.2h0M393.0 64.7h0M393.5 62.9h0M394.0 62.1h0M394.4 62.2h0M394.9 63.3h0M395.4 65.3h0M395.9 68.1h0M396.3 71.3h0M396.8 74.5h0M397.3 77.1h0M397.8 78.2h0M398.3 77.5h0M398.7 74.8h0M399.2 70.7h0M399.7 65.8h0M400.2 60.7h0M400.6 55.9h0M401.1 51.7h0M401.6 47.9h0M402.1 44.8h0M402.6 42.1h0M403.0 39.8h0M403.5 37.9h0M404.0 36.3h0M404.5 34.9h0M404.9 33.7h0M405.4 32.7h0M405.9 31.8h0M406.4 31.0h0M406.9 30.3h0M407.3 29.7h0M407.8 29.2h0M408.3 28.8h0M408.8 28.3h0M409.2 28.0h0M409.7 27.6h0M410.2 27.3h0M410.7 27.1h0M411.1 26.8h0M411.6 26.6h0M412.1 26.4h0M412.6 26.2h0M413.1 26.0h0M413.5 25.9h0M414.0 25.7h0M414.5 25.6h0M415.0 25.5h0M415.4 25.3h0M415.9 25.2h0M416.4 25.1h0M416.9 25.0h0M417.4 25.0h0M417.8 24.9h0M418.3 24.8h0M418.8 24.7h0M419.3 24.7h0M419.7 24.6h0M420.2 24.5h0M420.7 24.5h0M421.2 24.4h0M421.6 24.4h0M422.1 24.3h0M422.6 24.3h0M423.1 24.2h0M423.6 24.2h0M424.0 24.1h0M424.5 24.1h0M425.0 24.1h0M425.5 24.0h0M425.9 24.0h0M426.4 24.0h0M426.9 24.0h0M427.4 23.9h0M427.9 23.9h0M428.3 23.9h0M428.8 23.8h0M429.3 23.8h0M429.8 23.8h0M430.2 23.8h0M430.7 23.8h0M431.2 23.7h0M431.7 23.7h0M432.1 23.7h0M432.6 23.7h0M433.1 23.7h0M433.6 23.7h0M434.1 23.6h0M434.5 23.6h0M435.0 23.6h0M435.5 23.6h0M436.0 23.6h0M436.4 23.6h0M436.9 23.6h0M437.4 23.5h0M437.9 23.5h0M438.4 23.5h0M438.8 23.5h0M439.3 23.5h0M439.8 23.5h0M440.3 23.5h0M440.7 23.5h0M441.2 23.5h0M441.7 23.4h0M442.2 23.4h0M442.7 23.4h0M443.1 23.4h0M443.6 23.4h0M444.1 23.4h0M444.6 23.4h0M445.0 23.4h0M445.5 23.4h0M446.0 23.4h0M446.5 23.4h0M446.9 23.4h0M447.4 23.4h0M447.9 23.3h0M448.4 23.3h0M448.9 23.3h0M449.3 23.3h0M449.8 23.3h0M450.3 23.3h0M450.8 23.3h0M451.2 23.3h0M451.7 23.3h0M452.2 23.3h0M452.7 23.3h0M453.2 23.3h0M453.6 23.3h0M454.1 23.3h0M454.6 23.3h0M455.1 23.3h0M455.5 23.3h0M456.0 23.3h0M456.5 23.3h0M457.0 23.3h0M457.4 23.2h0M457.9 23.2h0M458.4 23.2h0M458.9 23.2h0M459.4 23.2h0M459.8 23.2h0M460.3 23.2h0M460.8 23.2h0M461.3 23.2h0M461.7 23.2h0M462.2 23.2h0M462.7 23.2h0M463.2 23.2h0M463.7 23.2h0M464.1 23.2h0M464.6 23.2h0M465.1 23.2h0M465.6 23.2h0M466.0 23.2h0M466.5 23.2h0M467.0 23.2h0M467.5 23.2h0M468.0 23.2h0M468.4 23.2h0M468.9 23.2h0M469.4 23.2h0M469.9 23.2h0M470.3 23.2h0M470.8 23.2h0M471.3 23.2h0M471.8 23.2h0M472.2 23.2h0M472.7 23.2h0M473.2 23.2h0M473.7 23.2h0M474.2 23.2h0M474.6 23.2h0M475.1 23.2h0M475.6 23.1h0M476.1 23.1h0M476.5 23.1h0M477.0 23.1h0M477.5 23.1h0M478.0 23.1h0M478.5 23.1h0M478.9 23.1h0M479.4 23.1h0M479.9 23.1h0M480.4 23.1h0" stroke="#ff00ff" stroke-width="2.0" stroke-linecap="round" fill="none"/>
</g>
<rect x="297.3" y="4.4" width="183.3" height="155" fill="none" stroke="#959595" stroke-width="1.5"/>
<path d="M297.3 159.4V157.2M297.3 4.4V6.6M306.47 159.4V158.1M306.47 4.4V5.7M315.63 159.4V157.2M315.63 4.4V6.6M324.8 159.4V158.1M324.8 4.4V5.7M333.96 159.4V157.2M333.96 4.4V6.6M343.12 159.4V158.1M343.12 4.4V5.7M352.29 159.4V157.2M352.29 4.4V6.6M361.46 159.4V158.1M361.46 4.4V5.7M370.62 159.4V157.2M370.62 4.4V6.6M379.79 159.4V158.1M379.79 4.4V5.7M388.95 159.4V157.2M388.95 4.4V6.6M398.12 159.4V158.1M398.12 4.4V5.7M407.28 159.4V157.2M407.28 4.4V6.6M416.45 159.4V158.1M416.45 4.4V5.7M425.61 159.4V157.2M425.61 4.4V6.6M434.78 159.4V158.1M434.78 4.4V5.7M443.94 159.4V157.2M443.94 4.4V6.6M453.11 159.4V158.1M453.11 4.4V5.7M462.27 159.4V157.2M462.27 4.4V6.6M471.44 159.4V158.1M471.44 4.4V5.7M480.6 159.4V157.2M480.6 4.4V6.6" stroke="#707070" stroke-width="0.9" fill="none"/>
<text x="296.4" y="168" font-size="6.3" fill="#333" stroke="#333" stroke-width="0.15" text-anchor="middle">−10</text>
<text x="314.73" y="168" font-size="6.3" fill="#333" stroke="#333" stroke-width="0.15" text-anchor="middle">−8</text>
<text x="333.06" y="168" font-size="6.3" fill="#333" stroke="#333" stroke-width="0.15" text-anchor="middle">−6</text>
<text x="351.39" y="168" font-size="6.3" fill="#333" stroke="#333" stroke-width="0.15" text-anchor="middle">−4</text>
<text x="369.72" y="168" font-size="6.3" fill="#333" stroke="#333" stroke-width="0.15" text-anchor="middle">−2</text>
<text x="388.95" y="168" font-size="6.3" fill="#333" stroke="#333" stroke-width="0.15" text-anchor="middle">0</text>
<text x="407.28" y="168" font-size="6.3" fill="#333" stroke="#333" stroke-width="0.15" text-anchor="middle">2</text>
<text x="425.61" y="168" font-size="6.3" fill="#333" stroke="#333" stroke-width="0.15" text-anchor="middle">4</text>
<text x="443.94" y="168" font-size="6.3" fill="#333" stroke="#333" stroke-width="0.15" text-anchor="middle">6</text>
<text x="462.27" y="168" font-size="6.3" fill="#333" stroke="#333" stroke-width="0.15" text-anchor="middle">8</text>
<text x="480.6" y="168" font-size="6.3" fill="#333" stroke="#333" stroke-width="0.15" text-anchor="middle">10</text>
<text x="362.4" y="181" font-size="8.8" textLength="56.2" lengthAdjust="spacing" fill="#222" stroke="#222" stroke-width="0.18">Velocity (mm/s)</text>
<text transform="translate(292.5 143.4) rotate(-90)" font-size="8.8" textLength="118" lengthAdjust="spacing" fill="#222" stroke="#222" stroke-width="0.18">Relative transmission (arb. units)</text>
<text x="417.5" y="201.4" font-size="13.3" fill="#111" text-anchor="middle" style="font-family:'Liberation Serif',serif">(<tspan font-weight="bold" font-size="14.5">b</tspan>)</text>
<rect x="485.3" y="6" width="60.2" height="60.4" fill="#fff" stroke="#c8c8c8" stroke-width="1"/>
<path d="M546.1 7V67H486.3" stroke="#b0b0b0" stroke-width="1.2" fill="none"/>
<rect x="494.2" y="11.1" width="1.2" height="1.2" fill="#666"/>
<text x="506" y="14.3" font-size="8.6" letter-spacing="-0.45" fill="#222" stroke="#222" stroke-width="0.18">Experi data</text>
<path d="M486.2 21.55H503.4" stroke="#ffb8b8" stroke-width="1"/>
<text x="506" y="24.15" font-size="8.6" letter-spacing="-0.45" fill="#222" stroke="#222" stroke-width="0.18">Fitting</text>
<path d="M486.2 31.4H503.4" stroke="#90ff90" stroke-width="1.2"/>
<circle cx="494.8" cy="31.4" r="1.1" fill="#10d010"/>
<text x="506" y="34" font-size="8.6" letter-spacing="-0.45" fill="#222" stroke="#222" stroke-width="0.18">Sextet 1</text>
<path d="M486.2 41.25H503.4" stroke="#5050ff" stroke-width="1"/>
<circle cx="494.8" cy="41.25" r="1.1" fill="#0000c0"/>
<text x="506" y="43.85" font-size="8.6" letter-spacing="-0.45" fill="#222" stroke="#222" stroke-width="0.18">Sextet 2</text>
<path d="M486.2 51.1H503.4" stroke="#b0ffff" stroke-width="1"/>
<circle cx="494.8" cy="51.1" r="1.1" fill="#00d0d0"/>
<text x="506" y="53.7" font-size="8.6" letter-spacing="-0.45" fill="#222" stroke="#222" stroke-width="0.18">Doublet 1</text>
<path d="M486.2 60.95H503.4" stroke="#ffd0ff" stroke-width="1"/>
<circle cx="494.8" cy="60.95" r="1.1" fill="#f000f0"/>
<text x="506" y="63.55" font-size="8.6" letter-spacing="-0.45" fill="#222" stroke="#222" stroke-width="0.18">Doublet 2</text>
<defs><clipPath id="clipc"><rect x="16.2" y="211.4" width="183.9" height="147.6"/></clipPath></defs>
<g clip-path="url(#clipc)">
<path d="M16.2 225.0 L16.6 225.1 L16.9 225.1 L17.3 225.1 L17.7 225.1 L18.0 225.1 L18.4 225.1 L18.8 225.1 L19.1 225.1 L19.5 225.1 L19.9 225.1 L20.2 225.1 L20.6 225.2 L21.0 225.2 L21.3 225.2 L21.7 225.2 L22.1 225.2 L22.5 225.2 L22.8 225.2 L23.2 225.2 L23.6 225.3 L23.9 225.3 L24.3 225.3 L24.7 225.3 L25.0 225.3 L25.4 225.3 L25.8 225.4 L26.1 225.4 L26.5 225.4 L26.9 225.4 L27.2 225.4 L27.6 225.5 L28.0 225.5 L28.3 225.5 L28.7 225.6 L29.1 225.6 L29.4 225.6 L29.8 225.6 L30.2 225.7 L30.5 225.7 L30.9 225.7 L31.3 225.8 L31.6 225.8 L32.0 225.9 L32.4 225.9 L32.8 226.0 L33.1 226.0 L33.5 226.1 L33.9 226.1 L34.2 226.2 L34.6 226.3 L35.0 226.4 L35.3 226.4 L35.7 226.5 L36.1 226.6 L36.4 226.8 L36.8 226.9 L37.2 227.0 L37.5 227.2 L37.9 227.3 L38.3 227.5 L38.6 227.7 L39.0 228.0 L39.4 228.3 L39.7 228.6 L40.1 229.1 L40.5 229.5 L40.8 230.1 L41.2 230.8 L41.6 231.5 L41.9 232.1 L42.3 232.6 L42.7 232.8 L43.0 232.9 L43.4 232.8 L43.8 232.7 L44.2 232.7 L44.5 232.8 L44.9 232.9 L45.3 233.1 L45.6 233.3 L46.0 233.6 L46.4 233.8 L46.7 234.0 L47.1 234.1 L47.5 234.2 L47.8 234.2 L48.2 234.1 L48.6 233.9 L48.9 233.6 L49.3 233.3 L49.7 233.0 L50.0 232.6 L50.4 232.2 L50.8 231.8 L51.1 231.4 L51.5 231.0 L51.9 230.7 L52.2 230.3 L52.6 230.0 L53.0 229.7 L53.3 229.4 L53.7 229.2 L54.1 229.0 L54.5 228.7 L54.8 228.6 L55.2 228.4 L55.6 228.2 L55.9 228.1 L56.3 228.0 L56.7 227.9 L57.0 227.8 L57.4 227.7 L57.8 227.6 L58.1 227.5 L58.5 227.5 L58.9 227.4 L59.2 227.4 L59.6 227.3 L60.0 227.3 L60.3 227.3 L60.7 227.3 L61.1 227.3 L61.4 227.3 L61.8 227.3 L62.2 227.3 L62.5 227.3 L62.9 227.3 L63.3 227.4 L63.6 227.4 L64.0 227.5 L64.4 227.5 L64.7 227.6 L65.1 227.7 L65.5 227.8 L65.9 227.9 L66.2 228.0 L66.6 228.1 L67.0 228.3 L67.3 228.4 L67.7 228.6 L68.1 228.9 L68.4 229.2 L68.8 229.5 L69.2 229.9 L69.5 230.3 L69.9 230.9 L70.3 231.5 L70.6 232.1 L71.0 232.7 L71.4 233.2 L71.7 233.5 L72.1 233.6 L72.5 233.6 L72.8 233.6 L73.2 233.6 L73.6 233.7 L73.9 233.8 L74.3 234.0 L74.7 234.1 L75.0 234.1 L75.4 234.1 L75.8 234.1 L76.2 233.9 L76.5 233.7 L76.9 233.5 L77.3 233.2 L77.6 232.9 L78.0 232.5 L78.4 232.2 L78.7 231.8 L79.1 231.5 L79.5 231.2 L79.8 231.0 L80.2 230.7 L80.6 230.5 L80.9 230.3 L81.3 230.1 L81.7 230.0 L82.0 229.9 L82.4 229.8 L82.8 229.7 L83.1 229.6 L83.5 229.6 L83.9 229.5 L84.2 229.5 L84.6 229.5 L85.0 229.5 L85.3 229.5 L85.7 229.6 L86.1 229.6 L86.4 229.7 L86.8 229.7 L87.2 229.8 L87.6 229.9 L87.9 230.0 L88.3 230.1 L88.7 230.2 L89.0 230.4 L89.4 230.5 L89.8 230.7 L90.1 230.8 L90.5 231.0 L90.9 231.2 L91.2 231.5 L91.6 231.7 L92.0 232.0 L92.3 232.3 L92.7 232.6 L93.1 232.9 L93.4 233.3 L93.8 233.6 L94.2 234.1 L94.5 234.5 L94.9 235.0 L95.3 235.6 L95.6 236.2 L96.0 236.9 L96.4 237.6 L96.7 238.4 L97.1 239.3 L97.5 240.4 L97.9 241.5 L98.2 242.8 L98.6 244.2 L99.0 245.8 L99.3 247.7 L99.7 249.7 L100.1 251.9 L100.4 254.4 L100.8 257.1 L101.2 260.2 L101.5 263.8 L101.9 267.9 L102.3 272.6 L102.6 277.9 L103.0 283.8 L103.4 290.5 L103.7 297.7 L104.1 305.3 L104.5 313.0 L104.8 320.4 L105.2 327.0 L105.6 332.3 L105.9 336.3 L106.3 339.0 L106.7 340.8 L107.0 341.8 L107.4 342.0 L107.8 341.3 L108.2 339.3 L108.5 335.9 L108.9 331.2 L109.3 325.4 L109.6 319.1 L110.0 312.7 L110.4 306.8 L110.7 301.5 L111.1 297.1 L111.5 293.7 L111.8 291.3 L112.2 289.8 L112.6 289.3 L112.9 289.8 L113.3 291.2 L113.7 293.5 L114.0 296.6 L114.4 300.3 L114.8 304.3 L115.1 308.3 L115.5 311.7 L115.9 313.8 L116.2 314.4 L116.6 313.0 L117.0 309.9 L117.3 305.5 L117.7 300.2 L118.1 294.7 L118.4 289.3 L118.8 284.3 L119.2 279.9 L119.6 276.1 L119.9 273.1 L120.3 270.7 L120.7 269.0 L121.0 267.8 L121.4 267.3 L121.8 267.4 L122.1 268.0 L122.5 269.1 L122.9 270.8 L123.2 273.0 L123.6 275.8 L124.0 279.2 L124.3 283.1 L124.7 287.2 L125.1 291.2 L125.4 294.6 L125.8 296.9 L126.2 297.5 L126.5 296.3 L126.9 293.3 L127.3 288.8 L127.6 283.5 L128.0 278.0 L128.4 272.5 L128.7 267.5 L129.1 262.9 L129.5 258.8 L129.9 255.3 L130.2 252.2 L130.6 249.5 L131.0 247.2 L131.3 245.2 L131.7 243.5 L132.1 242.0 L132.4 240.6 L132.8 239.4 L133.2 238.4 L133.5 237.5 L133.9 236.7 L134.3 235.9 L134.6 235.3 L135.0 234.7 L135.4 234.2 L135.7 233.7 L136.1 233.2 L136.5 232.9 L136.8 232.5 L137.2 232.2 L137.6 231.9 L137.9 231.6 L138.3 231.4 L138.7 231.1 L139.0 230.9 L139.4 230.7 L139.8 230.6 L140.1 230.4 L140.5 230.3 L140.9 230.2 L141.3 230.1 L141.6 230.0 L142.0 229.9 L142.4 229.9 L142.7 229.8 L143.1 229.8 L143.5 229.8 L143.8 229.8 L144.2 229.8 L144.6 229.8 L144.9 229.9 L145.3 230.0 L145.7 230.1 L146.0 230.2 L146.4 230.4 L146.8 230.5 L147.1 230.8 L147.5 231.0 L147.9 231.3 L148.2 231.7 L148.6 232.1 L149.0 232.5 L149.3 233.0 L149.7 233.6 L150.1 234.2 L150.4 234.9 L150.8 235.5 L151.2 236.0 L151.6 236.3 L151.9 236.1 L152.3 235.7 L152.7 235.0 L153.0 234.3 L153.4 233.5 L153.8 232.9 L154.1 232.2 L154.5 231.7 L154.9 231.2 L155.2 230.7 L155.6 230.3 L156.0 230.0 L156.3 229.7 L156.7 229.4 L157.1 229.1 L157.4 228.9 L157.8 228.7 L158.2 228.5 L158.5 228.3 L158.9 228.2 L159.3 228.0 L159.6 227.9 L160.0 227.8 L160.4 227.7 L160.7 227.6 L161.1 227.5 L161.5 227.5 L161.8 227.4 L162.2 227.4 L162.6 227.3 L163.0 227.3 L163.3 227.2 L163.7 227.2 L164.1 227.2 L164.4 227.2 L164.8 227.2 L165.2 227.2 L165.5 227.2 L165.9 227.2 L166.3 227.2 L166.6 227.2 L167.0 227.2 L167.4 227.3 L167.7 227.3 L168.1 227.3 L168.5 227.4 L168.8 227.5 L169.2 227.5 L169.6 227.6 L169.9 227.7 L170.3 227.8 L170.7 227.9 L171.0 228.0 L171.4 228.2 L171.8 228.3 L172.1 228.5 L172.5 228.7 L172.9 228.9 L173.3 229.1 L173.6 229.4 L174.0 229.7 L174.4 230.0 L174.7 230.3 L175.1 230.7 L175.5 231.1 L175.8 231.5 L176.2 232.0 L176.6 232.4 L176.9 232.9 L177.3 233.4 L177.7 234.0 L178.0 234.5 L178.4 235.0 L178.8 235.6 L179.1 236.1 L179.5 236.7 L179.9 237.2 L180.2 237.7 L180.6 238.1 L181.0 238.1 L181.3 237.6 L181.7 236.8 L182.1 235.8 L182.4 234.7 L182.8 233.8 L183.2 232.9 L183.5 232.1 L183.9 231.4 L184.3 230.9 L184.7 230.4 L185.0 229.9 L185.4 229.5 L185.8 229.1 L186.1 228.8 L186.5 228.5 L186.9 228.3 L187.2 228.0 L187.6 227.8 L188.0 227.6 L188.3 227.5 L188.7 227.3 L189.1 227.2 L189.4 227.0 L189.8 226.9 L190.2 226.8 L190.5 226.7 L190.9 226.6 L191.3 226.5 L191.6 226.4 L192.0 226.3 L192.4 226.3 L192.7 226.2 L193.1 226.1 L193.5 226.1 L193.8 226.0 L194.2 226.0 L194.6 225.9 L195.0 225.9 L195.3 225.8 L195.7 225.8 L196.1 225.7 L196.4 225.7 L196.8 225.7 L197.2 225.6 L197.5 225.6 L197.9 225.6 L198.3 225.6 L198.6 225.5 L199.0 225.5 L199.4 225.5 L199.7 225.5 L200.1 225.4" fill="none" stroke="#f55050" stroke-width="1.5"/>
<path d="M16.4 225.2h0M16.7 226.7h0M17.1 223.9h0M17.5 226.4h0M17.8 224.7h0M18.2 224.8h0M18.5 227.6h0M18.9 225.3h0M19.3 225.1h0M19.6 226.1h0M20.0 226.6h0M20.3 225.1h0M20.7 225.9h0M21.0 223.9h0M21.4 224.7h0M21.8 224.6h0M22.1 223.5h0M22.5 223.3h0M22.8 223.1h0M23.2 224.9h0M23.6 225.0h0M23.9 224.9h0M24.3 225.4h0M24.6 223.6h0M25.0 225.2h0M25.4 225.7h0M25.7 226.3h0M26.1 224.3h0M26.4 224.9h0M26.8 222.8h0M27.2 224.8h0M27.5 222.6h0M27.9 223.6h0M28.2 226.9h0M28.6 222.7h0M29.0 226.6h0M29.3 226.0h0M29.7 225.2h0M30.0 226.3h0M30.4 226.4h0M30.7 227.1h0M31.1 225.5h0M31.5 225.0h0M31.8 225.1h0M32.2 224.6h0M32.5 225.9h0M32.9 225.0h0M33.3 227.4h0M33.6 223.7h0M34.0 224.7h0M34.3 225.0h0M34.7 223.6h0M35.1 228.9h0M35.4 223.3h0M35.8 226.2h0M36.1 226.0h0M36.5 228.9h0M36.9 224.3h0M37.2 228.4h0M37.6 226.2h0M37.9 227.1h0M38.3 226.7h0M38.6 228.6h0M39.0 226.5h0M39.4 228.2h0M39.7 229.1h0M40.1 231.4h0M40.4 226.4h0M40.8 232.0h0M41.2 231.9h0M41.5 230.7h0M41.9 232.4h0M42.2 231.9h0M42.6 234.9h0M43.0 233.1h0M43.3 232.5h0M43.7 232.4h0M44.0 232.4h0M44.4 232.5h0M44.8 231.7h0M45.1 235.7h0M45.5 230.7h0M45.8 228.8h0M46.2 233.5h0M46.6 233.7h0M46.9 234.5h0M47.3 233.9h0M47.6 234.0h0M48.0 234.6h0M48.3 235.3h0M48.7 233.2h0M49.1 233.1h0M49.4 235.8h0M49.8 233.6h0M50.1 231.2h0M50.5 235.1h0M50.9 232.7h0M51.2 230.6h0M51.6 229.4h0M51.9 231.0h0M52.3 229.2h0M52.7 228.6h0M53.0 228.0h0M53.4 228.8h0M53.7 230.6h0M54.1 228.4h0M54.5 226.9h0M54.8 229.4h0M55.2 228.5h0M55.5 229.3h0M55.9 229.7h0M56.2 227.8h0M56.6 227.7h0M57.0 227.7h0M57.3 226.2h0M57.7 228.5h0M58.0 229.3h0M58.4 227.7h0M58.8 227.1h0M59.1 227.1h0M59.5 226.3h0M59.8 226.3h0M60.2 226.8h0M60.6 226.2h0M60.9 226.7h0M61.3 225.2h0M61.6 227.7h0M62.0 227.4h0M62.4 225.8h0M62.7 224.3h0M63.1 227.3h0M63.4 228.8h0M63.8 226.5h0M64.2 226.9h0M64.5 226.8h0M64.9 228.5h0M65.2 226.5h0M65.6 229.1h0M65.9 227.5h0M66.3 229.2h0M66.7 228.2h0M67.0 228.0h0M67.4 226.6h0M67.7 227.8h0M68.1 228.6h0M68.5 230.0h0M68.8 229.8h0M69.2 229.0h0M69.5 230.9h0M69.9 232.1h0M70.3 231.3h0M70.6 231.5h0M71.0 232.2h0M71.3 234.2h0M71.7 234.2h0M72.1 232.4h0M72.4 234.1h0M72.8 233.0h0M73.1 232.6h0M73.5 235.3h0M73.8 234.9h0M74.2 233.0h0M74.6 234.2h0M74.9 234.8h0M75.3 233.3h0M75.6 234.0h0M76.0 234.9h0M76.4 231.5h0M76.7 234.0h0M77.1 234.3h0M77.4 233.7h0M77.8 230.9h0M78.2 232.8h0M78.5 230.9h0M78.9 232.4h0M79.2 232.2h0M79.6 231.4h0M80.0 229.9h0M80.3 229.9h0M80.7 231.6h0M81.0 229.1h0M81.4 230.8h0M81.8 230.6h0M82.1 229.5h0M82.5 232.9h0M82.8 229.8h0M83.2 232.4h0M83.5 227.0h0M83.9 226.6h0M84.3 230.8h0M84.6 230.3h0M85.0 229.1h0M85.3 229.5h0M85.7 227.1h0M86.1 228.8h0M86.4 228.3h0M86.8 229.4h0M87.1 231.0h0M87.5 230.0h0M87.9 230.5h0M88.2 229.2h0M88.6 229.6h0M88.9 230.5h0M89.3 230.1h0M89.7 232.3h0M90.0 229.7h0M90.4 233.4h0M90.7 229.9h0M91.1 232.8h0M91.4 230.6h0M91.8 234.0h0M92.2 232.3h0M92.5 232.9h0M92.9 233.7h0M93.2 232.2h0M93.6 232.1h0M94.0 231.2h0M94.3 235.8h0M94.7 233.8h0M95.0 234.5h0M95.4 235.8h0M95.8 239.0h0M96.1 234.8h0M96.5 238.2h0M96.8 238.1h0M97.2 240.2h0M97.6 238.2h0M97.9 241.2h0M98.3 244.1h0M98.6 246.4h0M99.0 248.1h0M99.4 246.7h0M99.7 249.9h0M100.1 251.8h0M100.4 252.6h0M100.8 255.2h0M101.1 261.1h0M101.5 263.9h0M101.9 267.3h0M102.2 273.6h0M102.6 275.8h0M102.9 283.5h0M103.3 289.2h0M103.7 296.0h0M104.0 304.1h0M104.4 311.3h0M104.7 318.8h0M105.1 325.4h0M105.5 333.2h0M105.8 334.6h0M106.2 339.4h0M106.5 341.0h0M106.9 341.0h0M107.3 343.0h0M107.6 340.6h0M108.0 342.0h0M108.3 336.8h0M108.7 333.3h0M109.0 329.2h0M109.4 323.9h0M109.8 317.7h0M110.1 311.6h0M110.5 304.6h0M110.8 298.8h0M111.2 296.7h0M111.6 293.3h0M111.9 289.6h0M112.3 290.9h0M112.6 289.6h0M113.0 288.8h0M113.4 292.1h0M113.7 292.2h0M114.1 295.9h0M114.4 301.2h0M114.8 302.6h0M115.2 308.5h0M115.5 310.0h0M115.9 314.8h0M116.2 313.4h0M116.6 313.4h0M116.9 308.3h0M117.3 305.5h0M117.7 302.1h0M118.0 296.1h0M118.4 287.8h0M118.7 286.4h0M119.1 281.9h0M119.5 276.5h0M119.8 275.7h0M120.2 269.9h0M120.5 269.3h0M120.9 269.6h0M121.3 269.2h0M121.6 269.0h0M122.0 266.3h0M122.3 266.2h0M122.7 270.5h0M123.1 270.0h0M123.4 274.2h0M123.8 275.7h0M124.1 282.3h0M124.5 285.9h0M124.9 289.6h0M125.2 292.6h0M125.6 295.7h0M125.9 296.9h0M126.3 297.9h0M126.6 295.9h0M127.0 292.8h0M127.4 287.0h0M127.7 284.8h0M128.1 277.2h0M128.4 273.4h0M128.8 268.5h0M129.2 261.2h0M129.5 256.2h0M129.9 256.6h0M130.2 251.5h0M130.6 249.6h0M131.0 246.9h0M131.3 245.4h0M131.7 242.0h0M132.0 241.9h0M132.4 240.1h0M132.8 239.5h0M133.1 235.5h0M133.5 238.7h0M133.8 237.2h0M134.2 233.8h0M134.5 234.5h0M134.9 234.9h0M135.3 235.1h0M135.6 233.8h0M136.0 235.2h0M136.3 233.0h0M136.7 231.3h0M137.1 231.4h0M137.4 233.0h0M137.8 230.9h0M138.1 232.6h0M138.5 232.6h0M138.9 231.8h0M139.2 232.2h0M139.6 230.4h0M139.9 230.5h0M140.3 229.6h0M140.7 229.4h0M141.0 228.1h0M141.4 229.3h0M141.7 228.6h0M142.1 228.0h0M142.5 230.0h0M142.8 230.4h0M143.2 229.3h0M143.5 231.5h0M143.9 231.0h0M144.2 231.2h0M144.6 229.1h0M145.0 228.0h0M145.3 230.7h0M145.7 230.5h0M146.0 231.2h0M146.4 230.9h0M146.8 232.2h0M147.1 230.4h0M147.5 231.9h0M147.8 230.1h0M148.2 228.6h0M148.6 231.4h0M148.9 234.4h0M149.3 230.7h0M149.6 234.8h0M150.0 233.2h0M150.4 234.2h0M150.7 235.4h0M151.1 236.2h0M151.4 235.0h0M151.8 236.4h0M152.1 236.5h0M152.5 236.4h0M152.9 233.6h0M153.2 235.9h0M153.6 235.6h0M153.9 235.7h0M154.3 230.2h0M154.7 231.7h0M155.0 228.6h0M155.4 231.1h0M155.7 230.9h0M156.1 228.4h0M156.5 227.5h0M156.8 229.5h0M157.2 229.9h0M157.5 227.8h0M157.9 228.3h0M158.3 225.2h0M158.6 227.4h0M159.0 228.3h0M159.3 228.2h0M159.7 230.0h0M160.1 226.3h0M160.4 224.8h0M160.8 228.2h0M161.1 226.8h0M161.5 227.8h0M161.8 228.3h0M162.2 228.1h0M162.6 229.2h0M162.9 229.0h0M163.3 225.1h0M163.6 227.1h0M164.0 229.8h0M164.4 226.6h0M164.7 228.4h0M165.1 227.1h0M165.4 226.6h0M165.8 229.2h0M166.2 228.5h0M166.5 226.9h0M166.9 228.4h0M167.2 225.5h0M167.6 226.3h0M168.0 228.5h0M168.3 227.4h0M168.7 226.1h0M169.0 228.1h0M169.4 228.0h0M169.7 229.3h0M170.1 229.0h0M170.5 227.5h0M170.8 227.3h0M171.2 227.9h0M171.5 227.9h0M171.9 230.3h0M172.3 230.6h0M172.6 230.5h0M173.0 229.5h0M173.3 228.9h0M173.7 230.6h0M174.1 229.3h0M174.4 230.3h0M174.8 228.2h0M175.1 230.2h0M175.5 233.0h0M175.9 230.2h0M176.2 230.0h0M176.6 232.2h0M176.9 235.1h0M177.3 235.3h0M177.7 233.5h0M178.0 233.8h0M178.4 234.8h0M178.7 234.3h0M179.1 236.1h0M179.4 236.2h0M179.8 235.2h0M180.2 236.9h0M180.5 237.7h0M180.9 237.0h0M181.2 236.3h0M181.6 238.2h0M182.0 238.6h0M182.3 234.7h0M182.7 233.6h0M183.0 233.9h0M183.4 232.1h0M183.8 230.7h0M184.1 232.9h0M184.5 229.2h0M184.8 229.2h0M185.2 228.8h0M185.6 228.2h0M185.9 228.7h0M186.3 229.5h0M186.6 230.3h0M187.0 229.1h0M187.3 228.0h0M187.7 226.1h0M188.1 227.5h0M188.4 226.2h0M188.8 227.1h0M189.1 228.4h0M189.5 227.3h0M189.9 226.6h0M190.2 225.8h0M190.6 226.6h0M190.9 226.7h0M191.3 225.3h0M191.7 225.8h0M192.0 227.5h0M192.4 224.1h0M192.7 225.6h0M193.1 224.6h0M193.5 228.1h0M193.8 226.8h0M194.2 226.6h0M194.5 226.4h0M194.9 226.3h0M195.3 226.2h0M195.6 223.7h0M196.0 226.1h0M196.3 226.5h0M196.7 223.8h0M197.0 226.7h0M197.4 226.5h0M197.8 223.6h0M198.1 225.0h0M198.5 225.1h0M198.8 224.8h0M199.2 226.0h0M199.6 223.8h0M199.9 225.2h0" stroke="#555" stroke-width="1.1" stroke-linecap="square" fill="none"/>
<path d="M16.2 224.5 L16.6 224.5 L16.9 224.5 L17.3 224.5 L17.7 224.5 L18.0 224.5 L18.4 224.5 L18.8 224.5 L19.1 224.5 L19.5 224.5 L19.9 224.5 L20.2 224.5 L20.6 224.5 L21.0 224.5 L21.3 224.5 L21.7 224.5 L22.1 224.5 L22.5 224.5 L22.8 224.5 L23.2 224.5 L23.6 224.5 L23.9 224.5 L24.3 224.5 L24.7 224.5 L25.0 224.5 L25.4 224.5 L25.8 224.5 L26.1 224.6 L26.5 224.6 L26.9 224.6 L27.2 224.6 L27.6 224.6 L28.0 224.6 L28.3 224.6 L28.7 224.6 L29.1 224.6 L29.4 224.6 L29.8 224.6 L30.2 224.6 L30.5 224.6 L30.9 224.6 L31.3 224.6 L31.6 224.6 L32.0 224.6 L32.4 224.6 L32.8 224.6 L33.1 224.6 L33.5 224.7 L33.9 224.7 L34.2 224.7 L34.6 224.7 L35.0 224.7 L35.3 224.7 L35.7 224.8 L36.1 224.8 L36.4 224.8 L36.8 224.9 L37.2 224.9 L37.5 224.9 L37.9 225.0 L38.3 225.1 L38.6 225.2 L39.0 225.3 L39.4 225.5 L39.7 225.6 L40.1 225.9 L40.5 226.2 L40.8 226.5 L41.2 227.0 L41.6 227.4 L41.9 227.8 L42.3 228.0 L42.7 227.9 L43.0 227.6 L43.4 227.2 L43.8 226.8 L44.2 226.4 L44.5 226.0 L44.9 225.8 L45.3 225.5 L45.6 225.4 L46.0 225.2 L46.4 225.1 L46.7 225.1 L47.1 225.0 L47.5 224.9 L47.8 224.9 L48.2 224.8 L48.6 224.8 L48.9 224.8 L49.3 224.8 L49.7 224.7 L50.0 224.7 L50.4 224.7 L50.8 224.7 L51.1 224.7 L51.5 224.7 L51.9 224.7 L52.2 224.6 L52.6 224.6 L53.0 224.6 L53.3 224.6 L53.7 224.6 L54.1 224.6 L54.5 224.6 L54.8 224.6 L55.2 224.6 L55.6 224.6 L55.9 224.6 L56.3 224.6 L56.7 224.6 L57.0 224.6 L57.4 224.6 L57.8 224.6 L58.1 224.6 L58.5 224.6 L58.9 224.6 L59.2 224.6 L59.6 224.6 L60.0 224.6 L60.3 224.6 L60.7 224.6 L61.1 224.6 L61.4 224.6 L61.8 224.6 L62.2 224.6 L62.5 224.7 L62.9 224.7 L63.3 224.7 L63.6 224.7 L64.0 224.7 L64.4 224.7 L64.7 224.7 L65.1 224.8 L65.5 224.8 L65.9 224.8 L66.2 224.9 L66.6 224.9 L67.0 225.0 L67.3 225.0 L67.7 225.1 L68.1 225.2 L68.4 225.3 L68.8 225.5 L69.2 225.7 L69.5 226.0 L69.9 226.3 L70.3 226.6 L70.6 227.0 L71.0 227.3 L71.4 227.5 L71.7 227.5 L72.1 227.2 L72.5 226.8 L72.8 226.4 L73.2 226.1 L73.6 225.8 L73.9 225.6 L74.3 225.4 L74.7 225.3 L75.0 225.1 L75.4 225.1 L75.8 225.0 L76.2 224.9 L76.5 224.9 L76.9 224.8 L77.3 224.8 L77.6 224.8 L78.0 224.7 L78.4 224.7 L78.7 224.7 L79.1 224.7 L79.5 224.7 L79.8 224.7 L80.2 224.7 L80.6 224.6 L80.9 224.6 L81.3 224.6 L81.7 224.6 L82.0 224.6 L82.4 224.6 L82.8 224.6 L83.1 224.6 L83.5 224.6 L83.9 224.6 L84.2 224.6 L84.6 224.6 L85.0 224.6 L85.3 224.6 L85.7 224.6 L86.1 224.6 L86.4 224.6 L86.8 224.6 L87.2 224.6 L87.6 224.6 L87.9 224.6 L88.3 224.6 L88.7 224.6 L89.0 224.6 L89.4 224.6 L89.8 224.6 L90.1 224.6 L90.5 224.6 L90.9 224.6 L91.2 224.6 L91.6 224.6 L92.0 224.6 L92.3 224.6 L92.7 224.6 L93.1 224.6 L93.4 224.6 L93.8 224.6 L94.2 224.6 L94.5 224.6 L94.9 224.6 L95.3 224.7 L95.6 224.7 L96.0 224.7 L96.4 224.7 L96.7 224.8 L97.1 224.8 L97.5 224.9 L97.9 224.9 L98.2 225.0 L98.6 225.1 L99.0 225.2 L99.3 225.4 L99.7 225.5 L100.1 225.5 L100.4 225.5 L100.8 225.4 L101.2 225.3 L101.5 225.2 L101.9 225.1 L102.3 225.0 L102.6 224.9 L103.0 224.8 L103.4 224.8 L103.7 224.7 L104.1 224.7 L104.5 224.7 L104.8 224.7 L105.2 224.6 L105.6 224.6 L105.9 224.6 L106.3 224.6 L106.7 224.6 L107.0 224.6 L107.4 224.6 L107.8 224.6 L108.2 224.6 L108.5 224.6 L108.9 224.6 L109.3 224.6 L109.6 224.6 L110.0 224.6 L110.4 224.6 L110.7 224.6 L111.1 224.6 L111.5 224.6 L111.8 224.6 L112.2 224.6 L112.6 224.6 L112.9 224.6 L113.3 224.6 L113.7 224.6 L114.0 224.6 L114.4 224.6 L114.8 224.6 L115.1 224.6 L115.5 224.6 L115.9 224.6 L116.2 224.6 L116.6 224.6 L117.0 224.6 L117.3 224.7 L117.7 224.7 L118.1 224.7 L118.4 224.7 L118.8 224.8 L119.2 224.8 L119.6 224.9 L119.9 224.9 L120.3 225.0 L120.7 225.1 L121.0 225.2 L121.4 225.4 L121.8 225.5 L122.1 225.5 L122.5 225.5 L122.9 225.4 L123.2 225.3 L123.6 225.2 L124.0 225.1 L124.3 225.0 L124.7 224.9 L125.1 224.8 L125.4 224.8 L125.8 224.7 L126.2 224.7 L126.5 224.7 L126.9 224.7 L127.3 224.7 L127.6 224.6 L128.0 224.6 L128.4 224.6 L128.7 224.6 L129.1 224.6 L129.5 224.6 L129.9 224.6 L130.2 224.6 L130.6 224.6 L131.0 224.6 L131.3 224.6 L131.7 224.6 L132.1 224.6 L132.4 224.6 L132.8 224.6 L133.2 224.6 L133.5 224.6 L133.9 224.6 L134.3 224.6 L134.6 224.6 L135.0 224.6 L135.4 224.6 L135.7 224.6 L136.1 224.6 L136.5 224.6 L136.8 224.6 L137.2 224.6 L137.6 224.6 L137.9 224.6 L138.3 224.6 L138.7 224.6 L139.0 224.6 L139.4 224.6 L139.8 224.6 L140.1 224.6 L140.5 224.6 L140.9 224.6 L141.3 224.6 L141.6 224.7 L142.0 224.7 L142.4 224.7 L142.7 224.7 L143.1 224.7 L143.5 224.7 L143.8 224.7 L144.2 224.8 L144.6 224.8 L144.9 224.8 L145.3 224.8 L145.7 224.9 L146.0 224.9 L146.4 225.0 L146.8 225.0 L147.1 225.1 L147.5 225.2 L147.9 225.3 L148.2 225.4 L148.6 225.6 L149.0 225.8 L149.3 226.1 L149.7 226.4 L150.1 226.8 L150.4 227.3 L150.8 227.9 L151.2 228.3 L151.6 228.5 L151.9 228.4 L152.3 228.1 L152.7 227.6 L153.0 227.1 L153.4 226.6 L153.8 226.3 L154.1 225.9 L154.5 225.7 L154.9 225.5 L155.2 225.4 L155.6 225.2 L156.0 225.1 L156.3 225.1 L156.7 225.0 L157.1 224.9 L157.4 224.9 L157.8 224.9 L158.2 224.8 L158.5 224.8 L158.9 224.8 L159.3 224.8 L159.6 224.7 L160.0 224.7 L160.4 224.7 L160.7 224.7 L161.1 224.7 L161.5 224.7 L161.8 224.7 L162.2 224.7 L162.6 224.7 L163.0 224.7 L163.3 224.7 L163.7 224.7 L164.1 224.6 L164.4 224.6 L164.8 224.6 L165.2 224.6 L165.5 224.6 L165.9 224.6 L166.3 224.6 L166.6 224.6 L167.0 224.6 L167.4 224.6 L167.7 224.6 L168.1 224.7 L168.5 224.7 L168.8 224.7 L169.2 224.7 L169.6 224.7 L169.9 224.7 L170.3 224.7 L170.7 224.7 L171.0 224.7 L171.4 224.7 L171.8 224.7 L172.1 224.7 L172.5 224.8 L172.9 224.8 L173.3 224.8 L173.6 224.8 L174.0 224.8 L174.4 224.9 L174.7 224.9 L175.1 225.0 L175.5 225.0 L175.8 225.1 L176.2 225.1 L176.6 225.2 L176.9 225.3 L177.3 225.5 L177.7 225.7 L178.0 225.9 L178.4 226.1 L178.8 226.5 L179.1 226.9 L179.5 227.4 L179.9 228.0 L180.2 228.7 L180.6 229.2 L181.0 229.5 L181.3 229.4 L181.7 229.0 L182.1 228.4 L182.4 227.7 L182.8 227.1 L183.2 226.7 L183.5 226.3 L183.9 226.0 L184.3 225.7 L184.7 225.6 L185.0 225.4 L185.4 225.3 L185.8 225.2 L186.1 225.1 L186.5 225.0 L186.9 225.0 L187.2 224.9 L187.6 224.9 L188.0 224.8 L188.3 224.8 L188.7 224.8 L189.1 224.8 L189.4 224.7 L189.8 224.7 L190.2 224.7 L190.5 224.7 L190.9 224.7 L191.3 224.7 L191.6 224.7 L192.0 224.6 L192.4 224.6 L192.7 224.6 L193.1 224.6 L193.5 224.6 L193.8 224.6 L194.2 224.6 L194.6 224.6 L195.0 224.6 L195.3 224.6 L195.7 224.6 L196.1 224.6 L196.4 224.6 L196.8 224.6 L197.2 224.6 L197.5 224.6 L197.9 224.6 L198.3 224.6 L198.6 224.6 L199.0 224.6 L199.4 224.6 L199.7 224.6 L200.1 224.6" fill="none" stroke="#10e810" stroke-width="1.1"/>
<path d="M16.2 224.8 L16.6 224.8 L16.9 224.8 L17.3 224.8 L17.7 224.8 L18.0 224.8 L18.4 224.8 L18.8 224.8 L19.1 224.8 L19.5 224.8 L19.9 224.8 L20.2 224.8 L20.6 224.9 L21.0 224.9 L21.3 224.9 L21.7 224.9 L22.1 224.9 L22.5 224.9 L22.8 224.9 L23.2 224.9 L23.6 224.9 L23.9 224.9 L24.3 225.0 L24.7 225.0 L25.0 225.0 L25.4 225.0 L25.8 225.0 L26.1 225.0 L26.5 225.0 L26.9 225.1 L27.2 225.1 L27.6 225.1 L28.0 225.1 L28.3 225.1 L28.7 225.2 L29.1 225.2 L29.4 225.2 L29.8 225.2 L30.2 225.2 L30.5 225.3 L30.9 225.3 L31.3 225.3 L31.6 225.4 L32.0 225.4 L32.4 225.4 L32.8 225.5 L33.1 225.5 L33.5 225.6 L33.9 225.6 L34.2 225.7 L34.6 225.7 L35.0 225.8 L35.3 225.8 L35.7 225.9 L36.1 226.0 L36.4 226.0 L36.8 226.1 L37.2 226.2 L37.5 226.3 L37.9 226.4 L38.3 226.5 L38.6 226.6 L39.0 226.8 L39.4 226.9 L39.7 227.1 L40.1 227.2 L40.5 227.4 L40.8 227.6 L41.2 227.8 L41.6 228.1 L41.9 228.3 L42.3 228.6 L42.7 228.9 L43.0 229.2 L43.4 229.6 L43.8 229.9 L44.2 230.3 L44.5 230.7 L44.9 231.1 L45.3 231.5 L45.6 231.9 L46.0 232.3 L46.4 232.6 L46.7 232.9 L47.1 233.1 L47.5 233.2 L47.8 233.2 L48.2 233.2 L48.6 233.0 L48.9 232.8 L49.3 232.5 L49.7 232.2 L50.0 231.8 L50.4 231.4 L50.8 231.0 L51.1 230.6 L51.5 230.2 L51.9 229.9 L52.2 229.5 L52.6 229.2 L53.0 228.9 L53.3 228.6 L53.7 228.4 L54.1 228.1 L54.5 227.9 L54.8 227.7 L55.2 227.6 L55.6 227.4 L55.9 227.3 L56.3 227.1 L56.7 227.0 L57.0 226.9 L57.4 226.8 L57.8 226.7 L58.1 226.6 L58.5 226.6 L58.9 226.5 L59.2 226.4 L59.6 226.4 L60.0 226.3 L60.3 226.3 L60.7 226.3 L61.1 226.3 L61.4 226.2 L61.8 226.2 L62.2 226.2 L62.5 226.2 L62.9 226.2 L63.3 226.2 L63.6 226.2 L64.0 226.3 L64.4 226.3 L64.7 226.3 L65.1 226.4 L65.5 226.4 L65.9 226.5 L66.2 226.5 L66.6 226.6 L67.0 226.7 L67.3 226.8 L67.7 226.9 L68.1 227.0 L68.4 227.1 L68.8 227.3 L69.2 227.4 L69.5 227.6 L69.9 227.8 L70.3 228.0 L70.6 228.3 L71.0 228.5 L71.4 228.8 L71.7 229.1 L72.1 229.4 L72.5 229.8 L72.8 230.1 L73.2 230.5 L73.6 230.8 L73.9 231.1 L74.3 231.4 L74.7 231.6 L75.0 231.8 L75.4 231.8 L75.8 231.8 L76.2 231.7 L76.5 231.5 L76.9 231.2 L77.3 230.9 L77.6 230.6 L78.0 230.2 L78.4 229.9 L78.7 229.5 L79.1 229.2 L79.5 228.8 L79.8 228.5 L80.2 228.2 L80.6 228.0 L80.9 227.7 L81.3 227.5 L81.7 227.3 L82.0 227.1 L82.4 226.9 L82.8 226.8 L83.1 226.6 L83.5 226.5 L83.9 226.4 L84.2 226.3 L84.6 226.2 L85.0 226.1 L85.3 226.0 L85.7 226.0 L86.1 225.9 L86.4 225.8 L86.8 225.8 L87.2 225.7 L87.6 225.7 L87.9 225.6 L88.3 225.6 L88.7 225.5 L89.0 225.5 L89.4 225.5 L89.8 225.5 L90.1 225.4 L90.5 225.4 L90.9 225.4 L91.2 225.4 L91.6 225.4 L92.0 225.3 L92.3 225.3 L92.7 225.3 L93.1 225.3 L93.4 225.3 L93.8 225.3 L94.2 225.3 L94.5 225.3 L94.9 225.3 L95.3 225.3 L95.6 225.3 L96.0 225.4 L96.4 225.4 L96.7 225.4 L97.1 225.4 L97.5 225.5 L97.9 225.5 L98.2 225.6 L98.6 225.7 L99.0 225.7 L99.3 225.8 L99.7 226.0 L100.1 226.1 L100.4 226.3 L100.8 226.4 L101.2 226.6 L101.5 226.9 L101.9 227.1 L102.3 227.2 L102.6 227.3 L103.0 227.4 L103.4 227.3 L103.7 227.2 L104.1 227.0 L104.5 226.8 L104.8 226.6 L105.2 226.4 L105.6 226.2 L105.9 226.0 L106.3 225.9 L106.7 225.8 L107.0 225.7 L107.4 225.6 L107.8 225.5 L108.2 225.4 L108.5 225.4 L108.9 225.3 L109.3 225.3 L109.6 225.2 L110.0 225.2 L110.4 225.2 L110.7 225.2 L111.1 225.2 L111.5 225.1 L111.8 225.1 L112.2 225.1 L112.6 225.1 L112.9 225.1 L113.3 225.1 L113.7 225.1 L114.0 225.1 L114.4 225.1 L114.8 225.1 L115.1 225.1 L115.5 225.1 L115.9 225.1 L116.2 225.1 L116.6 225.2 L117.0 225.2 L117.3 225.2 L117.7 225.2 L118.1 225.3 L118.4 225.3 L118.8 225.4 L119.2 225.4 L119.6 225.5 L119.9 225.6 L120.3 225.7 L120.7 225.8 L121.0 225.9 L121.4 226.1 L121.8 226.2 L122.1 226.4 L122.5 226.6 L122.9 226.9 L123.2 227.1 L123.6 227.2 L124.0 227.3 L124.3 227.4 L124.7 227.3 L125.1 227.2 L125.4 227.0 L125.8 226.8 L126.2 226.6 L126.5 226.4 L126.9 226.2 L127.3 226.0 L127.6 225.9 L128.0 225.8 L128.4 225.7 L128.7 225.6 L129.1 225.5 L129.5 225.5 L129.9 225.4 L130.2 225.4 L130.6 225.3 L131.0 225.3 L131.3 225.3 L131.7 225.3 L132.1 225.3 L132.4 225.2 L132.8 225.2 L133.2 225.2 L133.5 225.2 L133.9 225.2 L134.3 225.2 L134.6 225.2 L135.0 225.2 L135.4 225.2 L135.7 225.3 L136.1 225.3 L136.5 225.3 L136.8 225.3 L137.2 225.3 L137.6 225.3 L137.9 225.4 L138.3 225.4 L138.7 225.4 L139.0 225.4 L139.4 225.5 L139.8 225.5 L140.1 225.5 L140.5 225.6 L140.9 225.6 L141.3 225.7 L141.6 225.7 L142.0 225.8 L142.4 225.9 L142.7 225.9 L143.1 226.0 L143.5 226.1 L143.8 226.2 L144.2 226.3 L144.6 226.4 L144.9 226.5 L145.3 226.7 L145.7 226.8 L146.0 227.0 L146.4 227.2 L146.8 227.4 L147.1 227.6 L147.5 227.8 L147.9 228.1 L148.2 228.4 L148.6 228.6 L149.0 228.9 L149.3 229.2 L149.7 229.5 L150.1 229.8 L150.4 230.0 L150.8 230.2 L151.2 230.3 L151.6 230.3 L151.9 230.3 L152.3 230.3 L152.7 230.1 L153.0 229.9 L153.4 229.7 L153.8 229.4 L154.1 229.2 L154.5 228.9 L154.9 228.6 L155.2 228.3 L155.6 228.1 L156.0 227.9 L156.3 227.6 L156.7 227.5 L157.1 227.3 L157.4 227.1 L157.8 227.0 L158.2 226.8 L158.5 226.7 L158.9 226.6 L159.3 226.5 L159.6 226.4 L160.0 226.4 L160.4 226.3 L160.7 226.3 L161.1 226.2 L161.5 226.2 L161.8 226.1 L162.2 226.1 L162.6 226.1 L163.0 226.1 L163.3 226.0 L163.7 226.0 L164.1 226.0 L164.4 226.0 L164.8 226.0 L165.2 226.1 L165.5 226.1 L165.9 226.1 L166.3 226.1 L166.6 226.2 L167.0 226.2 L167.4 226.2 L167.7 226.3 L168.1 226.3 L168.5 226.4 L168.8 226.5 L169.2 226.5 L169.6 226.6 L169.9 226.7 L170.3 226.8 L170.7 226.9 L171.0 227.1 L171.4 227.2 L171.8 227.4 L172.1 227.5 L172.5 227.7 L172.9 227.9 L173.3 228.1 L173.6 228.4 L174.0 228.6 L174.4 228.9 L174.7 229.2 L175.1 229.6 L175.5 229.9 L175.8 230.3 L176.2 230.7 L176.6 231.1 L176.9 231.5 L177.3 231.8 L177.7 232.2 L178.0 232.5 L178.4 232.8 L178.8 233.0 L179.1 233.1 L179.5 233.2 L179.9 233.1 L180.2 233.0 L180.6 232.8 L181.0 232.5 L181.3 232.2 L181.7 231.8 L182.1 231.4 L182.4 231.0 L182.8 230.6 L183.2 230.2 L183.5 229.8 L183.9 229.5 L184.3 229.1 L184.7 228.8 L185.0 228.5 L185.4 228.2 L185.8 228.0 L186.1 227.8 L186.5 227.5 L186.9 227.4 L187.2 227.2 L187.6 227.0 L188.0 226.9 L188.3 226.7 L188.7 226.6 L189.1 226.5 L189.4 226.4 L189.8 226.3 L190.2 226.2 L190.5 226.1 L190.9 226.0 L191.3 225.9 L191.6 225.9 L192.0 225.8 L192.4 225.7 L192.7 225.7 L193.1 225.6 L193.5 225.6 L193.8 225.5 L194.2 225.5 L194.6 225.4 L195.0 225.4 L195.3 225.4 L195.7 225.3 L196.1 225.3 L196.4 225.3 L196.8 225.3 L197.2 225.2 L197.5 225.2 L197.9 225.2 L198.3 225.2 L198.6 225.1 L199.0 225.1 L199.4 225.1 L199.7 225.1 L200.1 225.1" fill="none" stroke="#1a1aff" stroke-width="1.2"/>
<path d="M16.2 224.6 L16.6 224.6 L16.9 224.6 L17.3 224.6 L17.7 224.6 L18.0 224.6 L18.4 224.6 L18.8 224.6 L19.1 224.6 L19.5 224.6 L19.9 224.6 L20.2 224.6 L20.6 224.6 L21.0 224.6 L21.3 224.6 L21.7 224.6 L22.1 224.6 L22.5 224.6 L22.8 224.6 L23.2 224.6 L23.6 224.6 L23.9 224.6 L24.3 224.6 L24.7 224.6 L25.0 224.6 L25.4 224.6 L25.8 224.6 L26.1 224.6 L26.5 224.6 L26.9 224.6 L27.2 224.6 L27.6 224.6 L28.0 224.6 L28.3 224.6 L28.7 224.6 L29.1 224.6 L29.4 224.6 L29.8 224.6 L30.2 224.6 L30.5 224.6 L30.9 224.6 L31.3 224.6 L31.6 224.6 L32.0 224.6 L32.4 224.6 L32.8 224.7 L33.1 224.7 L33.5 224.7 L33.9 224.7 L34.2 224.7 L34.6 224.7 L35.0 224.7 L35.3 224.7 L35.7 224.7 L36.1 224.7 L36.4 224.7 L36.8 224.7 L37.2 224.7 L37.5 224.7 L37.9 224.7 L38.3 224.7 L38.6 224.7 L39.0 224.7 L39.4 224.7 L39.7 224.7 L40.1 224.7 L40.5 224.7 L40.8 224.7 L41.2 224.7 L41.6 224.7 L41.9 224.7 L42.3 224.7 L42.7 224.7 L43.0 224.7 L43.4 224.7 L43.8 224.7 L44.2 224.7 L44.5 224.7 L44.9 224.7 L45.3 224.7 L45.6 224.7 L46.0 224.7 L46.4 224.7 L46.7 224.7 L47.1 224.7 L47.5 224.7 L47.8 224.7 L48.2 224.7 L48.6 224.7 L48.9 224.7 L49.3 224.7 L49.7 224.7 L50.0 224.7 L50.4 224.7 L50.8 224.8 L51.1 224.8 L51.5 224.8 L51.9 224.8 L52.2 224.8 L52.6 224.8 L53.0 224.8 L53.3 224.8 L53.7 224.8 L54.1 224.8 L54.5 224.8 L54.8 224.8 L55.2 224.8 L55.6 224.8 L55.9 224.8 L56.3 224.8 L56.7 224.8 L57.0 224.8 L57.4 224.8 L57.8 224.8 L58.1 224.8 L58.5 224.8 L58.9 224.8 L59.2 224.8 L59.6 224.8 L60.0 224.9 L60.3 224.9 L60.7 224.9 L61.1 224.9 L61.4 224.9 L61.8 224.9 L62.2 224.9 L62.5 224.9 L62.9 224.9 L63.3 224.9 L63.6 224.9 L64.0 224.9 L64.4 224.9 L64.7 224.9 L65.1 224.9 L65.5 224.9 L65.9 225.0 L66.2 225.0 L66.6 225.0 L67.0 225.0 L67.3 225.0 L67.7 225.0 L68.1 225.0 L68.4 225.0 L68.8 225.0 L69.2 225.0 L69.5 225.0 L69.9 225.0 L70.3 225.1 L70.6 225.1 L71.0 225.1 L71.4 225.1 L71.7 225.1 L72.1 225.1 L72.5 225.1 L72.8 225.1 L73.2 225.1 L73.6 225.2 L73.9 225.2 L74.3 225.2 L74.7 225.2 L75.0 225.2 L75.4 225.2 L75.8 225.3 L76.2 225.3 L76.5 225.3 L76.9 225.3 L77.3 225.3 L77.6 225.3 L78.0 225.4 L78.4 225.4 L78.7 225.4 L79.1 225.4 L79.5 225.4 L79.8 225.5 L80.2 225.5 L80.6 225.5 L80.9 225.5 L81.3 225.6 L81.7 225.6 L82.0 225.6 L82.4 225.7 L82.8 225.7 L83.1 225.7 L83.5 225.8 L83.9 225.8 L84.2 225.9 L84.6 225.9 L85.0 225.9 L85.3 226.0 L85.7 226.0 L86.1 226.1 L86.4 226.1 L86.8 226.2 L87.2 226.3 L87.6 226.3 L87.9 226.4 L88.3 226.5 L88.7 226.5 L89.0 226.6 L89.4 226.7 L89.8 226.8 L90.1 226.9 L90.5 227.0 L90.9 227.1 L91.2 227.2 L91.6 227.4 L92.0 227.5 L92.3 227.6 L92.7 227.8 L93.1 228.0 L93.4 228.2 L93.8 228.4 L94.2 228.6 L94.5 228.8 L94.9 229.1 L95.3 229.4 L95.6 229.7 L96.0 230.0 L96.4 230.4 L96.7 230.9 L97.1 231.3 L97.5 231.9 L97.9 232.5 L98.2 233.1 L98.6 233.9 L99.0 234.7 L99.3 235.7 L99.7 236.9 L100.1 238.1 L100.4 239.6 L100.8 241.3 L101.2 243.3 L101.5 245.6 L101.9 248.3 L102.3 251.4 L102.6 255.0 L103.0 259.1 L103.4 263.6 L103.7 268.4 L104.1 273.3 L104.5 278.0 L104.8 281.8 L105.2 284.3 L105.6 285.0 L105.9 283.9 L106.3 281.0 L106.7 276.9 L107.0 272.2 L107.4 267.3 L107.8 262.7 L108.2 258.4 L108.5 254.6 L108.9 251.2 L109.3 248.4 L109.6 245.9 L110.0 243.8 L110.4 242.0 L110.7 240.4 L111.1 239.1 L111.5 238.0 L111.8 237.1 L112.2 236.3 L112.6 235.6 L112.9 235.0 L113.3 234.5 L113.7 234.1 L114.0 233.8 L114.4 233.6 L114.8 233.4 L115.1 233.2 L115.5 233.2 L115.9 233.1 L116.2 233.2 L116.6 233.3 L117.0 233.4 L117.3 233.6 L117.7 233.9 L118.1 234.2 L118.4 234.6 L118.8 235.1 L119.2 235.7 L119.6 236.4 L119.9 237.3 L120.3 238.2 L120.7 239.4 L121.0 240.7 L121.4 242.3 L121.8 244.1 L122.1 246.3 L122.5 248.8 L122.9 251.7 L123.2 255.1 L123.6 259.0 L124.0 263.4 L124.3 268.2 L124.7 273.2 L125.1 278.1 L125.4 282.4 L125.8 285.5 L126.2 287.0 L126.5 286.4 L126.9 284.0 L127.3 280.2 L127.6 275.4 L128.0 270.3 L128.4 265.3 L128.7 260.6 L129.1 256.4 L129.5 252.6 L129.9 249.4 L130.2 246.6 L130.6 244.1 L131.0 242.1 L131.3 240.3 L131.7 238.7 L132.1 237.3 L132.4 236.2 L132.8 235.1 L133.2 234.2 L133.5 233.5 L133.9 232.7 L134.3 232.1 L134.6 231.6 L135.0 231.1 L135.4 230.6 L135.7 230.2 L136.1 229.9 L136.5 229.5 L136.8 229.2 L137.2 229.0 L137.6 228.7 L137.9 228.5 L138.3 228.3 L138.7 228.1 L139.0 227.9 L139.4 227.7 L139.8 227.6 L140.1 227.4 L140.5 227.3 L140.9 227.2 L141.3 227.1 L141.6 227.0 L142.0 226.9 L142.4 226.8 L142.7 226.7 L143.1 226.6 L143.5 226.5 L143.8 226.4 L144.2 226.4 L144.6 226.3 L144.9 226.2 L145.3 226.2 L145.7 226.1 L146.0 226.1 L146.4 226.0 L146.8 226.0 L147.1 225.9 L147.5 225.9 L147.9 225.8 L148.2 225.8 L148.6 225.8 L149.0 225.7 L149.3 225.7 L149.7 225.7 L150.1 225.6 L150.4 225.6 L150.8 225.6 L151.2 225.5 L151.6 225.5 L151.9 225.5 L152.3 225.5 L152.7 225.4 L153.0 225.4 L153.4 225.4 L153.8 225.4 L154.1 225.4 L154.5 225.3 L154.9 225.3 L155.2 225.3 L155.6 225.3 L156.0 225.3 L156.3 225.2 L156.7 225.2 L157.1 225.2 L157.4 225.2 L157.8 225.2 L158.2 225.2 L158.5 225.2 L158.9 225.1 L159.3 225.1 L159.6 225.1 L160.0 225.1 L160.4 225.1 L160.7 225.1 L161.1 225.1 L161.5 225.1 L161.8 225.1 L162.2 225.0 L162.6 225.0 L163.0 225.0 L163.3 225.0 L163.7 225.0 L164.1 225.0 L164.4 225.0 L164.8 225.0 L165.2 225.0 L165.5 225.0 L165.9 225.0 L166.3 224.9 L166.6 224.9 L167.0 224.9 L167.4 224.9 L167.7 224.9 L168.1 224.9 L168.5 224.9 L168.8 224.9 L169.2 224.9 L169.6 224.9 L169.9 224.9 L170.3 224.9 L170.7 224.9 L171.0 224.9 L171.4 224.9 L171.8 224.9 L172.1 224.9 L172.5 224.8 L172.9 224.8 L173.3 224.8 L173.6 224.8 L174.0 224.8 L174.4 224.8 L174.7 224.8 L175.1 224.8 L175.5 224.8 L175.8 224.8 L176.2 224.8 L176.6 224.8 L176.9 224.8 L177.3 224.8 L177.7 224.8 L178.0 224.8 L178.4 224.8 L178.8 224.8 L179.1 224.8 L179.5 224.8 L179.9 224.8 L180.2 224.8 L180.6 224.8 L181.0 224.8 L181.3 224.8 L181.7 224.7 L182.1 224.7 L182.4 224.7 L182.8 224.7 L183.2 224.7 L183.5 224.7 L183.9 224.7 L184.3 224.7 L184.7 224.7 L185.0 224.7 L185.4 224.7 L185.8 224.7 L186.1 224.7 L186.5 224.7 L186.9 224.7 L187.2 224.7 L187.6 224.7 L188.0 224.7 L188.3 224.7 L188.7 224.7 L189.1 224.7 L189.4 224.7 L189.8 224.7 L190.2 224.7 L190.5 224.7 L190.9 224.7 L191.3 224.7 L191.6 224.7 L192.0 224.7 L192.4 224.7 L192.7 224.7 L193.1 224.7 L193.5 224.7 L193.8 224.7 L194.2 224.7 L194.6 224.7 L195.0 224.7 L195.3 224.7 L195.7 224.7 L196.1 224.7 L196.4 224.7 L196.8 224.7 L197.2 224.7 L197.5 224.7 L197.9 224.7 L198.3 224.7 L198.6 224.7 L199.0 224.7 L199.4 224.7 L199.7 224.6 L200.1 224.6" fill="none" stroke="#00e0e0" stroke-width="1.2"/>
<path d="M16.2 224.6 L16.6 224.6 L16.9 224.6 L17.3 224.6 L17.7 224.7 L18.0 224.7 L18.4 224.7 L18.8 224.7 L19.1 224.7 L19.5 224.7 L19.9 224.7 L20.2 224.7 L20.6 224.7 L21.0 224.7 L21.3 224.7 L21.7 224.7 L22.1 224.7 L22.5 224.7 L22.8 224.7 L23.2 224.7 L23.6 224.7 L23.9 224.7 L24.3 224.7 L24.7 224.7 L25.0 224.7 L25.4 224.7 L25.8 224.7 L26.1 224.7 L26.5 224.7 L26.9 224.7 L27.2 224.7 L27.6 224.7 L28.0 224.7 L28.3 224.7 L28.7 224.7 L29.1 224.7 L29.4 224.7 L29.8 224.7 L30.2 224.7 L30.5 224.7 L30.9 224.7 L31.3 224.7 L31.6 224.7 L32.0 224.7 L32.4 224.7 L32.8 224.7 L33.1 224.7 L33.5 224.7 L33.9 224.7 L34.2 224.7 L34.6 224.7 L35.0 224.7 L35.3 224.7 L35.7 224.7 L36.1 224.7 L36.4 224.7 L36.8 224.7 L37.2 224.7 L37.5 224.7 L37.9 224.7 L38.3 224.7 L38.6 224.7 L39.0 224.8 L39.4 224.8 L39.7 224.8 L40.1 224.8 L40.5 224.8 L40.8 224.8 L41.2 224.8 L41.6 224.8 L41.9 224.8 L42.3 224.8 L42.7 224.8 L43.0 224.8 L43.4 224.8 L43.8 224.8 L44.2 224.8 L44.5 224.8 L44.9 224.8 L45.3 224.8 L45.6 224.8 L46.0 224.8 L46.4 224.8 L46.7 224.8 L47.1 224.8 L47.5 224.8 L47.8 224.8 L48.2 224.8 L48.6 224.8 L48.9 224.8 L49.3 224.8 L49.7 224.8 L50.0 224.9 L50.4 224.9 L50.8 224.9 L51.1 224.9 L51.5 224.9 L51.9 224.9 L52.2 224.9 L52.6 224.9 L53.0 224.9 L53.3 224.9 L53.7 224.9 L54.1 224.9 L54.5 224.9 L54.8 224.9 L55.2 224.9 L55.6 224.9 L55.9 224.9 L56.3 224.9 L56.7 224.9 L57.0 224.9 L57.4 225.0 L57.8 225.0 L58.1 225.0 L58.5 225.0 L58.9 225.0 L59.2 225.0 L59.6 225.0 L60.0 225.0 L60.3 225.0 L60.7 225.0 L61.1 225.0 L61.4 225.0 L61.8 225.0 L62.2 225.0 L62.5 225.1 L62.9 225.1 L63.3 225.1 L63.6 225.1 L64.0 225.1 L64.4 225.1 L64.7 225.1 L65.1 225.1 L65.5 225.1 L65.9 225.1 L66.2 225.1 L66.6 225.2 L67.0 225.2 L67.3 225.2 L67.7 225.2 L68.1 225.2 L68.4 225.2 L68.8 225.2 L69.2 225.2 L69.5 225.3 L69.9 225.3 L70.3 225.3 L70.6 225.3 L71.0 225.3 L71.4 225.3 L71.7 225.3 L72.1 225.4 L72.5 225.4 L72.8 225.4 L73.2 225.4 L73.6 225.4 L73.9 225.4 L74.3 225.5 L74.7 225.5 L75.0 225.5 L75.4 225.5 L75.8 225.5 L76.2 225.6 L76.5 225.6 L76.9 225.6 L77.3 225.6 L77.6 225.7 L78.0 225.7 L78.4 225.7 L78.7 225.7 L79.1 225.8 L79.5 225.8 L79.8 225.8 L80.2 225.9 L80.6 225.9 L80.9 225.9 L81.3 226.0 L81.7 226.0 L82.0 226.0 L82.4 226.1 L82.8 226.1 L83.1 226.2 L83.5 226.2 L83.9 226.2 L84.2 226.3 L84.6 226.3 L85.0 226.4 L85.3 226.4 L85.7 226.5 L86.1 226.6 L86.4 226.6 L86.8 226.7 L87.2 226.8 L87.6 226.8 L87.9 226.9 L88.3 227.0 L88.7 227.1 L89.0 227.2 L89.4 227.2 L89.8 227.3 L90.1 227.4 L90.5 227.6 L90.9 227.7 L91.2 227.8 L91.6 227.9 L92.0 228.1 L92.3 228.2 L92.7 228.3 L93.1 228.5 L93.4 228.7 L93.8 228.9 L94.2 229.1 L94.5 229.3 L94.9 229.5 L95.3 229.7 L95.6 230.0 L96.0 230.3 L96.4 230.6 L96.7 230.9 L97.1 231.3 L97.5 231.7 L97.9 232.1 L98.2 232.6 L98.6 233.1 L99.0 233.6 L99.3 234.2 L99.7 234.9 L100.1 235.7 L100.4 236.5 L100.8 237.4 L101.2 238.5 L101.5 239.6 L101.9 241.0 L102.3 242.5 L102.6 244.1 L103.0 246.1 L103.4 248.3 L103.7 250.8 L104.1 253.7 L104.5 257.0 L104.8 260.8 L105.2 265.1 L105.6 269.9 L105.9 275.2 L106.3 281.0 L106.7 287.0 L107.0 292.8 L107.4 298.0 L107.8 302.0 L108.2 304.4 L108.5 304.9 L108.9 303.6 L109.3 300.7 L109.6 296.9 L110.0 292.7 L110.4 288.5 L110.7 284.8 L111.1 281.8 L111.5 279.5 L111.8 278.0 L112.2 277.3 L112.6 277.6 L112.9 278.6 L113.3 280.5 L113.7 283.2 L114.0 286.6 L114.4 290.6 L114.8 294.8 L115.1 298.9 L115.5 302.3 L115.9 304.5 L116.2 304.9 L116.6 303.5 L117.0 300.2 L117.3 295.5 L117.7 289.9 L118.1 284.0 L118.4 278.1 L118.8 272.5 L119.2 267.4 L119.6 262.9 L119.9 258.8 L120.3 255.3 L120.7 252.2 L121.0 249.5 L121.4 247.1 L121.8 245.1 L122.1 243.3 L122.5 241.7 L122.9 240.3 L123.2 239.0 L123.6 237.9 L124.0 237.0 L124.3 236.1 L124.7 235.3 L125.1 234.6 L125.4 233.9 L125.8 233.3 L126.2 232.8 L126.5 232.3 L126.9 231.9 L127.3 231.5 L127.6 231.1 L128.0 230.8 L128.4 230.4 L128.7 230.1 L129.1 229.9 L129.5 229.6 L129.9 229.4 L130.2 229.2 L130.6 229.0 L131.0 228.8 L131.3 228.6 L131.7 228.4 L132.1 228.3 L132.4 228.1 L132.8 228.0 L133.2 227.9 L133.5 227.7 L133.9 227.6 L134.3 227.5 L134.6 227.4 L135.0 227.3 L135.4 227.2 L135.7 227.1 L136.1 227.0 L136.5 226.9 L136.8 226.9 L137.2 226.8 L137.6 226.7 L137.9 226.7 L138.3 226.6 L138.7 226.5 L139.0 226.5 L139.4 226.4 L139.8 226.4 L140.1 226.3 L140.5 226.3 L140.9 226.2 L141.3 226.2 L141.6 226.1 L142.0 226.1 L142.4 226.0 L142.7 226.0 L143.1 226.0 L143.5 225.9 L143.8 225.9 L144.2 225.9 L144.6 225.8 L144.9 225.8 L145.3 225.8 L145.7 225.7 L146.0 225.7 L146.4 225.7 L146.8 225.7 L147.1 225.6 L147.5 225.6 L147.9 225.6 L148.2 225.6 L148.6 225.5 L149.0 225.5 L149.3 225.5 L149.7 225.5 L150.1 225.5 L150.4 225.4 L150.8 225.4 L151.2 225.4 L151.6 225.4 L151.9 225.4 L152.3 225.4 L152.7 225.3 L153.0 225.3 L153.4 225.3 L153.8 225.3 L154.1 225.3 L154.5 225.3 L154.9 225.3 L155.2 225.2 L155.6 225.2 L156.0 225.2 L156.3 225.2 L156.7 225.2 L157.1 225.2 L157.4 225.2 L157.8 225.2 L158.2 225.1 L158.5 225.1 L158.9 225.1 L159.3 225.1 L159.6 225.1 L160.0 225.1 L160.4 225.1 L160.7 225.1 L161.1 225.1 L161.5 225.1 L161.8 225.1 L162.2 225.0 L162.6 225.0 L163.0 225.0 L163.3 225.0 L163.7 225.0 L164.1 225.0 L164.4 225.0 L164.8 225.0 L165.2 225.0 L165.5 225.0 L165.9 225.0 L166.3 225.0 L166.6 225.0 L167.0 225.0 L167.4 224.9 L167.7 224.9 L168.1 224.9 L168.5 224.9 L168.8 224.9 L169.2 224.9 L169.6 224.9 L169.9 224.9 L170.3 224.9 L170.7 224.9 L171.0 224.9 L171.4 224.9 L171.8 224.9 L172.1 224.9 L172.5 224.9 L172.9 224.9 L173.3 224.9 L173.6 224.9 L174.0 224.9 L174.4 224.9 L174.7 224.8 L175.1 224.8 L175.5 224.8 L175.8 224.8 L176.2 224.8 L176.6 224.8 L176.9 224.8 L177.3 224.8 L177.7 224.8 L178.0 224.8 L178.4 224.8 L178.8 224.8 L179.1 224.8 L179.5 224.8 L179.9 224.8 L180.2 224.8 L180.6 224.8 L181.0 224.8 L181.3 224.8 L181.7 224.8 L182.1 224.8 L182.4 224.8 L182.8 224.8 L183.2 224.8 L183.5 224.8 L183.9 224.8 L184.3 224.8 L184.7 224.8 L185.0 224.8 L185.4 224.8 L185.8 224.8 L186.1 224.7 L186.5 224.7 L186.9 224.7 L187.2 224.7 L187.6 224.7 L188.0 224.7 L188.3 224.7 L188.7 224.7 L189.1 224.7 L189.4 224.7 L189.8 224.7 L190.2 224.7 L190.5 224.7 L190.9 224.7 L191.3 224.7 L191.6 224.7 L192.0 224.7 L192.4 224.7 L192.7 224.7 L193.1 224.7 L193.5 224.7 L193.8 224.7 L194.2 224.7 L194.6 224.7 L195.0 224.7 L195.3 224.7 L195.7 224.7 L196.1 224.7 L196.4 224.7 L196.8 224.7 L197.2 224.7 L197.5 224.7 L197.9 224.7 L198.3 224.7 L198.6 224.7 L199.0 224.7 L199.4 224.7 L199.7 224.7 L200.1 224.7" fill="none" stroke="#ff00ff" stroke-width="1.6"/>
</g>
<rect x="16.2" y="211.4" width="183.9" height="147.6" fill="none" stroke="#959595" stroke-width="1.5"/>
<path d="M16.2 359V356.8M16.2 211.4V213.6M25.39 359V357.7M25.39 211.4V212.7M34.59 359V356.8M34.59 211.4V213.6M43.78 359V357.7M43.78 211.4V212.7M52.98 359V356.8M52.98 211.4V213.6M62.17 359V357.7M62.17 211.4V212.7M71.37 359V356.8M71.37 211.4V213.6M80.57 359V357.7M80.57 211.4V212.7M89.76 359V356.8M89.76 211.4V213.6M98.95 359V357.7M98.95 211.4V212.7M108.15 359V356.8M108.15 211.4V213.6M117.35 359V357.7M117.35 211.4V212.7M126.54 359V356.8M126.54 211.4V213.6M135.73 359V357.7M135.73 211.4V212.7M144.93 359V356.8M144.93 211.4V213.6M154.12 359V357.7M154.12 211.4V212.7M163.32 359V356.8M163.32 211.4V213.6M172.51 359V357.7M172.51 211.4V212.7M181.71 359V356.8M181.71 211.4V213.6M190.91 359V357.7M190.91 211.4V212.7M200.1 359V356.8M200.1 211.4V213.6M16.2 359H18.9M200.1 359H197.4M16.2 345.6H18.9M200.1 345.6H197.4M16.2 332.2H18.9M200.1 332.2H197.4M16.2 318.8H18.9M200.1 318.8H197.4M16.2 305.4H18.9M200.1 305.4H197.4M16.2 292H18.9M200.1 292H197.4M16.2 278.6H18.9M200.1 278.6H197.4M16.2 265.2H18.9M200.1 265.2H197.4M16.2 251.8H18.9M200.1 251.8H197.4M16.2 238.4H18.9M200.1 238.4H197.4M16.2 225H18.9M200.1 225H197.4" stroke="#707070" stroke-width="0.9" fill="none"/>
<text x="15.3" y="367.8" font-size="6.3" fill="#333" stroke="#333" stroke-width="0.15" text-anchor="middle">−10</text>
<text x="33.69" y="367.8" font-size="6.3" fill="#333" stroke="#333" stroke-width="0.15" text-anchor="middle">−8</text>
<text x="52.08" y="367.8" font-size="6.3" fill="#333" stroke="#333" stroke-width="0.15" text-anchor="middle">−6</text>
<text x="70.47" y="367.8" font-size="6.3" fill="#333" stroke="#333" stroke-width="0.15" text-anchor="middle">−4</text>
<text x="88.86" y="367.8" font-size="6.3" fill="#333" stroke="#333" stroke-width="0.15" text-anchor="middle">−2</text>
<text x="108.15" y="367.8" font-size="6.3" fill="#333" stroke="#333" stroke-width="0.15" text-anchor="middle">0</text>
<text x="126.54" y="367.8" font-size="6.3" fill="#333" stroke="#333" stroke-width="0.15" text-anchor="middle">2</text>
<text x="144.93" y="367.8" font-size="6.3" fill="#333" stroke="#333" stroke-width="0.15" text-anchor="middle">4</text>
<text x="163.32" y="367.8" font-size="6.3" fill="#333" stroke="#333" stroke-width="0.15" text-anchor="middle">6</text>
<text x="181.71" y="367.8" font-size="6.3" fill="#333" stroke="#333" stroke-width="0.15" text-anchor="middle">8</text>
<text x="200.1" y="367.8" font-size="6.3" fill="#333" stroke="#333" stroke-width="0.15" text-anchor="middle">10</text>
<text x="84.2" y="378.8" font-size="7.5" textLength="51.3" lengthAdjust="spacing" fill="#222" stroke="#222" stroke-width="0.14">Velocity (mm/s)</text>
<text transform="translate(10.3 338.6) rotate(-90)" font-size="7.35" textLength="106.8" lengthAdjust="spacing" fill="#222" stroke="#222" stroke-width="0.14">Relative transmission (arb. units)</text>
<text x="135.7" y="400.6" font-size="13.3" fill="#111" text-anchor="middle" style="font-family:'Liberation Serif',serif">(<tspan font-weight="bold" font-size="14.5">c</tspan>)</text>
<rect x="204.3" y="211.4" width="60.2" height="57.5" fill="#fff" stroke="#c8c8c8" stroke-width="1"/>
<path d="M265.1 212.4V269.5H205.3" stroke="#b0b0b0" stroke-width="1.2" fill="none"/>
<rect x="213.6" y="215.6" width="1.2" height="1.2" fill="#666"/>
<text x="225" y="218.5" font-size="7.7" letter-spacing="0" fill="#222" stroke="#222" stroke-width="0.14">Experi data</text>
<path d="M205.9 225.75H222.5" stroke="#ff7878" stroke-width="1.8"/>
<text x="225" y="228.05" font-size="7.7" letter-spacing="0" fill="#222" stroke="#222" stroke-width="0.14">Fitting</text>
<path d="M205.9 235.3H222.5" stroke="#80ff80" stroke-width="1.2"/>
<text x="225" y="237.6" font-size="7.7" letter-spacing="0" fill="#222" stroke="#222" stroke-width="0.14">Sextet 1</text>
<path d="M205.9 244.85H222.5" stroke="#8080ff" stroke-width="1.8"/>
<text x="225" y="247.15" font-size="7.7" letter-spacing="0" fill="#222" stroke="#222" stroke-width="0.14">Sextet 2</text>
<path d="M205.9 254.4H222.5" stroke="#60ffff" stroke-width="1"/>
<circle cx="214.2" cy="254.4" r="1.1" fill="#00d8d8"/>
<text x="225" y="256.7" font-size="7.7" letter-spacing="0" fill="#222" stroke="#222" stroke-width="0.14">Doublet 1</text>
<path d="M205.9 263.95H222.5" stroke="#ff70ff" stroke-width="1.4"/>
<circle cx="214.2" cy="263.95" r="1.1" fill="#e000e0"/>
<text x="225" y="266.25" font-size="7.7" letter-spacing="0" fill="#222" stroke="#222" stroke-width="0.14">Doublet 2</text>
<defs><clipPath id="clipd"><rect x="299.3" y="211.2" width="183.5" height="148.6"/></clipPath></defs>
<g clip-path="url(#clipd)">
<path d="M299.3 247.2 L299.7 247.2 L300.0 247.3 L300.4 247.3 L300.8 247.3 L301.1 247.3 L301.5 247.3 L301.9 247.4 L302.2 247.4 L302.6 247.4 L303.0 247.5 L303.3 247.5 L303.7 247.5 L304.1 247.5 L304.4 247.6 L304.8 247.6 L305.2 247.7 L305.5 247.7 L305.9 247.7 L306.3 247.8 L306.6 247.8 L307.0 247.9 L307.4 247.9 L307.7 248.0 L308.1 248.0 L308.5 248.1 L308.8 248.2 L309.2 248.2 L309.6 248.3 L309.9 248.4 L310.3 248.5 L310.7 248.6 L311.0 248.7 L311.4 248.8 L311.8 248.9 L312.1 249.1 L312.5 249.2 L312.9 249.3 L313.2 249.5 L313.6 249.7 L314.0 249.9 L314.3 250.2 L314.7 250.4 L315.1 250.7 L315.4 251.0 L315.8 251.4 L316.2 251.9 L316.5 252.4 L316.9 252.9 L317.3 253.6 L317.7 254.5 L318.0 255.5 L318.4 256.7 L318.8 258.2 L319.1 260.1 L319.5 262.5 L319.9 265.6 L320.2 269.6 L320.6 274.9 L321.0 281.7 L321.3 289.8 L321.7 298.4 L322.1 305.2 L322.4 307.1 L322.8 303.4 L323.2 296.3 L323.5 288.7 L323.9 282.3 L324.3 277.4 L324.6 274.0 L325.0 271.9 L325.4 270.7 L325.7 270.3 L326.1 270.7 L326.5 271.6 L326.8 273.2 L327.2 275.3 L327.6 277.9 L327.9 280.8 L328.3 284.0 L328.7 287.0 L329.0 289.5 L329.4 291.0 L329.8 291.1 L330.1 289.9 L330.5 287.4 L330.9 284.1 L331.2 280.5 L331.6 276.8 L332.0 273.4 L332.3 270.3 L332.7 267.5 L333.1 265.2 L333.4 263.1 L333.8 261.4 L334.2 259.9 L334.5 258.7 L334.9 257.6 L335.3 256.6 L335.6 255.8 L336.0 255.2 L336.4 254.6 L336.7 254.0 L337.1 253.6 L337.5 253.2 L337.8 252.9 L338.2 252.6 L338.6 252.3 L338.9 252.1 L339.3 251.9 L339.7 251.8 L340.0 251.6 L340.4 251.5 L340.8 251.4 L341.1 251.4 L341.5 251.3 L341.9 251.3 L342.2 251.3 L342.6 251.3 L343.0 251.4 L343.3 251.4 L343.7 251.5 L344.1 251.6 L344.4 251.7 L344.8 251.9 L345.2 252.1 L345.5 252.3 L345.9 252.6 L346.3 252.9 L346.6 253.3 L347.0 253.7 L347.4 254.3 L347.7 255.0 L348.1 255.8 L348.5 256.8 L348.8 258.1 L349.2 259.7 L349.6 261.8 L349.9 264.5 L350.3 268.1 L350.7 272.6 L351.0 278.2 L351.4 284.3 L351.8 289.7 L352.1 292.2 L352.5 290.9 L352.9 286.7 L353.2 281.8 L353.6 277.6 L354.0 274.5 L354.4 272.6 L354.7 271.7 L355.1 271.7 L355.5 272.4 L355.8 273.7 L356.2 275.6 L356.6 277.8 L356.9 280.1 L357.3 282.4 L357.7 284.1 L358.0 285.0 L358.4 284.7 L358.8 283.4 L359.1 281.1 L359.5 278.3 L359.9 275.3 L360.2 272.3 L360.6 269.5 L361.0 267.0 L361.3 264.9 L361.7 263.0 L362.1 261.4 L362.4 260.1 L362.8 258.9 L363.2 257.9 L363.5 257.1 L363.9 256.4 L364.3 255.8 L364.6 255.2 L365.0 254.8 L365.4 254.4 L365.7 254.1 L366.1 253.8 L366.5 253.6 L366.8 253.4 L367.2 253.2 L367.6 253.1 L367.9 253.0 L368.3 252.9 L368.7 252.8 L369.0 252.8 L369.4 252.8 L369.8 252.8 L370.1 252.8 L370.5 252.8 L370.9 252.8 L371.2 252.9 L371.6 253.0 L372.0 253.1 L372.3 253.2 L372.7 253.3 L373.1 253.4 L373.4 253.6 L373.8 253.8 L374.2 253.9 L374.5 254.2 L374.9 254.4 L375.3 254.6 L375.6 254.9 L376.0 255.2 L376.4 255.6 L376.7 255.9 L377.1 256.3 L377.5 256.8 L377.8 257.3 L378.2 257.8 L378.6 258.4 L378.9 259.1 L379.3 259.9 L379.7 260.8 L380.0 261.9 L380.4 263.1 L380.8 264.5 L381.1 266.3 L381.5 268.3 L381.9 270.7 L382.2 273.4 L382.6 275.8 L383.0 277.6 L383.3 278.7 L383.7 279.5 L384.1 280.5 L384.4 281.9 L384.8 283.9 L385.2 286.3 L385.5 289.1 L385.9 292.0 L386.3 294.6 L386.6 296.9 L387.0 298.6 L387.4 299.9 L387.7 300.9 L388.1 301.9 L388.5 302.9 L388.8 303.9 L389.2 304.8 L389.6 305.5 L389.9 306.0 L390.3 306.1 L390.7 305.7 L391.1 304.9 L391.4 303.6 L391.8 302.0 L392.2 300.0 L392.5 297.8 L392.9 295.5 L393.3 293.2 L393.6 290.8 L394.0 288.6 L394.4 286.4 L394.7 284.4 L395.1 282.6 L395.5 281.0 L395.8 279.5 L396.2 278.2 L396.6 277.0 L396.9 276.1 L397.3 275.3 L397.7 274.7 L398.0 274.2 L398.4 273.9 L398.8 273.7 L399.1 273.7 L399.5 273.9 L399.9 274.2 L400.2 274.7 L400.6 275.3 L401.0 276.2 L401.3 277.3 L401.7 278.6 L402.1 280.2 L402.4 282.1 L402.8 284.4 L403.2 287.1 L403.5 290.4 L403.9 294.2 L404.3 298.7 L404.6 303.5 L405.0 308.0 L405.4 311.6 L405.7 314.0 L406.1 315.6 L406.5 317.0 L406.8 318.4 L407.2 319.5 L407.6 320.0 L407.9 319.6 L408.3 318.2 L408.7 315.8 L409.0 312.8 L409.4 309.4 L409.8 305.8 L410.1 302.2 L410.5 298.6 L410.9 295.1 L411.2 291.8 L411.6 288.6 L412.0 285.7 L412.3 282.9 L412.7 280.4 L413.1 278.0 L413.4 275.9 L413.8 273.9 L414.2 272.1 L414.5 270.4 L414.9 268.9 L415.3 267.6 L415.6 266.3 L416.0 265.2 L416.4 264.2 L416.7 263.2 L417.1 262.4 L417.5 261.6 L417.8 260.9 L418.2 260.2 L418.6 259.6 L418.9 259.1 L419.3 258.6 L419.7 258.1 L420.0 257.7 L420.4 257.3 L420.8 257.0 L421.1 256.7 L421.5 256.4 L421.9 256.2 L422.2 255.9 L422.6 255.8 L423.0 255.6 L423.3 255.5 L423.7 255.4 L424.1 255.3 L424.4 255.3 L424.8 255.2 L425.2 255.2 L425.5 255.3 L425.9 255.4 L426.3 255.5 L426.6 255.6 L427.0 255.8 L427.4 256.1 L427.8 256.4 L428.1 256.8 L428.5 257.2 L428.9 257.7 L429.2 258.4 L429.6 259.1 L430.0 260.0 L430.3 261.1 L430.7 262.3 L431.1 263.9 L431.4 265.7 L431.8 267.9 L432.2 270.5 L432.5 273.8 L432.9 277.7 L433.3 282.4 L433.6 288.0 L434.0 294.5 L434.4 301.7 L434.7 308.6 L435.1 314.2 L435.5 316.9 L435.8 315.9 L436.2 311.7 L436.6 305.5 L436.9 298.7 L437.3 292.1 L437.7 286.1 L438.0 280.8 L438.4 276.4 L438.8 272.6 L439.1 269.4 L439.5 266.8 L439.9 264.6 L440.2 262.7 L440.6 261.1 L441.0 259.8 L441.3 258.6 L441.7 257.6 L442.1 256.8 L442.4 256.1 L442.8 255.4 L443.2 254.9 L443.5 254.4 L443.9 253.9 L444.3 253.6 L444.6 253.2 L445.0 252.9 L445.4 252.7 L445.7 252.5 L446.1 252.3 L446.5 252.1 L446.8 251.9 L447.2 251.8 L447.6 251.7 L447.9 251.6 L448.3 251.5 L448.7 251.5 L449.0 251.4 L449.4 251.4 L449.8 251.4 L450.1 251.4 L450.5 251.4 L450.9 251.5 L451.2 251.5 L451.6 251.6 L452.0 251.7 L452.3 251.8 L452.7 251.9 L453.1 252.0 L453.4 252.2 L453.8 252.4 L454.2 252.6 L454.5 252.9 L454.9 253.2 L455.3 253.5 L455.6 253.9 L456.0 254.4 L456.4 254.9 L456.7 255.4 L457.1 256.1 L457.5 256.9 L457.8 257.8 L458.2 258.8 L458.6 260.0 L458.9 261.4 L459.3 263.0 L459.7 265.0 L460.0 267.3 L460.4 270.0 L460.8 273.2 L461.1 277.0 L461.5 281.5 L461.9 286.8 L462.2 292.9 L462.6 299.7 L463.0 307.3 L463.3 315.4 L463.7 323.7 L464.1 331.7 L464.5 338.1 L464.8 340.4 L465.2 336.7 L465.6 327.6 L465.9 315.9 L466.3 304.5 L466.7 294.7 L467.0 286.7 L467.4 280.3 L467.8 275.2 L468.1 271.1 L468.5 267.8 L468.9 265.1 L469.2 262.9 L469.6 261.1 L470.0 259.5 L470.3 258.2 L470.7 257.1 L471.1 256.1 L471.4 255.3 L471.8 254.5 L472.2 253.9 L472.5 253.3 L472.9 252.8 L473.3 252.4 L473.6 252.0 L474.0 251.6 L474.4 251.3 L474.7 251.0 L475.1 250.7 L475.5 250.5 L475.8 250.3 L476.2 250.1 L476.6 249.9 L476.9 249.7 L477.3 249.5 L477.7 249.4 L478.0 249.3 L478.4 249.1 L478.8 249.0 L479.1 248.9 L479.5 248.8 L479.9 248.7 L480.2 248.6 L480.6 248.5 L481.0 248.5 L481.3 248.4 L481.7 248.3 L482.1 248.3 L482.4 248.2 L482.8 248.1" fill="none" stroke="#ff4040" stroke-width="1.0"/>
<path d="M299.7 247.6h0M300.4 251.9h0M301.1 242.7h0M301.8 250.9h0M302.5 256.7h0M303.2 251.6h0M304.0 263.2h0M304.7 238.8h0M305.4 248.4h0M306.1 240.7h0M306.8 240.0h0M307.5 246.1h0M308.3 250.3h0M309.0 252.4h0M309.7 253.4h0M310.4 270.9h0M311.1 257.3h0M311.8 233.0h0M312.6 251.3h0M313.3 243.3h0M314.0 244.8h0M314.7 263.5h0M315.4 248.8h0M316.1 232.3h0M316.9 256.0h0M317.6 251.4h0M318.3 244.6h0M319.0 250.3h0M319.7 258.2h0M320.4 272.5h0M321.2 281.9h0M321.9 303.1h0M322.6 324.3h0M323.3 285.0h0M324.0 272.1h0M324.7 270.7h0M325.5 281.5h0M326.2 263.8h0M326.9 287.9h0M327.6 265.2h0M328.3 274.0h0M329.0 289.1h0M329.8 282.5h0M330.5 281.3h0M331.2 285.3h0M331.9 281.1h0M332.6 269.1h0M333.3 260.8h0M334.1 273.7h0M334.8 261.9h0M335.5 253.8h0M336.2 266.9h0M336.9 244.8h0M337.6 254.7h0M338.4 259.1h0M339.1 251.9h0M339.8 246.0h0M340.5 255.0h0M341.2 246.0h0M341.9 245.4h0M342.7 241.1h0M343.4 264.5h0M344.1 246.1h0M344.8 263.4h0M345.5 256.1h0M346.3 250.3h0M347.0 260.4h0M347.7 257.6h0M348.4 257.9h0M349.1 245.5h0M349.8 264.3h0M350.6 279.8h0M351.3 286.7h0M352.0 301.5h0M352.7 303.9h0M353.4 283.8h0M354.1 293.3h0M354.9 256.5h0M355.6 270.4h0M356.3 250.9h0M357.0 288.9h0M357.7 285.3h0M358.4 301.5h0M359.2 277.2h0M359.9 254.9h0M360.6 282.3h0M361.3 251.6h0M362.0 248.9h0M362.7 257.3h0M363.5 263.5h0M364.2 250.8h0M364.9 256.8h0M365.6 235.4h0M366.3 271.0h0M367.0 252.6h0M367.8 254.2h0M368.5 258.7h0M369.2 254.5h0M369.9 254.8h0M370.6 243.5h0M371.3 251.8h0M372.1 257.5h0M372.8 263.7h0M373.5 252.4h0M374.2 254.9h0M374.9 257.8h0M375.6 260.6h0M376.4 257.6h0M377.1 253.8h0M377.8 252.1h0M378.5 269.6h0M379.2 262.7h0M379.9 261.8h0M380.7 298.8h0M381.4 276.4h0M382.1 280.8h0M382.8 278.4h0M383.5 269.0h0M384.2 292.4h0M385.0 283.9h0M385.7 290.6h0M386.4 305.6h0M387.1 309.1h0M387.8 303.5h0M388.5 303.2h0M389.3 325.9h0M390.0 311.7h0M390.7 295.4h0M391.4 311.1h0M392.1 301.7h0M392.8 296.1h0M393.6 298.0h0M394.3 289.2h0M395.0 303.1h0M395.7 281.9h0M396.4 279.9h0M397.1 287.2h0M397.9 268.7h0M398.6 283.9h0M399.3 273.1h0M400.0 286.2h0M400.7 267.1h0M401.4 281.9h0M402.2 264.7h0M402.9 280.6h0M403.6 291.2h0M404.3 304.3h0M405.0 328.1h0M405.7 332.4h0M406.5 303.6h0M407.2 311.9h0M407.9 332.2h0M408.6 320.6h0M409.3 296.5h0M410.0 307.9h0M410.8 284.9h0M411.5 281.1h0M412.2 271.4h0M412.9 276.4h0M413.6 297.3h0M414.3 275.1h0M415.1 267.3h0M415.8 291.0h0M416.5 259.2h0M417.2 260.6h0M417.9 258.1h0M418.6 263.7h0M419.4 255.4h0M420.1 272.2h0M420.8 254.0h0M421.5 262.0h0M422.2 258.2h0M422.9 247.0h0M423.7 245.6h0M424.4 254.8h0M425.1 232.3h0M425.8 255.5h0M426.5 256.4h0M427.2 257.4h0M428.0 255.8h0M428.7 261.0h0M429.4 255.2h0M430.1 266.9h0M430.8 246.7h0M431.5 275.5h0M432.3 262.7h0M433.0 283.7h0M433.7 284.7h0M434.4 298.6h0M435.1 306.8h0M435.8 329.1h0M436.6 294.5h0M437.3 280.2h0M438.0 283.3h0M438.7 275.6h0M439.4 267.6h0M440.2 253.5h0M440.9 253.6h0M441.6 267.0h0M442.3 246.0h0M443.0 261.2h0M443.7 261.4h0M444.5 254.7h0M445.2 240.7h0M445.9 271.4h0M446.6 253.3h0M447.3 253.8h0M448.0 247.9h0M448.8 242.0h0M449.5 248.8h0M450.2 253.4h0M450.9 243.1h0M451.6 252.8h0M452.3 263.3h0M453.1 256.4h0M453.8 251.4h0M454.5 263.3h0M455.2 262.6h0M455.9 263.3h0M456.6 247.4h0M457.4 238.5h0M458.1 266.3h0M458.8 261.4h0M459.5 260.3h0M460.2 273.3h0M460.9 270.3h0M461.7 277.3h0M462.4 313.1h0M463.1 293.8h0M463.8 334.1h0M464.5 349.0h0M465.2 353.3h0M466.0 317.3h0M466.7 299.3h0M467.4 271.2h0M468.1 271.6h0M468.8 244.4h0M469.5 255.7h0M470.3 258.2h0M471.0 255.3h0M471.7 250.0h0M472.4 265.1h0M473.1 236.7h0M473.8 253.1h0M474.6 247.2h0M475.3 251.0h0M476.0 250.7h0M476.7 269.2h0M477.4 238.9h0M478.1 262.6h0M478.9 263.0h0M479.6 247.5h0M480.3 242.5h0M481.0 236.2h0M481.7 239.8h0M482.4 268.6h0" stroke="#666" stroke-width="1.4" stroke-linecap="square" fill="none"/>
<path d="M299.3 246.5 L299.7 246.5 L300.0 246.5 L300.4 246.5 L300.8 246.5 L301.1 246.5 L301.5 246.6 L301.9 246.6 L302.2 246.6 L302.6 246.6 L303.0 246.6 L303.3 246.6 L303.7 246.6 L304.1 246.7 L304.4 246.7 L304.8 246.7 L305.2 246.7 L305.5 246.7 L305.9 246.8 L306.3 246.8 L306.6 246.8 L307.0 246.8 L307.4 246.9 L307.7 246.9 L308.1 246.9 L308.5 247.0 L308.8 247.0 L309.2 247.0 L309.6 247.1 L309.9 247.1 L310.3 247.2 L310.7 247.2 L311.0 247.3 L311.4 247.4 L311.8 247.5 L312.1 247.5 L312.5 247.6 L312.9 247.7 L313.2 247.9 L313.6 248.0 L314.0 248.1 L314.3 248.3 L314.7 248.5 L315.1 248.7 L315.4 249.0 L315.8 249.3 L316.2 249.6 L316.5 250.0 L316.9 250.5 L317.3 251.1 L317.7 251.8 L318.0 252.7 L318.4 253.7 L318.8 255.1 L319.1 256.8 L319.5 259.0 L319.9 261.9 L320.2 265.7 L320.6 270.8 L321.0 277.2 L321.3 285.1 L321.7 293.4 L322.1 299.7 L322.4 301.1 L322.8 297.0 L323.2 289.3 L323.5 281.0 L323.9 273.8 L324.3 268.1 L324.6 263.7 L325.0 260.4 L325.4 257.9 L325.7 255.9 L326.1 254.4 L326.5 253.2 L326.8 252.3 L327.2 251.5 L327.6 250.9 L327.9 250.3 L328.3 249.9 L328.7 249.5 L329.0 249.2 L329.4 249.0 L329.8 248.7 L330.1 248.5 L330.5 248.4 L330.9 248.2 L331.2 248.1 L331.6 248.0 L332.0 247.9 L332.3 247.8 L332.7 247.7 L333.1 247.6 L333.4 247.6 L333.8 247.5 L334.2 247.5 L334.5 247.4 L334.9 247.4 L335.3 247.3 L335.6 247.3 L336.0 247.3 L336.4 247.3 L336.7 247.3 L337.1 247.2 L337.5 247.2 L337.8 247.2 L338.2 247.2 L338.6 247.2 L338.9 247.2 L339.3 247.3 L339.7 247.3 L340.0 247.3 L340.4 247.3 L340.8 247.3 L341.1 247.4 L341.5 247.4 L341.9 247.4 L342.2 247.5 L342.6 247.6 L343.0 247.6 L343.3 247.7 L343.7 247.8 L344.1 247.9 L344.4 248.0 L344.8 248.2 L345.2 248.3 L345.5 248.5 L345.9 248.7 L346.3 249.0 L346.6 249.3 L347.0 249.7 L347.4 250.1 L347.7 250.7 L348.1 251.4 L348.5 252.3 L348.8 253.4 L349.2 254.8 L349.6 256.7 L349.9 259.1 L350.3 262.4 L350.7 266.6 L351.0 271.8 L351.4 277.5 L351.8 282.4 L352.1 284.4 L352.5 282.4 L352.9 277.5 L353.2 271.8 L353.6 266.6 L354.0 262.3 L354.4 259.1 L354.7 256.6 L355.1 254.8 L355.5 253.3 L355.8 252.2 L356.2 251.3 L356.6 250.6 L356.9 250.1 L357.3 249.6 L357.7 249.2 L358.0 248.9 L358.4 248.6 L358.8 248.4 L359.1 248.2 L359.5 248.0 L359.9 247.9 L360.2 247.7 L360.6 247.6 L361.0 247.5 L361.3 247.5 L361.7 247.4 L362.1 247.3 L362.4 247.2 L362.8 247.2 L363.2 247.1 L363.5 247.1 L363.9 247.0 L364.3 247.0 L364.6 247.0 L365.0 246.9 L365.4 246.9 L365.7 246.9 L366.1 246.9 L366.5 246.9 L366.8 246.8 L367.2 246.8 L367.6 246.8 L367.9 246.8 L368.3 246.8 L368.7 246.8 L369.0 246.8 L369.4 246.8 L369.8 246.7 L370.1 246.7 L370.5 246.7 L370.9 246.7 L371.2 246.7 L371.6 246.7 L372.0 246.7 L372.3 246.7 L372.7 246.7 L373.1 246.8 L373.4 246.8 L373.8 246.8 L374.2 246.8 L374.5 246.8 L374.9 246.8 L375.3 246.9 L375.6 246.9 L376.0 246.9 L376.4 247.0 L376.7 247.0 L377.1 247.1 L377.5 247.2 L377.8 247.3 L378.2 247.4 L378.6 247.5 L378.9 247.7 L379.3 247.9 L379.7 248.2 L380.0 248.5 L380.4 249.0 L380.8 249.6 L381.1 250.5 L381.5 251.5 L381.9 252.8 L382.2 254.2 L382.6 255.2 L383.0 255.4 L383.3 254.7 L383.7 253.5 L384.1 252.1 L384.4 251.0 L384.8 250.0 L385.2 249.3 L385.5 248.8 L385.9 248.4 L386.3 248.0 L386.6 247.8 L387.0 247.6 L387.4 247.4 L387.7 247.3 L388.1 247.2 L388.5 247.1 L388.8 247.1 L389.2 247.0 L389.6 247.0 L389.9 246.9 L390.3 246.9 L390.7 246.9 L391.1 246.8 L391.4 246.8 L391.8 246.8 L392.2 246.8 L392.5 246.8 L392.9 246.8 L393.3 246.8 L393.6 246.8 L394.0 246.8 L394.4 246.8 L394.7 246.8 L395.1 246.8 L395.5 246.8 L395.8 246.9 L396.2 246.9 L396.6 246.9 L396.9 246.9 L397.3 247.0 L397.7 247.0 L398.0 247.1 L398.4 247.1 L398.8 247.2 L399.1 247.3 L399.5 247.4 L399.9 247.5 L400.2 247.6 L400.6 247.8 L401.0 248.0 L401.3 248.3 L401.7 248.6 L402.1 249.0 L402.4 249.6 L402.8 250.3 L403.2 251.2 L403.5 252.4 L403.9 254.0 L404.3 256.0 L404.6 258.0 L405.0 259.5 L405.4 259.9 L405.7 258.9 L406.1 257.0 L406.5 255.0 L406.8 253.2 L407.2 251.8 L407.6 250.7 L407.9 249.9 L408.3 249.3 L408.7 248.8 L409.0 248.5 L409.4 248.2 L409.8 247.9 L410.1 247.7 L410.5 247.6 L410.9 247.5 L411.2 247.4 L411.6 247.3 L412.0 247.2 L412.3 247.1 L412.7 247.1 L413.1 247.0 L413.4 247.0 L413.8 247.0 L414.2 247.0 L414.5 246.9 L414.9 246.9 L415.3 246.9 L415.6 246.9 L416.0 246.9 L416.4 246.9 L416.7 246.9 L417.1 246.9 L417.5 246.9 L417.8 246.9 L418.2 246.9 L418.6 246.9 L418.9 246.9 L419.3 246.9 L419.7 246.9 L420.0 246.9 L420.4 246.9 L420.8 247.0 L421.1 247.0 L421.5 247.0 L421.9 247.0 L422.2 247.1 L422.6 247.1 L423.0 247.1 L423.3 247.2 L423.7 247.2 L424.1 247.2 L424.4 247.3 L424.8 247.4 L425.2 247.4 L425.5 247.5 L425.9 247.6 L426.3 247.7 L426.6 247.8 L427.0 247.9 L427.4 248.0 L427.8 248.2 L428.1 248.3 L428.5 248.5 L428.9 248.8 L429.2 249.0 L429.6 249.3 L430.0 249.7 L430.3 250.1 L430.7 250.6 L431.1 251.3 L431.4 252.0 L431.8 253.0 L432.2 254.2 L432.5 255.7 L432.9 257.5 L433.3 259.9 L433.6 262.9 L434.0 266.5 L434.4 270.7 L434.7 274.9 L435.1 278.1 L435.5 279.4 L435.8 278.1 L436.2 274.9 L436.6 270.7 L436.9 266.5 L437.3 262.9 L437.7 259.9 L438.0 257.6 L438.4 255.7 L438.8 254.2 L439.1 253.0 L439.5 252.1 L439.9 251.3 L440.2 250.7 L440.6 250.2 L441.0 249.8 L441.3 249.4 L441.7 249.1 L442.1 248.8 L442.4 248.6 L442.8 248.4 L443.2 248.3 L443.5 248.1 L443.9 248.0 L444.3 247.9 L444.6 247.8 L445.0 247.7 L445.4 247.7 L445.7 247.6 L446.1 247.5 L446.5 247.5 L446.8 247.4 L447.2 247.4 L447.6 247.4 L447.9 247.4 L448.3 247.3 L448.7 247.3 L449.0 247.3 L449.4 247.3 L449.8 247.3 L450.1 247.3 L450.5 247.3 L450.9 247.3 L451.2 247.3 L451.6 247.3 L452.0 247.3 L452.3 247.4 L452.7 247.4 L453.1 247.4 L453.4 247.5 L453.8 247.5 L454.2 247.6 L454.5 247.6 L454.9 247.7 L455.3 247.8 L455.6 247.9 L456.0 248.0 L456.4 248.1 L456.7 248.2 L457.1 248.3 L457.5 248.5 L457.8 248.7 L458.2 249.0 L458.6 249.2 L458.9 249.5 L459.3 249.9 L459.7 250.4 L460.0 250.9 L460.4 251.6 L460.8 252.4 L461.1 253.4 L461.5 254.7 L461.9 256.4 L462.2 258.5 L462.6 261.4 L463.0 265.1 L463.3 269.9 L463.7 276.2 L464.1 283.5 L464.5 290.8 L464.8 295.7 L465.2 295.7 L465.6 290.8 L465.9 283.5 L466.3 276.1 L466.7 269.9 L467.0 265.0 L467.4 261.3 L467.8 258.5 L468.1 256.3 L468.5 254.7 L468.9 253.4 L469.2 252.3 L469.6 251.5 L470.0 250.8 L470.3 250.3 L470.7 249.8 L471.1 249.4 L471.4 249.1 L471.8 248.8 L472.2 248.6 L472.5 248.4 L472.9 248.2 L473.3 248.0 L473.6 247.9 L474.0 247.8 L474.4 247.6 L474.7 247.5 L475.1 247.5 L475.5 247.4 L475.8 247.3 L476.2 247.2 L476.6 247.2 L476.9 247.1 L477.3 247.1 L477.7 247.0 L478.0 247.0 L478.4 246.9 L478.8 246.9 L479.1 246.9 L479.5 246.8 L479.9 246.8 L480.2 246.8 L480.6 246.8 L481.0 246.7 L481.3 246.7 L481.7 246.7 L482.1 246.7 L482.4 246.7 L482.8 246.6" fill="none" stroke="#80ff80" stroke-width="1"/>
<path d="M299.5 246.5h0M300.0 246.5h0M300.5 246.5h0M301.0 246.5h0M301.5 246.6h0M301.9 246.6h0M302.4 246.6h0M302.9 246.6h0M303.4 246.6h0M303.8 246.6h0M304.3 246.7h0M304.8 246.7h0M305.3 246.7h0M305.8 246.7h0M306.2 246.8h0M306.7 246.8h0M307.2 246.8h0M307.7 246.9h0M308.1 246.9h0M308.6 247.0h0M309.1 247.0h0M309.6 247.1h0M310.1 247.1h0M310.5 247.2h0M311.0 247.3h0M311.5 247.4h0M312.0 247.5h0M312.4 247.6h0M312.9 247.8h0M313.4 247.9h0M313.9 248.1h0M314.4 248.3h0M314.8 248.6h0M315.3 248.9h0M315.8 249.2h0M316.3 249.7h0M316.7 250.3h0M317.2 251.0h0M317.7 251.9h0M318.2 253.1h0M318.7 254.7h0M319.1 256.9h0M319.6 259.9h0M320.1 264.3h0M320.6 270.4h0M321.0 279.1h0M321.5 289.7h0M322.0 299.0h0M322.5 300.8h0M323.0 293.7h0M323.4 283.0h0M323.9 273.5h0M324.4 266.4h0M324.9 261.4h0M325.3 258.0h0M325.8 255.5h0M326.3 253.7h0M326.8 252.4h0M327.3 251.4h0M327.7 250.6h0M328.2 250.0h0M328.7 249.5h0M329.2 249.1h0M329.6 248.8h0M330.1 248.5h0M330.6 248.3h0M331.1 248.1h0M331.6 248.0h0M332.0 247.8h0M332.5 247.7h0M333.0 247.6h0M333.5 247.6h0M333.9 247.5h0M334.4 247.4h0M334.9 247.4h0M335.4 247.3h0M335.9 247.3h0M336.3 247.3h0M336.8 247.3h0M337.3 247.2h0M337.8 247.2h0M338.2 247.2h0M338.7 247.2h0M339.2 247.2h0M339.7 247.3h0M340.2 247.3h0M340.6 247.3h0M341.1 247.4h0M341.6 247.4h0M342.1 247.5h0M342.5 247.5h0M343.0 247.6h0M343.5 247.7h0M344.0 247.9h0M344.5 248.0h0M344.9 248.2h0M345.4 248.4h0M345.9 248.7h0M346.4 249.1h0M346.8 249.5h0M347.3 250.1h0M347.8 250.8h0M348.3 251.8h0M348.8 253.1h0M349.2 254.9h0M349.7 257.5h0M350.2 261.2h0M350.7 266.5h0M351.1 273.4h0M351.6 280.6h0M352.1 284.4h0M352.6 281.7h0M353.1 274.7h0M353.5 267.6h0M354.0 262.0h0M354.5 258.0h0M355.0 255.3h0M355.4 253.3h0M355.9 251.9h0M356.4 250.9h0M356.9 250.1h0M357.4 249.5h0M357.8 249.0h0M358.3 248.7h0M358.8 248.4h0M359.3 248.1h0M359.7 247.9h0M360.2 247.7h0M360.7 247.6h0M361.2 247.5h0M361.7 247.4h0M362.1 247.3h0M362.6 247.2h0M363.1 247.1h0M363.6 247.1h0M364.1 247.0h0M364.5 247.0h0M365.0 246.9h0M365.5 246.9h0M366.0 246.9h0M366.4 246.9h0M366.9 246.8h0M367.4 246.8h0M367.9 246.8h0M368.4 246.8h0M368.8 246.8h0M369.3 246.8h0M369.8 246.7h0M370.3 246.7h0M370.7 246.7h0M371.2 246.7h0M371.7 246.7h0M372.2 246.7h0M372.7 246.7h0M373.1 246.8h0M373.6 246.8h0M374.1 246.8h0M374.6 246.8h0M375.0 246.8h0M375.5 246.9h0M376.0 246.9h0M376.5 247.0h0M377.0 247.1h0M377.4 247.2h0M377.9 247.3h0M378.4 247.4h0M378.9 247.6h0M379.3 247.9h0M379.8 248.3h0M380.3 248.9h0M380.8 249.6h0M381.3 250.8h0M381.7 252.3h0M382.2 254.0h0M382.7 255.3h0M383.2 255.2h0M383.6 253.7h0M384.1 252.0h0M384.6 250.5h0M385.1 249.5h0M385.6 248.8h0M386.0 248.2h0M386.5 247.9h0M387.0 247.6h0M387.5 247.4h0M387.9 247.3h0M388.4 247.1h0M388.9 247.1h0M389.4 247.0h0M389.9 246.9h0M390.3 246.9h0M390.8 246.9h0M391.3 246.8h0M391.8 246.8h0M392.2 246.8h0M392.7 246.8h0M393.2 246.8h0M393.7 246.8h0M394.2 246.8h0M394.6 246.8h0M395.1 246.8h0M395.6 246.8h0M396.1 246.9h0M396.5 246.9h0M397.0 246.9h0M397.5 247.0h0M398.0 247.1h0M398.5 247.1h0M398.9 247.2h0M399.4 247.4h0M399.9 247.5h0M400.4 247.7h0M400.8 247.9h0M401.3 248.3h0M401.8 248.7h0M402.3 249.3h0M402.8 250.2h0M403.2 251.4h0M403.7 253.2h0M404.2 255.6h0M404.7 258.2h0M405.1 259.9h0M405.6 259.3h0M406.1 257.0h0M406.6 254.4h0M407.1 252.3h0M407.5 250.8h0M408.0 249.8h0M408.5 249.0h0M409.0 248.5h0M409.4 248.1h0M409.9 247.8h0M410.4 247.6h0M410.9 247.5h0M411.4 247.3h0M411.8 247.2h0M412.3 247.1h0M412.8 247.1h0M413.3 247.0h0M413.7 247.0h0M414.2 247.0h0M414.7 246.9h0M415.2 246.9h0M415.7 246.9h0M416.1 246.9h0M416.6 246.9h0M417.1 246.9h0M417.6 246.9h0M418.0 246.9h0M418.5 246.9h0M419.0 246.9h0M419.5 246.9h0M420.0 246.9h0M420.4 246.9h0M420.9 247.0h0M421.4 247.0h0M421.9 247.0h0M422.4 247.1h0M422.8 247.1h0M423.3 247.2h0M423.8 247.2h0M424.3 247.3h0M424.7 247.3h0M425.2 247.4h0M425.7 247.5h0M426.2 247.6h0M426.7 247.8h0M427.1 247.9h0M427.6 248.1h0M428.1 248.3h0M428.6 248.6h0M429.0 248.9h0M429.5 249.3h0M430.0 249.7h0M430.5 250.3h0M431.0 251.1h0M431.4 252.1h0M431.9 253.4h0M432.4 255.1h0M432.9 257.4h0M433.3 260.6h0M433.8 264.8h0M434.3 270.0h0M434.8 275.4h0M435.3 279.0h0M435.7 278.7h0M436.2 274.7h0M436.7 269.2h0M437.2 264.1h0M437.6 260.1h0M438.1 257.1h0M438.6 254.8h0M439.1 253.2h0M439.6 252.0h0M440.0 251.0h0M440.5 250.3h0M441.0 249.7h0M441.5 249.3h0M441.9 248.9h0M442.4 248.6h0M442.9 248.4h0M443.4 248.2h0M443.9 248.0h0M444.3 247.9h0M444.8 247.8h0M445.3 247.7h0M445.8 247.6h0M446.2 247.5h0M446.7 247.5h0M447.2 247.4h0M447.7 247.4h0M448.2 247.3h0M448.6 247.3h0M449.1 247.3h0M449.6 247.3h0M450.1 247.3h0M450.5 247.3h0M451.0 247.3h0M451.5 247.3h0M452.0 247.3h0M452.5 247.4h0M452.9 247.4h0M453.4 247.5h0M453.9 247.5h0M454.4 247.6h0M454.8 247.7h0M455.3 247.8h0M455.8 247.9h0M456.3 248.0h0M456.8 248.2h0M457.2 248.4h0M457.7 248.6h0M458.2 248.9h0M458.7 249.3h0M459.1 249.7h0M459.6 250.3h0M460.1 251.0h0M460.6 251.9h0M461.1 253.2h0M461.5 254.8h0M462.0 257.1h0M462.5 260.3h0M463.0 264.9h0M463.4 271.5h0M463.9 280.2h0M464.4 289.9h0M464.9 296.1h0M465.4 293.9h0M465.8 285.2h0M466.3 275.6h0M466.8 267.9h0M467.3 262.4h0M467.7 258.5h0M468.2 255.8h0M468.7 253.9h0M469.2 252.4h0M469.7 251.4h0M470.1 250.5h0M470.6 249.9h0M471.1 249.4h0M471.6 249.0h0M472.0 248.6h0M472.5 248.4h0M473.0 248.1h0M473.5 247.9h0M474.0 247.8h0M474.4 247.6h0M474.9 247.5h0M475.4 247.4h0M475.9 247.3h0M476.3 247.2h0M476.8 247.1h0M477.3 247.1h0M477.8 247.0h0M478.3 247.0h0M478.7 246.9h0M479.2 246.9h0M479.7 246.8h0M480.2 246.8h0M480.6 246.8h0M481.1 246.7h0M481.6 246.7h0M482.1 246.7h0M482.6 246.7h0" stroke="#10e810" stroke-width="2.0" stroke-linecap="round" fill="none"/>
<path d="M299.3 246.7 L299.7 246.7 L300.0 246.7 L300.4 246.7 L300.8 246.7 L301.1 246.7 L301.5 246.7 L301.9 246.7 L302.2 246.7 L302.6 246.8 L303.0 246.8 L303.3 246.8 L303.7 246.8 L304.1 246.8 L304.4 246.8 L304.8 246.8 L305.2 246.9 L305.5 246.9 L305.9 246.9 L306.3 246.9 L306.6 246.9 L307.0 246.9 L307.4 247.0 L307.7 247.0 L308.1 247.0 L308.5 247.0 L308.8 247.1 L309.2 247.1 L309.6 247.1 L309.9 247.2 L310.3 247.2 L310.7 247.2 L311.0 247.3 L311.4 247.3 L311.8 247.3 L312.1 247.4 L312.5 247.4 L312.9 247.5 L313.2 247.5 L313.6 247.6 L314.0 247.6 L314.3 247.7 L314.7 247.8 L315.1 247.8 L315.4 247.9 L315.8 248.0 L316.2 248.1 L316.5 248.2 L316.9 248.3 L317.3 248.4 L317.7 248.5 L318.0 248.6 L318.4 248.8 L318.8 248.9 L319.1 249.1 L319.5 249.3 L319.9 249.5 L320.2 249.7 L320.6 249.9 L321.0 250.2 L321.3 250.5 L321.7 250.9 L322.1 251.3 L322.4 251.7 L322.8 252.2 L323.2 252.8 L323.5 253.4 L323.9 254.2 L324.3 255.0 L324.6 256.0 L325.0 257.2 L325.4 258.5 L325.7 260.1 L326.1 261.9 L326.5 264.1 L326.8 266.6 L327.2 269.5 L327.6 272.7 L327.9 276.2 L328.3 279.8 L328.7 283.1 L329.0 285.9 L329.4 287.7 L329.8 288.0 L330.1 287.0 L330.5 284.7 L330.9 281.6 L331.2 278.0 L331.6 274.5 L332.0 271.1 L332.3 268.1 L332.7 265.5 L333.1 263.1 L333.4 261.2 L333.8 259.5 L334.2 258.0 L334.5 256.8 L334.9 255.8 L335.3 254.9 L335.6 254.1 L336.0 253.4 L336.4 252.8 L336.7 252.3 L337.1 251.9 L337.5 251.5 L337.8 251.1 L338.2 250.8 L338.6 250.6 L338.9 250.3 L339.3 250.1 L339.7 250.0 L340.0 249.8 L340.4 249.7 L340.8 249.5 L341.1 249.4 L341.5 249.3 L341.9 249.3 L342.2 249.2 L342.6 249.1 L343.0 249.1 L343.3 249.1 L343.7 249.0 L344.1 249.0 L344.4 249.0 L344.8 249.0 L345.2 249.0 L345.5 249.1 L345.9 249.1 L346.3 249.2 L346.6 249.2 L347.0 249.3 L347.4 249.4 L347.7 249.5 L348.1 249.6 L348.5 249.7 L348.8 249.9 L349.2 250.1 L349.6 250.3 L349.9 250.5 L350.3 250.8 L350.7 251.1 L351.0 251.4 L351.4 251.8 L351.8 252.3 L352.1 252.8 L352.5 253.4 L352.9 254.1 L353.2 254.9 L353.6 255.9 L354.0 257.0 L354.4 258.4 L354.7 259.9 L355.1 261.7 L355.5 263.8 L355.8 266.2 L356.2 268.9 L356.6 271.8 L356.9 274.7 L357.3 277.4 L357.7 279.5 L358.0 280.6 L358.4 280.6 L358.8 279.5 L359.1 277.4 L359.5 274.7 L359.9 271.8 L360.2 268.9 L360.6 266.2 L361.0 263.7 L361.3 261.6 L361.7 259.8 L362.1 258.2 L362.4 256.9 L362.8 255.7 L363.2 254.8 L363.5 253.9 L363.9 253.2 L364.3 252.6 L364.6 252.0 L365.0 251.5 L365.4 251.1 L365.7 250.8 L366.1 250.4 L366.5 250.1 L366.8 249.9 L367.2 249.7 L367.6 249.5 L367.9 249.3 L368.3 249.1 L368.7 249.0 L369.0 248.8 L369.4 248.7 L369.8 248.6 L370.1 248.5 L370.5 248.4 L370.9 248.4 L371.2 248.3 L371.6 248.2 L372.0 248.2 L372.3 248.1 L372.7 248.1 L373.1 248.1 L373.4 248.0 L373.8 248.0 L374.2 248.0 L374.5 248.0 L374.9 248.0 L375.3 248.0 L375.6 248.0 L376.0 248.0 L376.4 248.0 L376.7 248.0 L377.1 248.0 L377.5 248.1 L377.8 248.1 L378.2 248.2 L378.6 248.2 L378.9 248.3 L379.3 248.4 L379.7 248.5 L380.0 248.6 L380.4 248.8 L380.8 249.0 L381.1 249.2 L381.5 249.4 L381.9 249.7 L382.2 250.1 L382.6 250.5 L383.0 251.1 L383.3 251.7 L383.7 252.5 L384.1 253.4 L384.4 254.5 L384.8 255.8 L385.2 257.2 L385.5 258.7 L385.9 259.9 L386.3 260.7 L386.6 260.9 L387.0 260.4 L387.4 259.3 L387.7 258.0 L388.1 256.5 L388.5 255.2 L388.8 253.9 L389.2 252.9 L389.6 252.1 L389.9 251.3 L390.3 250.8 L390.7 250.3 L391.1 249.9 L391.4 249.5 L391.8 249.3 L392.2 249.0 L392.5 248.8 L392.9 248.7 L393.3 248.5 L393.6 248.4 L394.0 248.3 L394.4 248.2 L394.7 248.1 L395.1 248.1 L395.5 248.0 L395.8 248.0 L396.2 248.0 L396.6 248.0 L396.9 248.0 L397.3 248.0 L397.7 248.0 L398.0 248.0 L398.4 248.0 L398.8 248.0 L399.1 248.1 L399.5 248.1 L399.9 248.2 L400.2 248.3 L400.6 248.4 L401.0 248.5 L401.3 248.7 L401.7 248.8 L402.1 249.0 L402.4 249.2 L402.8 249.5 L403.2 249.8 L403.5 250.2 L403.9 250.7 L404.3 251.3 L404.6 252.0 L405.0 252.8 L405.4 253.8 L405.7 255.0 L406.1 256.4 L406.5 257.8 L406.8 259.3 L407.2 260.5 L407.6 261.2 L407.9 261.2 L408.3 260.5 L408.7 259.3 L409.0 257.9 L409.4 256.4 L409.8 255.0 L410.1 253.9 L410.5 252.9 L410.9 252.0 L411.2 251.3 L411.6 250.8 L412.0 250.3 L412.3 249.9 L412.7 249.6 L413.1 249.3 L413.4 249.1 L413.8 248.9 L414.2 248.7 L414.5 248.6 L414.9 248.5 L415.3 248.4 L415.6 248.3 L416.0 248.2 L416.4 248.2 L416.7 248.1 L417.1 248.1 L417.5 248.1 L417.8 248.1 L418.2 248.0 L418.6 248.0 L418.9 248.0 L419.3 248.0 L419.7 248.0 L420.0 248.1 L420.4 248.1 L420.8 248.1 L421.1 248.1 L421.5 248.2 L421.9 248.2 L422.2 248.3 L422.6 248.4 L423.0 248.4 L423.3 248.5 L423.7 248.6 L424.1 248.7 L424.4 248.8 L424.8 248.9 L425.2 249.0 L425.5 249.2 L425.9 249.3 L426.3 249.5 L426.6 249.7 L427.0 249.9 L427.4 250.2 L427.8 250.5 L428.1 250.8 L428.5 251.2 L428.9 251.6 L429.2 252.1 L429.6 252.6 L430.0 253.2 L430.3 253.9 L430.7 254.8 L431.1 255.7 L431.4 256.9 L431.8 258.2 L432.2 259.8 L432.5 261.6 L432.9 263.7 L433.3 266.1 L433.6 268.8 L434.0 271.8 L434.4 274.8 L434.7 277.6 L435.1 280.0 L435.5 281.4 L435.8 281.8 L436.2 280.9 L436.6 278.9 L436.9 276.3 L437.3 273.3 L437.7 270.3 L438.0 267.5 L438.4 265.0 L438.8 262.7 L439.1 260.8 L439.5 259.1 L439.9 257.7 L440.2 256.5 L440.6 255.4 L441.0 254.6 L441.3 253.8 L441.7 253.1 L442.1 252.6 L442.4 252.1 L442.8 251.7 L443.2 251.3 L443.5 251.0 L443.9 250.7 L444.3 250.5 L444.6 250.2 L445.0 250.1 L445.4 249.9 L445.7 249.7 L446.1 249.6 L446.5 249.5 L446.8 249.4 L447.2 249.4 L447.6 249.3 L447.9 249.2 L448.3 249.2 L448.7 249.2 L449.0 249.2 L449.4 249.2 L449.8 249.2 L450.1 249.2 L450.5 249.2 L450.9 249.2 L451.2 249.3 L451.6 249.4 L452.0 249.4 L452.3 249.5 L452.7 249.6 L453.1 249.7 L453.4 249.9 L453.8 250.0 L454.2 250.2 L454.5 250.4 L454.9 250.6 L455.3 250.9 L455.6 251.2 L456.0 251.5 L456.4 251.9 L456.7 252.4 L457.1 252.9 L457.5 253.4 L457.8 254.1 L458.2 254.9 L458.6 255.8 L458.9 256.8 L459.3 258.0 L459.7 259.4 L460.0 261.1 L460.4 263.0 L460.8 265.3 L461.1 267.9 L461.5 270.9 L461.9 274.3 L462.2 277.9 L462.6 281.5 L463.0 284.9 L463.3 287.5 L463.7 288.9 L464.1 288.9 L464.5 287.5 L464.8 284.8 L465.2 281.5 L465.6 277.8 L465.9 274.2 L466.3 270.8 L466.7 267.8 L467.0 265.1 L467.4 262.9 L467.8 260.9 L468.1 259.2 L468.5 257.8 L468.9 256.5 L469.2 255.5 L469.6 254.6 L470.0 253.8 L470.3 253.1 L470.7 252.5 L471.1 252.0 L471.4 251.5 L471.8 251.1 L472.2 250.7 L472.5 250.4 L472.9 250.1 L473.3 249.8 L473.6 249.6 L474.0 249.4 L474.4 249.2 L474.7 249.0 L475.1 248.9 L475.5 248.7 L475.8 248.6 L476.2 248.4 L476.6 248.3 L476.9 248.2 L477.3 248.1 L477.7 248.0 L478.0 248.0 L478.4 247.9 L478.8 247.8 L479.1 247.7 L479.5 247.7 L479.9 247.6 L480.2 247.6 L480.6 247.5 L481.0 247.5 L481.3 247.4 L481.7 247.4 L482.1 247.3 L482.4 247.3 L482.8 247.3" fill="none" stroke="#6060ff" stroke-width="1"/>
<path d="M299.5 246.7h0M300.0 246.7h0M300.5 246.7h0M301.0 246.7h0M301.5 246.7h0M301.9 246.7h0M302.4 246.7h0M302.9 246.8h0M303.4 246.8h0M303.8 246.8h0M304.3 246.8h0M304.8 246.8h0M305.3 246.9h0M305.8 246.9h0M306.2 246.9h0M306.7 246.9h0M307.2 247.0h0M307.7 247.0h0M308.1 247.0h0M308.6 247.1h0M309.1 247.1h0M309.6 247.1h0M310.1 247.2h0M310.5 247.2h0M311.0 247.3h0M311.5 247.3h0M312.0 247.4h0M312.4 247.4h0M312.9 247.5h0M313.4 247.5h0M313.9 247.6h0M314.4 247.7h0M314.8 247.8h0M315.3 247.9h0M315.8 248.0h0M316.3 248.1h0M316.7 248.2h0M317.2 248.3h0M317.7 248.5h0M318.2 248.7h0M318.7 248.9h0M319.1 249.1h0M319.6 249.3h0M320.1 249.6h0M320.6 249.9h0M321.0 250.3h0M321.5 250.7h0M322.0 251.2h0M322.5 251.8h0M323.0 252.4h0M323.4 253.2h0M323.9 254.2h0M324.4 255.4h0M324.9 256.8h0M325.3 258.5h0M325.8 260.6h0M326.3 263.1h0M326.8 266.3h0M327.3 270.0h0M327.7 274.3h0M328.2 279.0h0M328.7 283.4h0M329.2 286.7h0M329.6 288.1h0M330.1 287.0h0M330.6 283.9h0M331.1 279.5h0M331.6 274.9h0M332.0 270.5h0M332.5 266.8h0M333.0 263.6h0M333.5 261.0h0M333.9 258.9h0M334.4 257.2h0M334.9 255.8h0M335.4 254.6h0M335.9 253.7h0M336.3 252.9h0M336.8 252.2h0M337.3 251.7h0M337.8 251.2h0M338.2 250.8h0M338.7 250.5h0M339.2 250.2h0M339.7 250.0h0M340.2 249.7h0M340.6 249.6h0M341.1 249.4h0M341.6 249.3h0M342.1 249.2h0M342.5 249.1h0M343.0 249.1h0M343.5 249.0h0M344.0 249.0h0M344.5 249.0h0M344.9 249.0h0M345.4 249.1h0M345.9 249.1h0M346.4 249.2h0M346.8 249.2h0M347.3 249.4h0M347.8 249.5h0M348.3 249.6h0M348.8 249.8h0M349.2 250.1h0M349.7 250.3h0M350.2 250.7h0M350.7 251.0h0M351.1 251.5h0M351.6 252.1h0M352.1 252.7h0M352.6 253.5h0M353.1 254.5h0M353.5 255.7h0M354.0 257.1h0M354.5 258.9h0M355.0 261.1h0M355.4 263.8h0M355.9 267.0h0M356.4 270.6h0M356.9 274.4h0M357.4 277.9h0M357.8 280.2h0M358.3 280.7h0M358.8 279.3h0M359.3 276.3h0M359.7 272.6h0M360.2 268.8h0M360.7 265.4h0M361.2 262.4h0M361.7 259.9h0M362.1 257.9h0M362.6 256.3h0M363.1 254.9h0M363.6 253.8h0M364.1 252.9h0M364.5 252.1h0M365.0 251.5h0M365.5 251.0h0M366.0 250.5h0M366.4 250.2h0M366.9 249.8h0M367.4 249.6h0M367.9 249.3h0M368.4 249.1h0M368.8 248.9h0M369.3 248.8h0M369.8 248.6h0M370.3 248.5h0M370.7 248.4h0M371.2 248.3h0M371.7 248.2h0M372.2 248.2h0M372.7 248.1h0M373.1 248.1h0M373.6 248.0h0M374.1 248.0h0M374.6 248.0h0M375.0 248.0h0M375.5 248.0h0M376.0 248.0h0M376.5 248.0h0M377.0 248.0h0M377.4 248.1h0M377.9 248.1h0M378.4 248.2h0M378.9 248.3h0M379.3 248.4h0M379.8 248.5h0M380.3 248.7h0M380.8 249.0h0M381.3 249.2h0M381.7 249.6h0M382.2 250.1h0M382.7 250.6h0M383.2 251.4h0M383.6 252.3h0M384.1 253.6h0M384.6 255.1h0M385.1 256.8h0M385.6 258.7h0M386.0 260.3h0M386.5 260.9h0M387.0 260.5h0M387.5 259.0h0M387.9 257.2h0M388.4 255.4h0M388.9 253.8h0M389.4 252.5h0M389.9 251.5h0M390.3 250.7h0M390.8 250.1h0M391.3 249.6h0M391.8 249.3h0M392.2 249.0h0M392.7 248.7h0M393.2 248.5h0M393.7 248.4h0M394.2 248.3h0M394.6 248.2h0M395.1 248.1h0M395.6 248.0h0M396.1 248.0h0M396.5 248.0h0M397.0 248.0h0M397.5 248.0h0M398.0 248.0h0M398.5 248.0h0M398.9 248.1h0M399.4 248.1h0M399.9 248.2h0M400.4 248.3h0M400.8 248.5h0M401.3 248.7h0M401.8 248.9h0M402.3 249.1h0M402.8 249.5h0M403.2 249.9h0M403.7 250.5h0M404.2 251.2h0M404.7 252.1h0M405.1 253.2h0M405.6 254.7h0M406.1 256.4h0M406.6 258.3h0M407.1 260.1h0M407.5 261.1h0M408.0 261.1h0M408.5 259.9h0M409.0 258.1h0M409.4 256.2h0M409.9 254.5h0M410.4 253.1h0M410.9 252.0h0M411.4 251.1h0M411.8 250.5h0M412.3 249.9h0M412.8 249.5h0M413.3 249.2h0M413.7 248.9h0M414.2 248.7h0M414.7 248.5h0M415.2 248.4h0M415.7 248.3h0M416.1 248.2h0M416.6 248.1h0M417.1 248.1h0M417.6 248.1h0M418.0 248.0h0M418.5 248.0h0M419.0 248.0h0M419.5 248.0h0M420.0 248.1h0M420.4 248.1h0M420.9 248.1h0M421.4 248.2h0M421.9 248.2h0M422.4 248.3h0M422.8 248.4h0M423.3 248.5h0M423.8 248.6h0M424.3 248.7h0M424.7 248.9h0M425.2 249.0h0M425.7 249.2h0M426.2 249.5h0M426.7 249.7h0M427.1 250.0h0M427.6 250.4h0M428.1 250.8h0M428.6 251.2h0M429.0 251.8h0M429.5 252.5h0M430.0 253.3h0M430.5 254.3h0M431.0 255.5h0M431.4 256.9h0M431.9 258.7h0M432.4 260.9h0M432.9 263.5h0M433.3 266.7h0M433.8 270.4h0M434.3 274.3h0M434.8 278.0h0M435.3 280.8h0M435.7 281.8h0M436.2 280.8h0M436.7 278.1h0M437.2 274.4h0M437.6 270.5h0M438.1 266.8h0M438.6 263.7h0M439.1 261.0h0M439.6 258.9h0M440.0 257.1h0M440.5 255.7h0M441.0 254.5h0M441.5 253.5h0M441.9 252.8h0M442.4 252.1h0M442.9 251.6h0M443.4 251.1h0M443.9 250.7h0M444.3 250.4h0M444.8 250.1h0M445.3 249.9h0M445.8 249.7h0M446.2 249.6h0M446.7 249.5h0M447.2 249.4h0M447.7 249.3h0M448.2 249.2h0M448.6 249.2h0M449.1 249.2h0M449.6 249.2h0M450.1 249.2h0M450.5 249.2h0M451.0 249.3h0M451.5 249.3h0M452.0 249.4h0M452.5 249.6h0M452.9 249.7h0M453.4 249.9h0M453.9 250.1h0M454.4 250.3h0M454.8 250.6h0M455.3 250.9h0M455.8 251.3h0M456.3 251.8h0M456.8 252.4h0M457.2 253.0h0M457.7 253.9h0M458.2 254.8h0M458.7 256.0h0M459.1 257.4h0M459.6 259.2h0M460.1 261.4h0M460.6 264.0h0M461.1 267.3h0M461.5 271.1h0M462.0 275.6h0M462.5 280.3h0M463.0 284.8h0M463.4 288.0h0M463.9 289.1h0M464.4 287.7h0M464.9 284.3h0M465.4 279.8h0M465.8 275.0h0M466.3 270.6h0M466.8 266.7h0M467.3 263.5h0M467.7 260.9h0M468.2 258.8h0M468.7 257.0h0M469.2 255.6h0M469.7 254.4h0M470.1 253.4h0M470.6 252.6h0M471.1 251.9h0M471.6 251.3h0M472.0 250.8h0M472.5 250.4h0M473.0 250.0h0M473.5 249.7h0M474.0 249.4h0M474.4 249.2h0M474.9 248.9h0M475.4 248.7h0M475.9 248.6h0M476.3 248.4h0M476.8 248.3h0M477.3 248.1h0M477.8 248.0h0M478.3 247.9h0M478.7 247.8h0M479.2 247.7h0M479.7 247.6h0M480.2 247.6h0M480.6 247.5h0M481.1 247.4h0M481.6 247.4h0M482.1 247.3h0M482.6 247.3h0" stroke="#1a1aff" stroke-width="2.0" stroke-linecap="round" fill="none"/>
<path d="M299.3 246.5 L299.7 246.5 L300.0 246.5 L300.4 246.5 L300.8 246.5 L301.1 246.5 L301.5 246.5 L301.9 246.5 L302.2 246.5 L302.6 246.5 L303.0 246.5 L303.3 246.5 L303.7 246.5 L304.1 246.5 L304.4 246.5 L304.8 246.5 L305.2 246.5 L305.5 246.5 L305.9 246.5 L306.3 246.5 L306.6 246.5 L307.0 246.5 L307.4 246.5 L307.7 246.5 L308.1 246.5 L308.5 246.5 L308.8 246.5 L309.2 246.5 L309.6 246.5 L309.9 246.5 L310.3 246.5 L310.7 246.5 L311.0 246.5 L311.4 246.5 L311.8 246.5 L312.1 246.5 L312.5 246.5 L312.9 246.5 L313.2 246.5 L313.6 246.6 L314.0 246.6 L314.3 246.6 L314.7 246.6 L315.1 246.6 L315.4 246.6 L315.8 246.6 L316.2 246.6 L316.5 246.6 L316.9 246.6 L317.3 246.6 L317.7 246.6 L318.0 246.6 L318.4 246.6 L318.8 246.6 L319.1 246.6 L319.5 246.6 L319.9 246.6 L320.2 246.6 L320.6 246.6 L321.0 246.6 L321.3 246.6 L321.7 246.6 L322.1 246.6 L322.4 246.6 L322.8 246.6 L323.2 246.6 L323.5 246.7 L323.9 246.7 L324.3 246.7 L324.6 246.7 L325.0 246.7 L325.4 246.7 L325.7 246.7 L326.1 246.7 L326.5 246.7 L326.8 246.7 L327.2 246.7 L327.6 246.7 L327.9 246.7 L328.3 246.7 L328.7 246.7 L329.0 246.7 L329.4 246.7 L329.8 246.7 L330.1 246.7 L330.5 246.8 L330.9 246.8 L331.2 246.8 L331.6 246.8 L332.0 246.8 L332.3 246.8 L332.7 246.8 L333.1 246.8 L333.4 246.8 L333.8 246.8 L334.2 246.8 L334.5 246.8 L334.9 246.8 L335.3 246.8 L335.6 246.8 L336.0 246.9 L336.4 246.9 L336.7 246.9 L337.1 246.9 L337.5 246.9 L337.8 246.9 L338.2 246.9 L338.6 246.9 L338.9 246.9 L339.3 246.9 L339.7 246.9 L340.0 247.0 L340.4 247.0 L340.8 247.0 L341.1 247.0 L341.5 247.0 L341.9 247.0 L342.2 247.0 L342.6 247.0 L343.0 247.0 L343.3 247.1 L343.7 247.1 L344.1 247.1 L344.4 247.1 L344.8 247.1 L345.2 247.1 L345.5 247.1 L345.9 247.1 L346.3 247.2 L346.6 247.2 L347.0 247.2 L347.4 247.2 L347.7 247.2 L348.1 247.2 L348.5 247.2 L348.8 247.3 L349.2 247.3 L349.6 247.3 L349.9 247.3 L350.3 247.3 L350.7 247.4 L351.0 247.4 L351.4 247.4 L351.8 247.4 L352.1 247.4 L352.5 247.5 L352.9 247.5 L353.2 247.5 L353.6 247.5 L354.0 247.5 L354.4 247.6 L354.7 247.6 L355.1 247.6 L355.5 247.6 L355.8 247.7 L356.2 247.7 L356.6 247.7 L356.9 247.8 L357.3 247.8 L357.7 247.8 L358.0 247.9 L358.4 247.9 L358.8 247.9 L359.1 248.0 L359.5 248.0 L359.9 248.0 L360.2 248.1 L360.6 248.1 L361.0 248.2 L361.3 248.2 L361.7 248.2 L362.1 248.3 L362.4 248.3 L362.8 248.4 L363.2 248.4 L363.5 248.5 L363.9 248.5 L364.3 248.6 L364.6 248.7 L365.0 248.7 L365.4 248.8 L365.7 248.8 L366.1 248.9 L366.5 249.0 L366.8 249.1 L367.2 249.1 L367.6 249.2 L367.9 249.3 L368.3 249.4 L368.7 249.5 L369.0 249.6 L369.4 249.7 L369.8 249.8 L370.1 249.9 L370.5 250.0 L370.9 250.1 L371.2 250.3 L371.6 250.4 L372.0 250.5 L372.3 250.7 L372.7 250.8 L373.1 251.0 L373.4 251.2 L373.8 251.4 L374.2 251.6 L374.5 251.8 L374.9 252.0 L375.3 252.2 L375.6 252.5 L376.0 252.7 L376.4 253.0 L376.7 253.3 L377.1 253.6 L377.5 253.9 L377.8 254.3 L378.2 254.7 L378.6 255.1 L378.9 255.5 L379.3 256.0 L379.7 256.5 L380.0 257.1 L380.4 257.7 L380.8 258.3 L381.1 259.0 L381.5 259.8 L381.9 260.6 L382.2 261.5 L382.6 262.5 L383.0 263.5 L383.3 264.7 L383.7 265.9 L384.1 267.3 L384.4 268.8 L384.8 270.4 L385.2 272.2 L385.5 274.0 L385.9 276.1 L386.3 278.3 L386.6 280.6 L387.0 283.0 L387.4 285.5 L387.7 288.0 L388.1 290.6 L388.5 293.0 L388.8 295.3 L389.2 297.3 L389.6 298.9 L389.9 300.1 L390.3 300.8 L390.7 300.9 L391.1 300.5 L391.4 299.6 L391.8 298.3 L392.2 296.6 L392.5 294.6 L392.9 292.5 L393.3 290.3 L393.6 288.1 L394.0 285.9 L394.4 283.8 L394.7 281.9 L395.1 280.1 L395.5 278.5 L395.8 277.0 L396.2 275.7 L396.6 274.6 L396.9 273.6 L397.3 272.8 L397.7 272.1 L398.0 271.5 L398.4 271.1 L398.8 270.9 L399.1 270.7 L399.5 270.7 L399.9 270.9 L400.2 271.1 L400.6 271.5 L401.0 272.1 L401.3 272.8 L401.7 273.6 L402.1 274.6 L402.4 275.7 L402.8 277.0 L403.2 278.5 L403.5 280.1 L403.9 281.9 L404.3 283.8 L404.6 285.9 L405.0 288.1 L405.4 290.3 L405.7 292.5 L406.1 294.6 L406.5 296.6 L406.8 298.3 L407.2 299.6 L407.6 300.5 L407.9 300.9 L408.3 300.8 L408.7 300.1 L409.0 298.9 L409.4 297.3 L409.8 295.3 L410.1 293.0 L410.5 290.6 L410.9 288.0 L411.2 285.5 L411.6 283.0 L412.0 280.6 L412.3 278.3 L412.7 276.1 L413.1 274.0 L413.4 272.2 L413.8 270.4 L414.2 268.8 L414.5 267.3 L414.9 265.9 L415.3 264.7 L415.6 263.5 L416.0 262.5 L416.4 261.5 L416.7 260.6 L417.1 259.8 L417.5 259.0 L417.8 258.3 L418.2 257.7 L418.6 257.1 L418.9 256.5 L419.3 256.0 L419.7 255.5 L420.0 255.1 L420.4 254.7 L420.8 254.3 L421.1 253.9 L421.5 253.6 L421.9 253.3 L422.2 253.0 L422.6 252.7 L423.0 252.5 L423.3 252.2 L423.7 252.0 L424.1 251.8 L424.4 251.6 L424.8 251.4 L425.2 251.2 L425.5 251.0 L425.9 250.8 L426.3 250.7 L426.6 250.5 L427.0 250.4 L427.4 250.3 L427.8 250.1 L428.1 250.0 L428.5 249.9 L428.9 249.8 L429.2 249.7 L429.6 249.6 L430.0 249.5 L430.3 249.4 L430.7 249.3 L431.1 249.2 L431.4 249.1 L431.8 249.1 L432.2 249.0 L432.5 248.9 L432.9 248.8 L433.3 248.8 L433.6 248.7 L434.0 248.7 L434.4 248.6 L434.7 248.5 L435.1 248.5 L435.5 248.4 L435.8 248.4 L436.2 248.3 L436.6 248.3 L436.9 248.2 L437.3 248.2 L437.7 248.2 L438.0 248.1 L438.4 248.1 L438.8 248.0 L439.1 248.0 L439.5 248.0 L439.9 247.9 L440.2 247.9 L440.6 247.9 L441.0 247.8 L441.3 247.8 L441.7 247.8 L442.1 247.7 L442.4 247.7 L442.8 247.7 L443.2 247.6 L443.5 247.6 L443.9 247.6 L444.3 247.6 L444.6 247.5 L445.0 247.5 L445.4 247.5 L445.7 247.5 L446.1 247.5 L446.5 247.4 L446.8 247.4 L447.2 247.4 L447.6 247.4 L447.9 247.4 L448.3 247.3 L448.7 247.3 L449.0 247.3 L449.4 247.3 L449.8 247.3 L450.1 247.2 L450.5 247.2 L450.9 247.2 L451.2 247.2 L451.6 247.2 L452.0 247.2 L452.3 247.2 L452.7 247.1 L453.1 247.1 L453.4 247.1 L453.8 247.1 L454.2 247.1 L454.5 247.1 L454.9 247.1 L455.3 247.1 L455.6 247.0 L456.0 247.0 L456.4 247.0 L456.7 247.0 L457.1 247.0 L457.5 247.0 L457.8 247.0 L458.2 247.0 L458.6 247.0 L458.9 246.9 L459.3 246.9 L459.7 246.9 L460.0 246.9 L460.4 246.9 L460.8 246.9 L461.1 246.9 L461.5 246.9 L461.9 246.9 L462.2 246.9 L462.6 246.9 L463.0 246.8 L463.3 246.8 L463.7 246.8 L464.1 246.8 L464.5 246.8 L464.8 246.8 L465.2 246.8 L465.6 246.8 L465.9 246.8 L466.3 246.8 L466.7 246.8 L467.0 246.8 L467.4 246.8 L467.8 246.8 L468.1 246.8 L468.5 246.7 L468.9 246.7 L469.2 246.7 L469.6 246.7 L470.0 246.7 L470.3 246.7 L470.7 246.7 L471.1 246.7 L471.4 246.7 L471.8 246.7 L472.2 246.7 L472.5 246.7 L472.9 246.7 L473.3 246.7 L473.6 246.7 L474.0 246.7 L474.4 246.7 L474.7 246.7 L475.1 246.7 L475.5 246.6 L475.8 246.6 L476.2 246.6 L476.6 246.6 L476.9 246.6 L477.3 246.6 L477.7 246.6 L478.0 246.6 L478.4 246.6 L478.8 246.6 L479.1 246.6 L479.5 246.6 L479.9 246.6 L480.2 246.6 L480.6 246.6 L481.0 246.6 L481.3 246.6 L481.7 246.6 L482.1 246.6 L482.4 246.6 L482.8 246.6" fill="none" stroke="#00e0e0" stroke-width="1.6"/>
<path d="M299.5 246.5h0M300.0 246.5h0M300.5 246.5h0M301.0 246.5h0M301.5 246.5h0M301.9 246.5h0M302.4 246.5h0M302.9 246.5h0M303.4 246.5h0M303.8 246.5h0M304.3 246.5h0M304.8 246.5h0M305.3 246.5h0M305.8 246.5h0M306.2 246.5h0M306.7 246.5h0M307.2 246.5h0M307.7 246.5h0M308.1 246.5h0M308.6 246.5h0M309.1 246.5h0M309.6 246.5h0M310.1 246.5h0M310.5 246.5h0M311.0 246.5h0M311.5 246.5h0M312.0 246.5h0M312.4 246.5h0M312.9 246.5h0M313.4 246.5h0M313.9 246.6h0M314.4 246.6h0M314.8 246.6h0M315.3 246.6h0M315.8 246.6h0M316.3 246.6h0M316.7 246.6h0M317.2 246.6h0M317.7 246.6h0M318.2 246.6h0M318.7 246.6h0M319.1 246.6h0M319.6 246.6h0M320.1 246.6h0M320.6 246.6h0M321.0 246.6h0M321.5 246.6h0M322.0 246.6h0M322.5 246.6h0M323.0 246.6h0M323.4 246.7h0M323.9 246.7h0M324.4 246.7h0M324.9 246.7h0M325.3 246.7h0M325.8 246.7h0M326.3 246.7h0M326.8 246.7h0M327.3 246.7h0M327.7 246.7h0M328.2 246.7h0M328.7 246.7h0M329.2 246.7h0M329.6 246.7h0M330.1 246.7h0M330.6 246.8h0M331.1 246.8h0M331.6 246.8h0M332.0 246.8h0M332.5 246.8h0M333.0 246.8h0M333.5 246.8h0M333.9 246.8h0M334.4 246.8h0M334.9 246.8h0M335.4 246.8h0M335.9 246.9h0M336.3 246.9h0M336.8 246.9h0M337.3 246.9h0M337.8 246.9h0M338.2 246.9h0M338.7 246.9h0M339.2 246.9h0M339.7 246.9h0M340.2 247.0h0M340.6 247.0h0M341.1 247.0h0M341.6 247.0h0M342.1 247.0h0M342.5 247.0h0M343.0 247.0h0M343.5 247.1h0M344.0 247.1h0M344.5 247.1h0M344.9 247.1h0M345.4 247.1h0M345.9 247.1h0M346.4 247.2h0M346.8 247.2h0M347.3 247.2h0M347.8 247.2h0M348.3 247.2h0M348.8 247.3h0M349.2 247.3h0M349.7 247.3h0M350.2 247.3h0M350.7 247.4h0M351.1 247.4h0M351.6 247.4h0M352.1 247.4h0M352.6 247.5h0M353.1 247.5h0M353.5 247.5h0M354.0 247.5h0M354.5 247.6h0M355.0 247.6h0M355.4 247.6h0M355.9 247.7h0M356.4 247.7h0M356.9 247.8h0M357.4 247.8h0M357.8 247.8h0M358.3 247.9h0M358.8 247.9h0M359.3 248.0h0M359.7 248.0h0M360.2 248.1h0M360.7 248.1h0M361.2 248.2h0M361.7 248.2h0M362.1 248.3h0M362.6 248.4h0M363.1 248.4h0M363.6 248.5h0M364.1 248.6h0M364.5 248.6h0M365.0 248.7h0M365.5 248.8h0M366.0 248.9h0M366.4 249.0h0M366.9 249.1h0M367.4 249.2h0M367.9 249.3h0M368.4 249.4h0M368.8 249.5h0M369.3 249.7h0M369.8 249.8h0M370.3 249.9h0M370.7 250.1h0M371.2 250.3h0M371.7 250.4h0M372.2 250.6h0M372.7 250.8h0M373.1 251.0h0M373.6 251.3h0M374.1 251.5h0M374.6 251.8h0M375.0 252.1h0M375.5 252.4h0M376.0 252.7h0M376.5 253.1h0M377.0 253.5h0M377.4 253.9h0M377.9 254.4h0M378.4 254.9h0M378.9 255.5h0M379.3 256.1h0M379.8 256.7h0M380.3 257.5h0M380.8 258.3h0M381.3 259.3h0M381.7 260.3h0M382.2 261.4h0M382.7 262.7h0M383.2 264.1h0M383.6 265.7h0M384.1 267.5h0M384.6 269.5h0M385.1 271.7h0M385.6 274.1h0M386.0 276.8h0M386.5 279.7h0M387.0 282.8h0M387.5 286.1h0M387.9 289.4h0M388.4 292.6h0M388.9 295.6h0M389.4 298.0h0M389.9 299.8h0M390.3 300.8h0M390.8 300.9h0M391.3 300.0h0M391.8 298.4h0M392.2 296.1h0M392.7 293.4h0M393.2 290.6h0M393.7 287.7h0M394.2 284.9h0M394.6 282.3h0M395.1 280.0h0M395.6 277.9h0M396.1 276.1h0M396.5 274.6h0M397.0 273.3h0M397.5 272.3h0M398.0 271.6h0M398.5 271.1h0M398.9 270.8h0M399.4 270.7h0M399.9 270.9h0M400.4 271.3h0M400.8 271.9h0M401.3 272.7h0M401.8 273.9h0M402.3 275.2h0M402.8 276.9h0M403.2 278.8h0M403.7 281.0h0M404.2 283.4h0M404.7 286.1h0M405.1 289.0h0M405.6 291.9h0M406.1 294.6h0M406.6 297.2h0M407.1 299.2h0M407.5 300.5h0M408.0 301.0h0M408.5 300.5h0M409.0 299.2h0M409.4 297.0h0M409.9 294.3h0M410.4 291.2h0M410.9 287.9h0M411.4 284.6h0M411.8 281.4h0M412.3 278.4h0M412.8 275.6h0M413.3 273.0h0M413.7 270.7h0M414.2 268.6h0M414.7 266.7h0M415.2 265.0h0M415.7 263.5h0M416.1 262.1h0M416.6 260.9h0M417.1 259.8h0M417.6 258.8h0M418.0 258.0h0M418.5 257.2h0M419.0 256.4h0M419.5 255.8h0M420.0 255.2h0M420.4 254.7h0M420.9 254.2h0M421.4 253.7h0M421.9 253.3h0M422.4 252.9h0M422.8 252.6h0M423.3 252.2h0M423.8 251.9h0M424.3 251.7h0M424.7 251.4h0M425.2 251.2h0M425.7 250.9h0M426.2 250.7h0M426.7 250.5h0M427.1 250.4h0M427.6 250.2h0M428.1 250.0h0M428.6 249.9h0M429.0 249.7h0M429.5 249.6h0M430.0 249.5h0M430.5 249.4h0M431.0 249.2h0M431.4 249.1h0M431.9 249.0h0M432.4 248.9h0M432.9 248.9h0M433.3 248.8h0M433.8 248.7h0M434.3 248.6h0M434.8 248.5h0M435.3 248.5h0M435.7 248.4h0M436.2 248.3h0M436.7 248.3h0M437.2 248.2h0M437.6 248.2h0M438.1 248.1h0M438.6 248.0h0M439.1 248.0h0M439.6 248.0h0M440.0 247.9h0M440.5 247.9h0M441.0 247.8h0M441.5 247.8h0M441.9 247.7h0M442.4 247.7h0M442.9 247.7h0M443.4 247.6h0M443.9 247.6h0M444.3 247.6h0M444.8 247.5h0M445.3 247.5h0M445.8 247.5h0M446.2 247.4h0M446.7 247.4h0M447.2 247.4h0M447.7 247.4h0M448.2 247.3h0M448.6 247.3h0M449.1 247.3h0M449.6 247.3h0M450.1 247.3h0M450.5 247.2h0M451.0 247.2h0M451.5 247.2h0M452.0 247.2h0M452.5 247.2h0M452.9 247.1h0M453.4 247.1h0M453.9 247.1h0M454.4 247.1h0M454.8 247.1h0M455.3 247.1h0M455.8 247.0h0M456.3 247.0h0M456.8 247.0h0M457.2 247.0h0M457.7 247.0h0M458.2 247.0h0M458.7 247.0h0M459.1 246.9h0M459.6 246.9h0M460.1 246.9h0M460.6 246.9h0M461.1 246.9h0M461.5 246.9h0M462.0 246.9h0M462.5 246.9h0M463.0 246.8h0M463.4 246.8h0M463.9 246.8h0M464.4 246.8h0M464.9 246.8h0M465.4 246.8h0M465.8 246.8h0M466.3 246.8h0M466.8 246.8h0M467.3 246.8h0M467.7 246.8h0M468.2 246.8h0M468.7 246.7h0M469.2 246.7h0M469.7 246.7h0M470.1 246.7h0M470.6 246.7h0M471.1 246.7h0M471.6 246.7h0M472.0 246.7h0M472.5 246.7h0M473.0 246.7h0M473.5 246.7h0M474.0 246.7h0M474.4 246.7h0M474.9 246.7h0M475.4 246.6h0M475.9 246.6h0M476.3 246.6h0M476.8 246.6h0M477.3 246.6h0M477.8 246.6h0M478.3 246.6h0M478.7 246.6h0M479.2 246.6h0M479.7 246.6h0M480.2 246.6h0M480.6 246.6h0M481.1 246.6h0M481.6 246.6h0M482.1 246.6h0M482.6 246.6h0" stroke="#00e0e0" stroke-width="2.0" stroke-linecap="round" fill="none"/>
</g>
<rect x="299.3" y="211.2" width="183.5" height="148.6" fill="none" stroke="#959595" stroke-width="1.5"/>
<path d="M299.3 359.8V357.6M299.3 211.2V213.4M308.48 359.8V358.5M308.48 211.2V212.5M317.65 359.8V357.6M317.65 211.2V213.4M326.82 359.8V358.5M326.82 211.2V212.5M336 359.8V357.6M336 211.2V213.4M345.18 359.8V358.5M345.18 211.2V212.5M354.35 359.8V357.6M354.35 211.2V213.4M363.53 359.8V358.5M363.53 211.2V212.5M372.7 359.8V357.6M372.7 211.2V213.4M381.88 359.8V358.5M381.88 211.2V212.5M391.05 359.8V357.6M391.05 211.2V213.4M400.23 359.8V358.5M400.23 211.2V212.5M409.4 359.8V357.6M409.4 211.2V213.4M418.58 359.8V358.5M418.58 211.2V212.5M427.75 359.8V357.6M427.75 211.2V213.4M436.93 359.8V358.5M436.93 211.2V212.5M446.1 359.8V357.6M446.1 211.2V213.4M455.28 359.8V358.5M455.28 211.2V212.5M464.45 359.8V357.6M464.45 211.2V213.4M473.62 359.8V358.5M473.62 211.2V212.5M482.8 359.8V357.6M482.8 211.2V213.4M299.3 359.8H302M482.8 359.8H480.1M299.3 349.17H302M482.8 349.17H480.1M299.3 338.54H302M482.8 338.54H480.1M299.3 327.91H302M482.8 327.91H480.1M299.3 317.28H302M482.8 317.28H480.1M299.3 306.65H302M482.8 306.65H480.1M299.3 296.02H302M482.8 296.02H480.1M299.3 285.39H302M482.8 285.39H480.1M299.3 274.76H302M482.8 274.76H480.1M299.3 264.13H302M482.8 264.13H480.1M299.3 253.5H302M482.8 253.5H480.1M299.3 242.87H302M482.8 242.87H480.1M299.3 232.24H302M482.8 232.24H480.1M299.3 221.61H302M482.8 221.61H480.1" stroke="#707070" stroke-width="0.9" fill="none"/>
<text x="297.5" y="367.8" font-size="6.3" fill="#333" stroke="#333" stroke-width="0.15" text-anchor="middle">−10</text>
<text x="315.85" y="367.8" font-size="6.3" fill="#333" stroke="#333" stroke-width="0.15" text-anchor="middle">−8</text>
<text x="334.2" y="367.8" font-size="6.3" fill="#333" stroke="#333" stroke-width="0.15" text-anchor="middle">−6</text>
<text x="352.55" y="367.8" font-size="6.3" fill="#333" stroke="#333" stroke-width="0.15" text-anchor="middle">−4</text>
<text x="370.9" y="367.8" font-size="6.3" fill="#333" stroke="#333" stroke-width="0.15" text-anchor="middle">−2</text>
<text x="390.15" y="367.8" font-size="6.3" fill="#333" stroke="#333" stroke-width="0.15" text-anchor="middle">0</text>
<text x="408.5" y="367.8" font-size="6.3" fill="#333" stroke="#333" stroke-width="0.15" text-anchor="middle">2</text>
<text x="426.85" y="367.8" font-size="6.3" fill="#333" stroke="#333" stroke-width="0.15" text-anchor="middle">4</text>
<text x="445.2" y="367.8" font-size="6.3" fill="#333" stroke="#333" stroke-width="0.15" text-anchor="middle">6</text>
<text x="463.55" y="367.8" font-size="6.3" fill="#333" stroke="#333" stroke-width="0.15" text-anchor="middle">8</text>
<text x="481.9" y="367.8" font-size="6.3" fill="#333" stroke="#333" stroke-width="0.15" text-anchor="middle">10</text>
<text x="364.5" y="380.4" font-size="8.0" textLength="55" lengthAdjust="spacing" fill="#222" stroke="#222" stroke-width="0.14">Velocity (mm/s)</text>
<text transform="translate(293 339.3) rotate(-90)" font-size="7.7" textLength="111.9" lengthAdjust="spacing" fill="#222" stroke="#222" stroke-width="0.14">Relative transmission (arb. units)</text>
<text x="417.5" y="400.4" font-size="13.3" fill="#111" text-anchor="middle" style="font-family:'Liberation Serif',serif">(<tspan font-weight="bold" font-size="14.5">d</tspan>)</text>
<rect x="486.8" y="211.2" width="60.1" height="48.6" fill="#fff" stroke="#c8c8c8" stroke-width="1"/>
<path d="M547.5 212.2V260.4H487.8" stroke="#b0b0b0" stroke-width="1.2" fill="none"/>
<rect x="495.65" y="215.4" width="1.2" height="1.2" fill="#666"/>
<text x="507.1" y="218.3" font-size="7.7" letter-spacing="0" fill="#222" stroke="#222" stroke-width="0.14">Experi data</text>
<path d="M488 225.55H504.5" stroke="#ff3838" stroke-width="1.4"/>
<text x="507.1" y="227.85" font-size="7.7" letter-spacing="0" fill="#222" stroke="#222" stroke-width="0.14">Fitting</text>
<path d="M488 235.1H504.5" stroke="#40f040" stroke-width="1.4"/>
<circle cx="496.25" cy="235.1" r="1.1" fill="#10b010"/>
<text x="507.1" y="237.4" font-size="7.7" letter-spacing="0" fill="#222" stroke="#222" stroke-width="0.14">Sextet 1</text>
<path d="M488 244.65H504.5" stroke="#4848ff" stroke-width="1.4"/>
<circle cx="496.25" cy="244.65" r="1.1" fill="#0000b0"/>
<text x="507.1" y="246.95" font-size="7.7" letter-spacing="0" fill="#222" stroke="#222" stroke-width="0.14">Sextet 2</text>
<path d="M488 254.2H504.5" stroke="#30f0f0" stroke-width="1.4"/>
<circle cx="496.25" cy="254.2" r="1.1" fill="#00c0c0"/>
<text x="507.1" y="256.5" font-size="7.7" letter-spacing="0" fill="#222" stroke="#222" stroke-width="0.14">Doublet 1</text>
</svg></body></html>
